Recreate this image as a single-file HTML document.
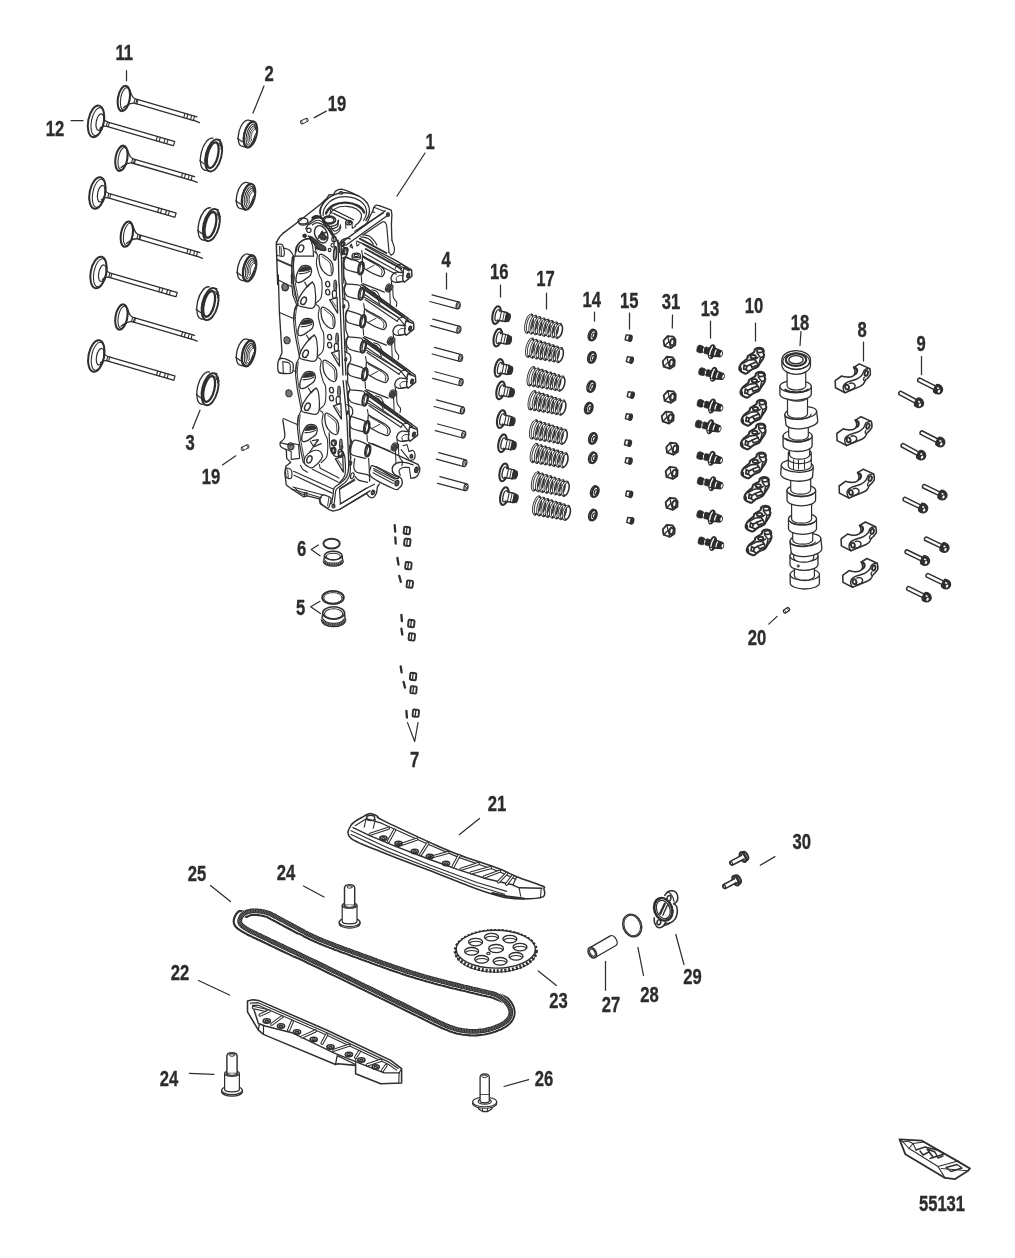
<!DOCTYPE html>
<html><head><meta charset="utf-8"><title>Cylinder Head and Camshaft</title>
<style>
html,body{margin:0;padding:0;background:#fff;}
svg{display:block;}
text{font-family:"Liberation Sans",sans-serif;font-weight:bold;fill:#2b2b2b;stroke:#2b2b2b;stroke-width:0.35px;}
</style></head><body>
<svg width="1015" height="1258" viewBox="0 0 1015 1258" stroke-linecap="round" stroke-linejoin="round">
<rect x="0" y="0" width="1015" height="1258" fill="#fff"/>
<g transform="translate(124.4 98.6) rotate(10)" >
<ellipse cx="-0.6" cy="0.0" rx="5.9" ry="12.8" stroke="#2f2f2f" stroke-width="2.04" fill="none"/>
<ellipse cx="0.9" cy="0.0" rx="4.6" ry="11.3" stroke="#2f2f2f" stroke-width="1.08" fill="none"/>
</g>
<g transform="translate(124.4 98.0) rotate(16.3)" >
<path d="M3.2,-9.0 C5.5,-6 6.5,-2.6 11,-2.2 L75,-2.2 M1.8,9.6 C4.5,6.5 6,2.6 11,2.2 L73,2.2" stroke="#2f2f2f" stroke-width="1.32" fill="none" />
<line x1="10.5" y1="-2.2" x2="10.5" y2="2.2" stroke="#2f2f2f" stroke-width="1.08"/>
<line x1="12.5" y1="-2.2" x2="12.5" y2="2.2" stroke="#2f2f2f" stroke-width="1.08"/>
<line x1="13.5" y1="-2.2" x2="13.5" y2="2.2" stroke="#2f2f2f" stroke-width="1.08"/>
<line x1="62.5" y1="-2.2" x2="62.5" y2="2.2" stroke="#2f2f2f" stroke-width="1.08"/>
<line x1="65.5" y1="-2.2" x2="65.5" y2="2.2" stroke="#2f2f2f" stroke-width="1.08"/>
<line x1="69.5" y1="-2.2" x2="69.5" y2="2.2" stroke="#2f2f2f" stroke-width="1.08"/>
<line x1="72.5" y1="-2.2" x2="72.5" y2="2.2" stroke="#2f2f2f" stroke-width="1.08"/>
<line x1="73.0" y1="2.0" x2="79.0" y2="2.6" stroke="#2f2f2f" stroke-width="1.32"/>
</g>
<g transform="translate(122.0 158.4) rotate(10)" >
<ellipse cx="-0.6" cy="0.0" rx="5.9" ry="12.8" stroke="#2f2f2f" stroke-width="2.04" fill="none"/>
<ellipse cx="0.9" cy="0.0" rx="4.6" ry="11.3" stroke="#2f2f2f" stroke-width="1.08" fill="none"/>
</g>
<g transform="translate(122.0 157.8) rotate(16.3)" >
<path d="M3.2,-9.0 C5.5,-6 6.5,-2.6 11,-2.2 L75,-2.2 M1.8,9.6 C4.5,6.5 6,2.6 11,2.2 L73,2.2" stroke="#2f2f2f" stroke-width="1.32" fill="none" />
<line x1="10.5" y1="-2.2" x2="10.5" y2="2.2" stroke="#2f2f2f" stroke-width="1.08"/>
<line x1="12.5" y1="-2.2" x2="12.5" y2="2.2" stroke="#2f2f2f" stroke-width="1.08"/>
<line x1="13.5" y1="-2.2" x2="13.5" y2="2.2" stroke="#2f2f2f" stroke-width="1.08"/>
<line x1="62.5" y1="-2.2" x2="62.5" y2="2.2" stroke="#2f2f2f" stroke-width="1.08"/>
<line x1="65.5" y1="-2.2" x2="65.5" y2="2.2" stroke="#2f2f2f" stroke-width="1.08"/>
<line x1="69.5" y1="-2.2" x2="69.5" y2="2.2" stroke="#2f2f2f" stroke-width="1.08"/>
<line x1="72.5" y1="-2.2" x2="72.5" y2="2.2" stroke="#2f2f2f" stroke-width="1.08"/>
<line x1="73.0" y1="2.0" x2="79.0" y2="2.6" stroke="#2f2f2f" stroke-width="1.32"/>
</g>
<g transform="translate(127.4 234.3) rotate(10)" >
<ellipse cx="-0.6" cy="0.0" rx="5.9" ry="12.8" stroke="#2f2f2f" stroke-width="2.04" fill="none"/>
<ellipse cx="0.9" cy="0.0" rx="4.6" ry="11.3" stroke="#2f2f2f" stroke-width="1.08" fill="none"/>
</g>
<g transform="translate(127.4 233.7) rotate(16.3)" >
<path d="M3.2,-9.0 C5.5,-6 6.5,-2.6 11,-2.2 L75,-2.2 M1.8,9.6 C4.5,6.5 6,2.6 11,2.2 L73,2.2" stroke="#2f2f2f" stroke-width="1.32" fill="none" />
<line x1="10.5" y1="-2.2" x2="10.5" y2="2.2" stroke="#2f2f2f" stroke-width="1.08"/>
<line x1="12.5" y1="-2.2" x2="12.5" y2="2.2" stroke="#2f2f2f" stroke-width="1.08"/>
<line x1="13.5" y1="-2.2" x2="13.5" y2="2.2" stroke="#2f2f2f" stroke-width="1.08"/>
<line x1="62.5" y1="-2.2" x2="62.5" y2="2.2" stroke="#2f2f2f" stroke-width="1.08"/>
<line x1="65.5" y1="-2.2" x2="65.5" y2="2.2" stroke="#2f2f2f" stroke-width="1.08"/>
<line x1="69.5" y1="-2.2" x2="69.5" y2="2.2" stroke="#2f2f2f" stroke-width="1.08"/>
<line x1="72.5" y1="-2.2" x2="72.5" y2="2.2" stroke="#2f2f2f" stroke-width="1.08"/>
<line x1="73.0" y1="2.0" x2="79.0" y2="2.6" stroke="#2f2f2f" stroke-width="1.32"/>
</g>
<g transform="translate(122.0 317.1) rotate(10)" >
<ellipse cx="-0.6" cy="0.0" rx="5.9" ry="12.8" stroke="#2f2f2f" stroke-width="2.04" fill="none"/>
<ellipse cx="0.9" cy="0.0" rx="4.6" ry="11.3" stroke="#2f2f2f" stroke-width="1.08" fill="none"/>
</g>
<g transform="translate(122.0 316.5) rotate(16.3)" >
<path d="M3.2,-9.0 C5.5,-6 6.5,-2.6 11,-2.2 L75,-2.2 M1.8,9.6 C4.5,6.5 6,2.6 11,2.2 L73,2.2" stroke="#2f2f2f" stroke-width="1.32" fill="none" />
<line x1="10.5" y1="-2.2" x2="10.5" y2="2.2" stroke="#2f2f2f" stroke-width="1.08"/>
<line x1="12.5" y1="-2.2" x2="12.5" y2="2.2" stroke="#2f2f2f" stroke-width="1.08"/>
<line x1="13.5" y1="-2.2" x2="13.5" y2="2.2" stroke="#2f2f2f" stroke-width="1.08"/>
<line x1="62.5" y1="-2.2" x2="62.5" y2="2.2" stroke="#2f2f2f" stroke-width="1.08"/>
<line x1="65.5" y1="-2.2" x2="65.5" y2="2.2" stroke="#2f2f2f" stroke-width="1.08"/>
<line x1="69.5" y1="-2.2" x2="69.5" y2="2.2" stroke="#2f2f2f" stroke-width="1.08"/>
<line x1="72.5" y1="-2.2" x2="72.5" y2="2.2" stroke="#2f2f2f" stroke-width="1.08"/>
<line x1="73.0" y1="2.0" x2="79.0" y2="2.6" stroke="#2f2f2f" stroke-width="1.32"/>
</g>
<g transform="translate(96.8 121.5) rotate(11)" >
<ellipse cx="-0.8" cy="0.0" rx="7.8" ry="16.0" stroke="#2f2f2f" stroke-width="2.0" fill="none"/>
<ellipse cx="0.8" cy="0.0" rx="6.2" ry="14.2" stroke="#2f2f2f" stroke-width="1.08" fill="none"/>
<ellipse cx="3.2" cy="0.0" rx="3.7" ry="8.4" stroke="#2f2f2f" stroke-width="1.2" fill="none"/>
</g>
<g transform="translate(96.8 121.1) rotate(16.2)" >
<path d="M5.5,-5.5 C6.5,-3 8,-2.4 11,-2.2 L80,-2.2 M5,6 C6.5,3.2 8,2.4 11,2.2 L80,2.2" stroke="#2f2f2f" stroke-width="1.32" fill="none" />
<line x1="10.5" y1="-2.2" x2="10.5" y2="2.2" stroke="#2f2f2f" stroke-width="1.08"/>
<line x1="12.5" y1="-2.2" x2="12.5" y2="2.2" stroke="#2f2f2f" stroke-width="1.08"/>
<line x1="62.5" y1="-2.2" x2="62.5" y2="2.2" stroke="#2f2f2f" stroke-width="1.08"/>
<line x1="65.5" y1="-2.2" x2="65.5" y2="2.2" stroke="#2f2f2f" stroke-width="1.08"/>
<line x1="70.5" y1="-2.2" x2="70.5" y2="2.2" stroke="#2f2f2f" stroke-width="1.08"/>
<line x1="73.5" y1="-2.2" x2="73.5" y2="2.2" stroke="#2f2f2f" stroke-width="1.08"/>
<line x1="80.5" y1="-2.2" x2="80.5" y2="2.2" stroke="#2f2f2f" stroke-width="1.2"/>
</g>
<g transform="translate(98.2 193.1) rotate(11)" >
<ellipse cx="-0.8" cy="0.0" rx="7.8" ry="16.0" stroke="#2f2f2f" stroke-width="2.0" fill="none"/>
<ellipse cx="0.8" cy="0.0" rx="6.2" ry="14.2" stroke="#2f2f2f" stroke-width="1.08" fill="none"/>
<ellipse cx="3.2" cy="0.0" rx="3.7" ry="8.4" stroke="#2f2f2f" stroke-width="1.2" fill="none"/>
</g>
<g transform="translate(98.2 192.7) rotate(16.2)" >
<path d="M5.5,-5.5 C6.5,-3 8,-2.4 11,-2.2 L80,-2.2 M5,6 C6.5,3.2 8,2.4 11,2.2 L80,2.2" stroke="#2f2f2f" stroke-width="1.32" fill="none" />
<line x1="10.5" y1="-2.2" x2="10.5" y2="2.2" stroke="#2f2f2f" stroke-width="1.08"/>
<line x1="12.5" y1="-2.2" x2="12.5" y2="2.2" stroke="#2f2f2f" stroke-width="1.08"/>
<line x1="62.5" y1="-2.2" x2="62.5" y2="2.2" stroke="#2f2f2f" stroke-width="1.08"/>
<line x1="65.5" y1="-2.2" x2="65.5" y2="2.2" stroke="#2f2f2f" stroke-width="1.08"/>
<line x1="70.5" y1="-2.2" x2="70.5" y2="2.2" stroke="#2f2f2f" stroke-width="1.08"/>
<line x1="73.5" y1="-2.2" x2="73.5" y2="2.2" stroke="#2f2f2f" stroke-width="1.08"/>
<line x1="80.5" y1="-2.2" x2="80.5" y2="2.2" stroke="#2f2f2f" stroke-width="1.2"/>
</g>
<g transform="translate(99.3 272.6) rotate(11)" >
<ellipse cx="-0.8" cy="0.0" rx="7.8" ry="16.0" stroke="#2f2f2f" stroke-width="2.0" fill="none"/>
<ellipse cx="0.8" cy="0.0" rx="6.2" ry="14.2" stroke="#2f2f2f" stroke-width="1.08" fill="none"/>
<ellipse cx="3.2" cy="0.0" rx="3.7" ry="8.4" stroke="#2f2f2f" stroke-width="1.2" fill="none"/>
</g>
<g transform="translate(99.3 272.2) rotate(16.2)" >
<path d="M5.5,-5.5 C6.5,-3 8,-2.4 11,-2.2 L80,-2.2 M5,6 C6.5,3.2 8,2.4 11,2.2 L80,2.2" stroke="#2f2f2f" stroke-width="1.32" fill="none" />
<line x1="10.5" y1="-2.2" x2="10.5" y2="2.2" stroke="#2f2f2f" stroke-width="1.08"/>
<line x1="12.5" y1="-2.2" x2="12.5" y2="2.2" stroke="#2f2f2f" stroke-width="1.08"/>
<line x1="62.5" y1="-2.2" x2="62.5" y2="2.2" stroke="#2f2f2f" stroke-width="1.08"/>
<line x1="65.5" y1="-2.2" x2="65.5" y2="2.2" stroke="#2f2f2f" stroke-width="1.08"/>
<line x1="70.5" y1="-2.2" x2="70.5" y2="2.2" stroke="#2f2f2f" stroke-width="1.08"/>
<line x1="73.5" y1="-2.2" x2="73.5" y2="2.2" stroke="#2f2f2f" stroke-width="1.08"/>
<line x1="80.5" y1="-2.2" x2="80.5" y2="2.2" stroke="#2f2f2f" stroke-width="1.2"/>
</g>
<g transform="translate(97.1 356.1) rotate(11)" >
<ellipse cx="-0.8" cy="0.0" rx="7.8" ry="16.0" stroke="#2f2f2f" stroke-width="2.0" fill="none"/>
<ellipse cx="0.8" cy="0.0" rx="6.2" ry="14.2" stroke="#2f2f2f" stroke-width="1.08" fill="none"/>
<ellipse cx="3.2" cy="0.0" rx="3.7" ry="8.4" stroke="#2f2f2f" stroke-width="1.2" fill="none"/>
</g>
<g transform="translate(97.1 355.7) rotate(16.2)" >
<path d="M5.5,-5.5 C6.5,-3 8,-2.4 11,-2.2 L80,-2.2 M5,6 C6.5,3.2 8,2.4 11,2.2 L80,2.2" stroke="#2f2f2f" stroke-width="1.32" fill="none" />
<line x1="10.5" y1="-2.2" x2="10.5" y2="2.2" stroke="#2f2f2f" stroke-width="1.08"/>
<line x1="12.5" y1="-2.2" x2="12.5" y2="2.2" stroke="#2f2f2f" stroke-width="1.08"/>
<line x1="62.5" y1="-2.2" x2="62.5" y2="2.2" stroke="#2f2f2f" stroke-width="1.08"/>
<line x1="65.5" y1="-2.2" x2="65.5" y2="2.2" stroke="#2f2f2f" stroke-width="1.08"/>
<line x1="70.5" y1="-2.2" x2="70.5" y2="2.2" stroke="#2f2f2f" stroke-width="1.08"/>
<line x1="73.5" y1="-2.2" x2="73.5" y2="2.2" stroke="#2f2f2f" stroke-width="1.08"/>
<line x1="80.5" y1="-2.2" x2="80.5" y2="2.2" stroke="#2f2f2f" stroke-width="1.2"/>
</g>
<g transform="translate(211.2 154.8) rotate(14)" >
<path d="M-2.4,-16.5 A7.8,16.5 0 0 0 -2.4,16.5" stroke="#2f2f2f" stroke-width="1.32" fill="none" />
<path d="M-2.4,16.5 L2.5,16.3 M-9.6,8.5 L-4.6,10.5" stroke="#2f2f2f" stroke-width="1.2" fill="none" />
<ellipse cx="2.5" cy="0.0" rx="7.8" ry="16.4" stroke="#2f2f2f" stroke-width="1.92" fill="none"/>
<ellipse cx="1.6" cy="0.0" rx="5.2" ry="13.2" stroke="#2f2f2f" stroke-width="2.28" fill="none"/>
<path d="M-3.6,-9 A6.2,14.6 0 0 0 -1,13.5" stroke="#2f2f2f" stroke-width="1.2" fill="none" />
<path d="M2.5,-16.4 L5.5,-16.8 M5,-13.5 L9,-8.5 M6.5,-11 L7.5,-13.5 M8,-8 L9.3,-10.5" stroke="#2f2f2f" stroke-width="1.08" fill="none" />
</g>
<g transform="translate(208.9 224.5) rotate(14)" >
<path d="M-2.4,-16.5 A7.8,16.5 0 0 0 -2.4,16.5" stroke="#2f2f2f" stroke-width="1.32" fill="none" />
<path d="M-2.4,16.5 L2.5,16.3 M-9.6,8.5 L-4.6,10.5" stroke="#2f2f2f" stroke-width="1.2" fill="none" />
<ellipse cx="2.5" cy="0.0" rx="7.8" ry="16.4" stroke="#2f2f2f" stroke-width="1.92" fill="none"/>
<ellipse cx="1.6" cy="0.0" rx="5.2" ry="13.2" stroke="#2f2f2f" stroke-width="2.28" fill="none"/>
<path d="M-3.6,-9 A6.2,14.6 0 0 0 -1,13.5" stroke="#2f2f2f" stroke-width="1.2" fill="none" />
<path d="M2.5,-16.4 L5.5,-16.8 M5,-13.5 L9,-8.5 M6.5,-11 L7.5,-13.5 M8,-8 L9.3,-10.5" stroke="#2f2f2f" stroke-width="1.08" fill="none" />
</g>
<g transform="translate(207.6 303.5) rotate(14)" >
<path d="M-2.4,-16.5 A7.8,16.5 0 0 0 -2.4,16.5" stroke="#2f2f2f" stroke-width="1.32" fill="none" />
<path d="M-2.4,16.5 L2.5,16.3 M-9.6,8.5 L-4.6,10.5" stroke="#2f2f2f" stroke-width="1.2" fill="none" />
<ellipse cx="2.5" cy="0.0" rx="7.8" ry="16.4" stroke="#2f2f2f" stroke-width="1.92" fill="none"/>
<ellipse cx="1.6" cy="0.0" rx="5.2" ry="13.2" stroke="#2f2f2f" stroke-width="2.28" fill="none"/>
<path d="M-3.6,-9 A6.2,14.6 0 0 0 -1,13.5" stroke="#2f2f2f" stroke-width="1.2" fill="none" />
<path d="M2.5,-16.4 L5.5,-16.8 M5,-13.5 L9,-8.5 M6.5,-11 L7.5,-13.5 M8,-8 L9.3,-10.5" stroke="#2f2f2f" stroke-width="1.08" fill="none" />
</g>
<g transform="translate(207.6 388.6) rotate(14)" >
<path d="M-2.4,-16.5 A7.8,16.5 0 0 0 -2.4,16.5" stroke="#2f2f2f" stroke-width="1.32" fill="none" />
<path d="M-2.4,16.5 L2.5,16.3 M-9.6,8.5 L-4.6,10.5" stroke="#2f2f2f" stroke-width="1.2" fill="none" />
<ellipse cx="2.5" cy="0.0" rx="7.8" ry="16.4" stroke="#2f2f2f" stroke-width="1.92" fill="none"/>
<ellipse cx="1.6" cy="0.0" rx="5.2" ry="13.2" stroke="#2f2f2f" stroke-width="2.28" fill="none"/>
<path d="M-3.6,-9 A6.2,14.6 0 0 0 -1,13.5" stroke="#2f2f2f" stroke-width="1.2" fill="none" />
<path d="M2.5,-16.4 L5.5,-16.8 M5,-13.5 L9,-8.5 M6.5,-11 L7.5,-13.5 M8,-8 L9.3,-10.5" stroke="#2f2f2f" stroke-width="1.08" fill="none" />
</g>
<g transform="translate(248.5 134.0) rotate(14)" >
<path d="M-3.5,-13.4 A6.3,13.4 0 0 0 -3.5,13.4 L2,13.4 M-3.5,-13.4 L2,-13.4" stroke="#2f2f2f" stroke-width="1.32" fill="none" />
<path d="M-9.6,7 L-4,9" stroke="#2f2f2f" stroke-width="1.2" fill="none" />
<ellipse cx="2.0" cy="0.0" rx="6.1" ry="13.3" stroke="#2f2f2f" stroke-width="2.04" fill="#fff"/>
<path d="M1.2,-12.4 A5.3,12.4 0 0 0 1.2,12.4" stroke="#2f2f2f" stroke-width="2.0" fill="none" />
<path d="M2.8,-10.7 A4.6,10.7 0 0 0 2.8,10.7" stroke="#2f2f2f" stroke-width="1.08" fill="none" />
<path d="M3.8,-9.2 A3.9,9.2 0 0 0 3.8,9.2" stroke="#2f2f2f" stroke-width="0.96" fill="none" />
<path d="M4.7,-7.7 A3.3,7.7 0 0 0 4.7,7.7" stroke="#2f2f2f" stroke-width="0.84" fill="none" />
<path d="M5.5,-6.2 A2.6,6.2 0 0 0 5.5,6.2" stroke="#2f2f2f" stroke-width="0.84" fill="none" />
<path d="M3,-11 L6,-6 M4.5,-11.5 L7.2,-4 M6.8,-2 L6,5 M7.4,2 L5,9 M4,10.8 L6.6,6.5" stroke="#2f2f2f" stroke-width="0.96" fill="none" />
</g>
<g transform="translate(246.6 196.3) rotate(14)" >
<path d="M-3.5,-13.4 A6.3,13.4 0 0 0 -3.5,13.4 L2,13.4 M-3.5,-13.4 L2,-13.4" stroke="#2f2f2f" stroke-width="1.32" fill="none" />
<path d="M-9.6,7 L-4,9" stroke="#2f2f2f" stroke-width="1.2" fill="none" />
<ellipse cx="2.0" cy="0.0" rx="6.1" ry="13.3" stroke="#2f2f2f" stroke-width="2.04" fill="#fff"/>
<path d="M1.2,-12.4 A5.3,12.4 0 0 0 1.2,12.4" stroke="#2f2f2f" stroke-width="2.0" fill="none" />
<path d="M2.8,-10.7 A4.6,10.7 0 0 0 2.8,10.7" stroke="#2f2f2f" stroke-width="1.08" fill="none" />
<path d="M3.8,-9.2 A3.9,9.2 0 0 0 3.8,9.2" stroke="#2f2f2f" stroke-width="0.96" fill="none" />
<path d="M4.7,-7.7 A3.3,7.7 0 0 0 4.7,7.7" stroke="#2f2f2f" stroke-width="0.84" fill="none" />
<path d="M5.5,-6.2 A2.6,6.2 0 0 0 5.5,6.2" stroke="#2f2f2f" stroke-width="0.84" fill="none" />
<path d="M3,-11 L6,-6 M4.5,-11.5 L7.2,-4 M6.8,-2 L6,5 M7.4,2 L5,9 M4,10.8 L6.6,6.5" stroke="#2f2f2f" stroke-width="0.96" fill="none" />
</g>
<g transform="translate(247.7 267.9) rotate(14)" >
<path d="M-3.5,-13.4 A6.3,13.4 0 0 0 -3.5,13.4 L2,13.4 M-3.5,-13.4 L2,-13.4" stroke="#2f2f2f" stroke-width="1.32" fill="none" />
<path d="M-9.6,7 L-4,9" stroke="#2f2f2f" stroke-width="1.2" fill="none" />
<ellipse cx="2.0" cy="0.0" rx="6.1" ry="13.3" stroke="#2f2f2f" stroke-width="2.04" fill="#fff"/>
<path d="M1.2,-12.4 A5.3,12.4 0 0 0 1.2,12.4" stroke="#2f2f2f" stroke-width="2.0" fill="none" />
<path d="M2.8,-10.7 A4.6,10.7 0 0 0 2.8,10.7" stroke="#2f2f2f" stroke-width="1.08" fill="none" />
<path d="M3.8,-9.2 A3.9,9.2 0 0 0 3.8,9.2" stroke="#2f2f2f" stroke-width="0.96" fill="none" />
<path d="M4.7,-7.7 A3.3,7.7 0 0 0 4.7,7.7" stroke="#2f2f2f" stroke-width="0.84" fill="none" />
<path d="M5.5,-6.2 A2.6,6.2 0 0 0 5.5,6.2" stroke="#2f2f2f" stroke-width="0.84" fill="none" />
<path d="M3,-11 L6,-6 M4.5,-11.5 L7.2,-4 M6.8,-2 L6,5 M7.4,2 L5,9 M4,10.8 L6.6,6.5" stroke="#2f2f2f" stroke-width="0.96" fill="none" />
</g>
<g transform="translate(246.6 352.9) rotate(14)" >
<path d="M-3.5,-13.4 A6.3,13.4 0 0 0 -3.5,13.4 L2,13.4 M-3.5,-13.4 L2,-13.4" stroke="#2f2f2f" stroke-width="1.32" fill="none" />
<path d="M-9.6,7 L-4,9" stroke="#2f2f2f" stroke-width="1.2" fill="none" />
<ellipse cx="2.0" cy="0.0" rx="6.1" ry="13.3" stroke="#2f2f2f" stroke-width="2.04" fill="#fff"/>
<path d="M1.2,-12.4 A5.3,12.4 0 0 0 1.2,12.4" stroke="#2f2f2f" stroke-width="2.0" fill="none" />
<path d="M2.8,-10.7 A4.6,10.7 0 0 0 2.8,10.7" stroke="#2f2f2f" stroke-width="1.08" fill="none" />
<path d="M3.8,-9.2 A3.9,9.2 0 0 0 3.8,9.2" stroke="#2f2f2f" stroke-width="0.96" fill="none" />
<path d="M4.7,-7.7 A3.3,7.7 0 0 0 4.7,7.7" stroke="#2f2f2f" stroke-width="0.84" fill="none" />
<path d="M5.5,-6.2 A2.6,6.2 0 0 0 5.5,6.2" stroke="#2f2f2f" stroke-width="0.84" fill="none" />
<path d="M3,-11 L6,-6 M4.5,-11.5 L7.2,-4 M6.8,-2 L6,5 M7.4,2 L5,9 M4,10.8 L6.6,6.5" stroke="#2f2f2f" stroke-width="0.96" fill="none" />
</g>
<g transform="translate(304.3 121.1) rotate(-25)" >
<rect x="-4.0" y="-1.7" width="8" height="3.4" rx="1.2" fill="none" stroke="#2f2f2f" stroke-width="0.9"/>
<line x1="-2.5" y1="-1.7" x2="-2.5" y2="1.7" stroke="#2f2f2f" stroke-width="0.72"/>
<line x1="2.5" y1="-1.7" x2="2.5" y2="1.7" stroke="#2f2f2f" stroke-width="0.72"/>
</g>
<g transform="translate(245.1 447.6) rotate(-25)" >
<rect x="-4.0" y="-1.7" width="8" height="3.4" rx="1.2" fill="none" stroke="#2f2f2f" stroke-width="0.9"/>
<line x1="-2.5" y1="-1.7" x2="-2.5" y2="1.7" stroke="#2f2f2f" stroke-width="0.72"/>
<line x1="2.5" y1="-1.7" x2="2.5" y2="1.7" stroke="#2f2f2f" stroke-width="0.72"/>
</g>
<line x1="126.5" y1="70.7" x2="126.5" y2="80.7" stroke="#2f2f2f" stroke-width="1.25"/>
<line x1="71.0" y1="120.5" x2="83.0" y2="120.5" stroke="#2f2f2f" stroke-width="1.25"/>
<line x1="264.0" y1="86.0" x2="253.0" y2="113.0" stroke="#2f2f2f" stroke-width="1.25"/>
<line x1="314.3" y1="117.6" x2="326.3" y2="111.1" stroke="#2f2f2f" stroke-width="1.25"/>
<line x1="425.0" y1="153.0" x2="397.0" y2="196.0" stroke="#2f2f2f" stroke-width="1.25"/>
<line x1="200.0" y1="410.3" x2="192.5" y2="428.7" stroke="#2f2f2f" stroke-width="1.25"/>
<line x1="235.8" y1="455.8" x2="222.4" y2="464.9" stroke="#2f2f2f" stroke-width="1.25"/>
<g transform="translate(458.2 305.5) rotate(15)" >
<line x1="-28.0" y1="-3.5" x2="0.0" y2="-3.5" stroke="#2f2f2f" stroke-width="1.2"/>
<line x1="-28.5" y1="3.5" x2="0.0" y2="3.5" stroke="#2f2f2f" stroke-width="1.2"/>
<ellipse cx="0.0" cy="0.0" rx="2.0" ry="3.4" stroke="#2f2f2f" stroke-width="1.2" fill="none"/>
<ellipse cx="0.2" cy="0.0" rx="1.0" ry="2.0" stroke="#2f2f2f" stroke-width="0.84" fill="none"/>
</g>
<g transform="translate(458.9 329.7) rotate(15)" >
<line x1="-28.0" y1="-3.5" x2="0.0" y2="-3.5" stroke="#2f2f2f" stroke-width="1.2"/>
<line x1="-28.5" y1="3.5" x2="0.0" y2="3.5" stroke="#2f2f2f" stroke-width="1.2"/>
<ellipse cx="0.0" cy="0.0" rx="2.0" ry="3.4" stroke="#2f2f2f" stroke-width="1.2" fill="none"/>
<ellipse cx="0.2" cy="0.0" rx="1.0" ry="2.0" stroke="#2f2f2f" stroke-width="0.84" fill="none"/>
</g>
<g transform="translate(460.6 358.0) rotate(15)" >
<line x1="-28.0" y1="-3.5" x2="0.0" y2="-3.5" stroke="#2f2f2f" stroke-width="1.2"/>
<line x1="-28.5" y1="3.5" x2="0.0" y2="3.5" stroke="#2f2f2f" stroke-width="1.2"/>
<ellipse cx="0.0" cy="0.0" rx="2.0" ry="3.4" stroke="#2f2f2f" stroke-width="1.2" fill="none"/>
<ellipse cx="0.2" cy="0.0" rx="1.0" ry="2.0" stroke="#2f2f2f" stroke-width="0.84" fill="none"/>
</g>
<g transform="translate(461.1 382.4) rotate(15)" >
<line x1="-28.0" y1="-3.5" x2="0.0" y2="-3.5" stroke="#2f2f2f" stroke-width="1.2"/>
<line x1="-28.5" y1="3.5" x2="0.0" y2="3.5" stroke="#2f2f2f" stroke-width="1.2"/>
<ellipse cx="0.0" cy="0.0" rx="2.0" ry="3.4" stroke="#2f2f2f" stroke-width="1.2" fill="none"/>
<ellipse cx="0.2" cy="0.0" rx="1.0" ry="2.0" stroke="#2f2f2f" stroke-width="0.84" fill="none"/>
</g>
<g transform="translate(462.5 410.5) rotate(15)" >
<line x1="-28.0" y1="-3.5" x2="0.0" y2="-3.5" stroke="#2f2f2f" stroke-width="1.2"/>
<line x1="-28.5" y1="3.5" x2="0.0" y2="3.5" stroke="#2f2f2f" stroke-width="1.2"/>
<ellipse cx="0.0" cy="0.0" rx="2.0" ry="3.4" stroke="#2f2f2f" stroke-width="1.2" fill="none"/>
<ellipse cx="0.2" cy="0.0" rx="1.0" ry="2.0" stroke="#2f2f2f" stroke-width="0.84" fill="none"/>
</g>
<g transform="translate(463.7 434.6) rotate(15)" >
<line x1="-28.0" y1="-3.5" x2="0.0" y2="-3.5" stroke="#2f2f2f" stroke-width="1.2"/>
<line x1="-28.5" y1="3.5" x2="0.0" y2="3.5" stroke="#2f2f2f" stroke-width="1.2"/>
<ellipse cx="0.0" cy="0.0" rx="2.0" ry="3.4" stroke="#2f2f2f" stroke-width="1.2" fill="none"/>
<ellipse cx="0.2" cy="0.0" rx="1.0" ry="2.0" stroke="#2f2f2f" stroke-width="0.84" fill="none"/>
</g>
<g transform="translate(464.8 463.2) rotate(15)" >
<line x1="-28.0" y1="-3.5" x2="0.0" y2="-3.5" stroke="#2f2f2f" stroke-width="1.2"/>
<line x1="-28.5" y1="3.5" x2="0.0" y2="3.5" stroke="#2f2f2f" stroke-width="1.2"/>
<ellipse cx="0.0" cy="0.0" rx="2.0" ry="3.4" stroke="#2f2f2f" stroke-width="1.2" fill="none"/>
<ellipse cx="0.2" cy="0.0" rx="1.0" ry="2.0" stroke="#2f2f2f" stroke-width="0.84" fill="none"/>
</g>
<g transform="translate(466.0 487.3) rotate(15)" >
<line x1="-28.0" y1="-3.5" x2="0.0" y2="-3.5" stroke="#2f2f2f" stroke-width="1.2"/>
<line x1="-28.5" y1="3.5" x2="0.0" y2="3.5" stroke="#2f2f2f" stroke-width="1.2"/>
<ellipse cx="0.0" cy="0.0" rx="2.0" ry="3.4" stroke="#2f2f2f" stroke-width="1.2" fill="none"/>
<ellipse cx="0.2" cy="0.0" rx="1.0" ry="2.0" stroke="#2f2f2f" stroke-width="0.84" fill="none"/>
</g>
<line x1="446.5" y1="273.0" x2="446.5" y2="289.0" stroke="#2f2f2f" stroke-width="1.25"/>
<g transform="translate(501.0 316.0) rotate(12)" >
<ellipse cx="-4.5" cy="0.0" rx="4.0" ry="9.0" stroke="#2f2f2f" stroke-width="2.1" fill="none"/>
<ellipse cx="-3.6" cy="0.0" rx="2.2" ry="5.8" stroke="#2f2f2f" stroke-width="1.32" fill="none"/>
<path d="M-2.5,-4.8 L5,-4.6 L5,4.6 L-2.5,4.8" stroke="#2f2f2f" stroke-width="1.44" fill="#fff" />
<path d="M5,-4.6 L8.5,-3.6 Q10.3,0 8.5,3.6 L5,4.6 Z" stroke="#2f2f2f" stroke-width="1.2" fill="#2f2f2f" />
<line x1="-0.5" y1="-4.7" x2="-0.5" y2="4.7" stroke="#2f2f2f" stroke-width="1.08"/>
<line x1="2.5" y1="-4.6" x2="2.5" y2="4.6" stroke="#2f2f2f" stroke-width="0.96"/>
</g>
<g transform="translate(502.2 338.6) rotate(12)" >
<ellipse cx="-4.5" cy="0.0" rx="4.0" ry="9.0" stroke="#2f2f2f" stroke-width="2.1" fill="none"/>
<ellipse cx="-3.6" cy="0.0" rx="2.2" ry="5.8" stroke="#2f2f2f" stroke-width="1.32" fill="none"/>
<path d="M-2.5,-4.8 L5,-4.6 L5,4.6 L-2.5,4.8" stroke="#2f2f2f" stroke-width="1.44" fill="#fff" />
<path d="M5,-4.6 L8.5,-3.6 Q10.3,0 8.5,3.6 L5,4.6 Z" stroke="#2f2f2f" stroke-width="1.2" fill="#2f2f2f" />
<line x1="-0.5" y1="-4.7" x2="-0.5" y2="4.7" stroke="#2f2f2f" stroke-width="1.08"/>
<line x1="2.5" y1="-4.6" x2="2.5" y2="4.6" stroke="#2f2f2f" stroke-width="0.96"/>
</g>
<g transform="translate(503.4 368.9) rotate(12)" >
<ellipse cx="-4.5" cy="0.0" rx="4.0" ry="9.0" stroke="#2f2f2f" stroke-width="2.1" fill="none"/>
<ellipse cx="-3.6" cy="0.0" rx="2.2" ry="5.8" stroke="#2f2f2f" stroke-width="1.32" fill="none"/>
<path d="M-2.5,-4.8 L5,-4.6 L5,4.6 L-2.5,4.8" stroke="#2f2f2f" stroke-width="1.44" fill="#fff" />
<path d="M5,-4.6 L8.5,-3.6 Q10.3,0 8.5,3.6 L5,4.6 Z" stroke="#2f2f2f" stroke-width="1.2" fill="#2f2f2f" />
<line x1="-0.5" y1="-4.7" x2="-0.5" y2="4.7" stroke="#2f2f2f" stroke-width="1.08"/>
<line x1="2.5" y1="-4.6" x2="2.5" y2="4.6" stroke="#2f2f2f" stroke-width="0.96"/>
</g>
<g transform="translate(505.0 391.3) rotate(12)" >
<ellipse cx="-4.5" cy="0.0" rx="4.0" ry="9.0" stroke="#2f2f2f" stroke-width="2.1" fill="none"/>
<ellipse cx="-3.6" cy="0.0" rx="2.2" ry="5.8" stroke="#2f2f2f" stroke-width="1.32" fill="none"/>
<path d="M-2.5,-4.8 L5,-4.6 L5,4.6 L-2.5,4.8" stroke="#2f2f2f" stroke-width="1.44" fill="#fff" />
<path d="M5,-4.6 L8.5,-3.6 Q10.3,0 8.5,3.6 L5,4.6 Z" stroke="#2f2f2f" stroke-width="1.2" fill="#2f2f2f" />
<line x1="-0.5" y1="-4.7" x2="-0.5" y2="4.7" stroke="#2f2f2f" stroke-width="1.08"/>
<line x1="2.5" y1="-4.6" x2="2.5" y2="4.6" stroke="#2f2f2f" stroke-width="0.96"/>
</g>
<g transform="translate(505.7 420.1) rotate(12)" >
<ellipse cx="-4.5" cy="0.0" rx="4.0" ry="9.0" stroke="#2f2f2f" stroke-width="2.1" fill="none"/>
<ellipse cx="-3.6" cy="0.0" rx="2.2" ry="5.8" stroke="#2f2f2f" stroke-width="1.32" fill="none"/>
<path d="M-2.5,-4.8 L5,-4.6 L5,4.6 L-2.5,4.8" stroke="#2f2f2f" stroke-width="1.44" fill="#fff" />
<path d="M5,-4.6 L8.5,-3.6 Q10.3,0 8.5,3.6 L5,4.6 Z" stroke="#2f2f2f" stroke-width="1.2" fill="#2f2f2f" />
<line x1="-0.5" y1="-4.7" x2="-0.5" y2="4.7" stroke="#2f2f2f" stroke-width="1.08"/>
<line x1="2.5" y1="-4.6" x2="2.5" y2="4.6" stroke="#2f2f2f" stroke-width="0.96"/>
</g>
<g transform="translate(506.9 444.2) rotate(12)" >
<ellipse cx="-4.5" cy="0.0" rx="4.0" ry="9.0" stroke="#2f2f2f" stroke-width="2.1" fill="none"/>
<ellipse cx="-3.6" cy="0.0" rx="2.2" ry="5.8" stroke="#2f2f2f" stroke-width="1.32" fill="none"/>
<path d="M-2.5,-4.8 L5,-4.6 L5,4.6 L-2.5,4.8" stroke="#2f2f2f" stroke-width="1.44" fill="#fff" />
<path d="M5,-4.6 L8.5,-3.6 Q10.3,0 8.5,3.6 L5,4.6 Z" stroke="#2f2f2f" stroke-width="1.2" fill="#2f2f2f" />
<line x1="-0.5" y1="-4.7" x2="-0.5" y2="4.7" stroke="#2f2f2f" stroke-width="1.08"/>
<line x1="2.5" y1="-4.6" x2="2.5" y2="4.6" stroke="#2f2f2f" stroke-width="0.96"/>
</g>
<g transform="translate(508.1 473.3) rotate(12)" >
<ellipse cx="-4.5" cy="0.0" rx="4.0" ry="9.0" stroke="#2f2f2f" stroke-width="2.1" fill="none"/>
<ellipse cx="-3.6" cy="0.0" rx="2.2" ry="5.8" stroke="#2f2f2f" stroke-width="1.32" fill="none"/>
<path d="M-2.5,-4.8 L5,-4.6 L5,4.6 L-2.5,4.8" stroke="#2f2f2f" stroke-width="1.44" fill="#fff" />
<path d="M5,-4.6 L8.5,-3.6 Q10.3,0 8.5,3.6 L5,4.6 Z" stroke="#2f2f2f" stroke-width="1.2" fill="#2f2f2f" />
<line x1="-0.5" y1="-4.7" x2="-0.5" y2="4.7" stroke="#2f2f2f" stroke-width="1.08"/>
<line x1="2.5" y1="-4.6" x2="2.5" y2="4.6" stroke="#2f2f2f" stroke-width="0.96"/>
</g>
<g transform="translate(508.8 497.0) rotate(12)" >
<ellipse cx="-4.5" cy="0.0" rx="4.0" ry="9.0" stroke="#2f2f2f" stroke-width="2.1" fill="none"/>
<ellipse cx="-3.6" cy="0.0" rx="2.2" ry="5.8" stroke="#2f2f2f" stroke-width="1.32" fill="none"/>
<path d="M-2.5,-4.8 L5,-4.6 L5,4.6 L-2.5,4.8" stroke="#2f2f2f" stroke-width="1.44" fill="#fff" />
<path d="M5,-4.6 L8.5,-3.6 Q10.3,0 8.5,3.6 L5,4.6 Z" stroke="#2f2f2f" stroke-width="1.2" fill="#2f2f2f" />
<line x1="-0.5" y1="-4.7" x2="-0.5" y2="4.7" stroke="#2f2f2f" stroke-width="1.08"/>
<line x1="2.5" y1="-4.6" x2="2.5" y2="4.6" stroke="#2f2f2f" stroke-width="0.96"/>
</g>
<line x1="500.5" y1="285.0" x2="500.5" y2="297.0" stroke="#2f2f2f" stroke-width="1.25"/>
<g transform="translate(544.1 327.3) rotate(14)" >
<path d="M-15.20,-9.10 A3.3,9.10 0 0 0 -15.20,9.10" stroke="#2f2f2f" stroke-width="2.7" fill="none" />
<path d="M-15.20,-9.10 A3.3,9.10 0 0 0 -15.20,9.10" stroke="#f2f2f2" stroke-width="0.96" fill="none" />
<path d="M-15.20,-9.10 A3.3,9.10 0 0 1 -15.20,9.10" stroke="#2f2f2f" stroke-width="1.56" fill="none" />
<path d="M-10.85,-8.80 A3.3,8.80 0 0 0 -10.85,8.80" stroke="#2f2f2f" stroke-width="2.7" fill="none" />
<path d="M-10.85,-8.80 A3.3,8.80 0 0 0 -10.85,8.80" stroke="#f2f2f2" stroke-width="0.96" fill="none" />
<path d="M-10.85,-8.80 A3.3,8.80 0 0 1 -10.85,8.80" stroke="#2f2f2f" stroke-width="1.56" fill="none" />
<path d="M-6.50,-8.50 A3.3,8.50 0 0 0 -6.50,8.50" stroke="#2f2f2f" stroke-width="2.7" fill="none" />
<path d="M-6.50,-8.50 A3.3,8.50 0 0 0 -6.50,8.50" stroke="#f2f2f2" stroke-width="0.96" fill="none" />
<path d="M-6.50,-8.50 A3.3,8.50 0 0 1 -6.50,8.50" stroke="#2f2f2f" stroke-width="1.56" fill="none" />
<path d="M-2.15,-8.20 A3.3,8.20 0 0 0 -2.15,8.20" stroke="#2f2f2f" stroke-width="2.7" fill="none" />
<path d="M-2.15,-8.20 A3.3,8.20 0 0 0 -2.15,8.20" stroke="#f2f2f2" stroke-width="0.96" fill="none" />
<path d="M-2.15,-8.20 A3.3,8.20 0 0 1 -2.15,8.20" stroke="#2f2f2f" stroke-width="1.56" fill="none" />
<path d="M2.20,-7.90 A3.3,7.90 0 0 0 2.20,7.90" stroke="#2f2f2f" stroke-width="2.7" fill="none" />
<path d="M2.20,-7.90 A3.3,7.90 0 0 0 2.20,7.90" stroke="#f2f2f2" stroke-width="0.96" fill="none" />
<path d="M2.20,-7.90 A3.3,7.90 0 0 1 2.20,7.90" stroke="#2f2f2f" stroke-width="1.56" fill="none" />
<path d="M6.55,-7.60 A3.3,7.60 0 0 0 6.55,7.60" stroke="#2f2f2f" stroke-width="2.7" fill="none" />
<path d="M6.55,-7.60 A3.3,7.60 0 0 0 6.55,7.60" stroke="#f2f2f2" stroke-width="0.96" fill="none" />
<path d="M6.55,-7.60 A3.3,7.60 0 0 1 6.55,7.60" stroke="#2f2f2f" stroke-width="1.56" fill="none" />
<path d="M10.90,-7.30 A3.3,7.30 0 0 0 10.90,7.30" stroke="#2f2f2f" stroke-width="2.7" fill="none" />
<path d="M10.90,-7.30 A3.3,7.30 0 0 0 10.90,7.30" stroke="#f2f2f2" stroke-width="0.96" fill="none" />
<path d="M10.90,-7.30 A3.3,7.30 0 0 1 10.90,7.30" stroke="#2f2f2f" stroke-width="1.56" fill="none" />
<path d="M15.25,-7.00 A3.3,7.00 0 0 0 15.25,7.00" stroke="#2f2f2f" stroke-width="2.7" fill="none" />
<path d="M15.25,-7.00 A3.3,7.00 0 0 0 15.25,7.00" stroke="#f2f2f2" stroke-width="0.96" fill="none" />
<path d="M15.25,-7.00 A3.3,7.00 0 0 1 15.25,7.00" stroke="#2f2f2f" stroke-width="1.56" fill="none" />
</g>
<g transform="translate(545.0 351.4) rotate(14)" >
<path d="M-15.20,-9.10 A3.3,9.10 0 0 0 -15.20,9.10" stroke="#2f2f2f" stroke-width="2.7" fill="none" />
<path d="M-15.20,-9.10 A3.3,9.10 0 0 0 -15.20,9.10" stroke="#f2f2f2" stroke-width="0.96" fill="none" />
<path d="M-15.20,-9.10 A3.3,9.10 0 0 1 -15.20,9.10" stroke="#2f2f2f" stroke-width="1.56" fill="none" />
<path d="M-10.85,-8.80 A3.3,8.80 0 0 0 -10.85,8.80" stroke="#2f2f2f" stroke-width="2.7" fill="none" />
<path d="M-10.85,-8.80 A3.3,8.80 0 0 0 -10.85,8.80" stroke="#f2f2f2" stroke-width="0.96" fill="none" />
<path d="M-10.85,-8.80 A3.3,8.80 0 0 1 -10.85,8.80" stroke="#2f2f2f" stroke-width="1.56" fill="none" />
<path d="M-6.50,-8.50 A3.3,8.50 0 0 0 -6.50,8.50" stroke="#2f2f2f" stroke-width="2.7" fill="none" />
<path d="M-6.50,-8.50 A3.3,8.50 0 0 0 -6.50,8.50" stroke="#f2f2f2" stroke-width="0.96" fill="none" />
<path d="M-6.50,-8.50 A3.3,8.50 0 0 1 -6.50,8.50" stroke="#2f2f2f" stroke-width="1.56" fill="none" />
<path d="M-2.15,-8.20 A3.3,8.20 0 0 0 -2.15,8.20" stroke="#2f2f2f" stroke-width="2.7" fill="none" />
<path d="M-2.15,-8.20 A3.3,8.20 0 0 0 -2.15,8.20" stroke="#f2f2f2" stroke-width="0.96" fill="none" />
<path d="M-2.15,-8.20 A3.3,8.20 0 0 1 -2.15,8.20" stroke="#2f2f2f" stroke-width="1.56" fill="none" />
<path d="M2.20,-7.90 A3.3,7.90 0 0 0 2.20,7.90" stroke="#2f2f2f" stroke-width="2.7" fill="none" />
<path d="M2.20,-7.90 A3.3,7.90 0 0 0 2.20,7.90" stroke="#f2f2f2" stroke-width="0.96" fill="none" />
<path d="M2.20,-7.90 A3.3,7.90 0 0 1 2.20,7.90" stroke="#2f2f2f" stroke-width="1.56" fill="none" />
<path d="M6.55,-7.60 A3.3,7.60 0 0 0 6.55,7.60" stroke="#2f2f2f" stroke-width="2.7" fill="none" />
<path d="M6.55,-7.60 A3.3,7.60 0 0 0 6.55,7.60" stroke="#f2f2f2" stroke-width="0.96" fill="none" />
<path d="M6.55,-7.60 A3.3,7.60 0 0 1 6.55,7.60" stroke="#2f2f2f" stroke-width="1.56" fill="none" />
<path d="M10.90,-7.30 A3.3,7.30 0 0 0 10.90,7.30" stroke="#2f2f2f" stroke-width="2.7" fill="none" />
<path d="M10.90,-7.30 A3.3,7.30 0 0 0 10.90,7.30" stroke="#f2f2f2" stroke-width="0.96" fill="none" />
<path d="M10.90,-7.30 A3.3,7.30 0 0 1 10.90,7.30" stroke="#2f2f2f" stroke-width="1.56" fill="none" />
<path d="M15.25,-7.00 A3.3,7.00 0 0 0 15.25,7.00" stroke="#2f2f2f" stroke-width="2.7" fill="none" />
<path d="M15.25,-7.00 A3.3,7.00 0 0 0 15.25,7.00" stroke="#f2f2f2" stroke-width="0.96" fill="none" />
<path d="M15.25,-7.00 A3.3,7.00 0 0 1 15.25,7.00" stroke="#2f2f2f" stroke-width="1.56" fill="none" />
</g>
<g transform="translate(546.5 380.0) rotate(14)" >
<path d="M-15.20,-9.10 A3.3,9.10 0 0 0 -15.20,9.10" stroke="#2f2f2f" stroke-width="2.7" fill="none" />
<path d="M-15.20,-9.10 A3.3,9.10 0 0 0 -15.20,9.10" stroke="#f2f2f2" stroke-width="0.96" fill="none" />
<path d="M-15.20,-9.10 A3.3,9.10 0 0 1 -15.20,9.10" stroke="#2f2f2f" stroke-width="1.56" fill="none" />
<path d="M-10.85,-8.80 A3.3,8.80 0 0 0 -10.85,8.80" stroke="#2f2f2f" stroke-width="2.7" fill="none" />
<path d="M-10.85,-8.80 A3.3,8.80 0 0 0 -10.85,8.80" stroke="#f2f2f2" stroke-width="0.96" fill="none" />
<path d="M-10.85,-8.80 A3.3,8.80 0 0 1 -10.85,8.80" stroke="#2f2f2f" stroke-width="1.56" fill="none" />
<path d="M-6.50,-8.50 A3.3,8.50 0 0 0 -6.50,8.50" stroke="#2f2f2f" stroke-width="2.7" fill="none" />
<path d="M-6.50,-8.50 A3.3,8.50 0 0 0 -6.50,8.50" stroke="#f2f2f2" stroke-width="0.96" fill="none" />
<path d="M-6.50,-8.50 A3.3,8.50 0 0 1 -6.50,8.50" stroke="#2f2f2f" stroke-width="1.56" fill="none" />
<path d="M-2.15,-8.20 A3.3,8.20 0 0 0 -2.15,8.20" stroke="#2f2f2f" stroke-width="2.7" fill="none" />
<path d="M-2.15,-8.20 A3.3,8.20 0 0 0 -2.15,8.20" stroke="#f2f2f2" stroke-width="0.96" fill="none" />
<path d="M-2.15,-8.20 A3.3,8.20 0 0 1 -2.15,8.20" stroke="#2f2f2f" stroke-width="1.56" fill="none" />
<path d="M2.20,-7.90 A3.3,7.90 0 0 0 2.20,7.90" stroke="#2f2f2f" stroke-width="2.7" fill="none" />
<path d="M2.20,-7.90 A3.3,7.90 0 0 0 2.20,7.90" stroke="#f2f2f2" stroke-width="0.96" fill="none" />
<path d="M2.20,-7.90 A3.3,7.90 0 0 1 2.20,7.90" stroke="#2f2f2f" stroke-width="1.56" fill="none" />
<path d="M6.55,-7.60 A3.3,7.60 0 0 0 6.55,7.60" stroke="#2f2f2f" stroke-width="2.7" fill="none" />
<path d="M6.55,-7.60 A3.3,7.60 0 0 0 6.55,7.60" stroke="#f2f2f2" stroke-width="0.96" fill="none" />
<path d="M6.55,-7.60 A3.3,7.60 0 0 1 6.55,7.60" stroke="#2f2f2f" stroke-width="1.56" fill="none" />
<path d="M10.90,-7.30 A3.3,7.30 0 0 0 10.90,7.30" stroke="#2f2f2f" stroke-width="2.7" fill="none" />
<path d="M10.90,-7.30 A3.3,7.30 0 0 0 10.90,7.30" stroke="#f2f2f2" stroke-width="0.96" fill="none" />
<path d="M10.90,-7.30 A3.3,7.30 0 0 1 10.90,7.30" stroke="#2f2f2f" stroke-width="1.56" fill="none" />
<path d="M15.25,-7.00 A3.3,7.00 0 0 0 15.25,7.00" stroke="#2f2f2f" stroke-width="2.7" fill="none" />
<path d="M15.25,-7.00 A3.3,7.00 0 0 0 15.25,7.00" stroke="#f2f2f2" stroke-width="0.96" fill="none" />
<path d="M15.25,-7.00 A3.3,7.00 0 0 1 15.25,7.00" stroke="#2f2f2f" stroke-width="1.56" fill="none" />
</g>
<g transform="translate(547.5 404.0) rotate(14)" >
<path d="M-15.20,-9.10 A3.3,9.10 0 0 0 -15.20,9.10" stroke="#2f2f2f" stroke-width="2.7" fill="none" />
<path d="M-15.20,-9.10 A3.3,9.10 0 0 0 -15.20,9.10" stroke="#f2f2f2" stroke-width="0.96" fill="none" />
<path d="M-15.20,-9.10 A3.3,9.10 0 0 1 -15.20,9.10" stroke="#2f2f2f" stroke-width="1.56" fill="none" />
<path d="M-10.85,-8.80 A3.3,8.80 0 0 0 -10.85,8.80" stroke="#2f2f2f" stroke-width="2.7" fill="none" />
<path d="M-10.85,-8.80 A3.3,8.80 0 0 0 -10.85,8.80" stroke="#f2f2f2" stroke-width="0.96" fill="none" />
<path d="M-10.85,-8.80 A3.3,8.80 0 0 1 -10.85,8.80" stroke="#2f2f2f" stroke-width="1.56" fill="none" />
<path d="M-6.50,-8.50 A3.3,8.50 0 0 0 -6.50,8.50" stroke="#2f2f2f" stroke-width="2.7" fill="none" />
<path d="M-6.50,-8.50 A3.3,8.50 0 0 0 -6.50,8.50" stroke="#f2f2f2" stroke-width="0.96" fill="none" />
<path d="M-6.50,-8.50 A3.3,8.50 0 0 1 -6.50,8.50" stroke="#2f2f2f" stroke-width="1.56" fill="none" />
<path d="M-2.15,-8.20 A3.3,8.20 0 0 0 -2.15,8.20" stroke="#2f2f2f" stroke-width="2.7" fill="none" />
<path d="M-2.15,-8.20 A3.3,8.20 0 0 0 -2.15,8.20" stroke="#f2f2f2" stroke-width="0.96" fill="none" />
<path d="M-2.15,-8.20 A3.3,8.20 0 0 1 -2.15,8.20" stroke="#2f2f2f" stroke-width="1.56" fill="none" />
<path d="M2.20,-7.90 A3.3,7.90 0 0 0 2.20,7.90" stroke="#2f2f2f" stroke-width="2.7" fill="none" />
<path d="M2.20,-7.90 A3.3,7.90 0 0 0 2.20,7.90" stroke="#f2f2f2" stroke-width="0.96" fill="none" />
<path d="M2.20,-7.90 A3.3,7.90 0 0 1 2.20,7.90" stroke="#2f2f2f" stroke-width="1.56" fill="none" />
<path d="M6.55,-7.60 A3.3,7.60 0 0 0 6.55,7.60" stroke="#2f2f2f" stroke-width="2.7" fill="none" />
<path d="M6.55,-7.60 A3.3,7.60 0 0 0 6.55,7.60" stroke="#f2f2f2" stroke-width="0.96" fill="none" />
<path d="M6.55,-7.60 A3.3,7.60 0 0 1 6.55,7.60" stroke="#2f2f2f" stroke-width="1.56" fill="none" />
<path d="M10.90,-7.30 A3.3,7.30 0 0 0 10.90,7.30" stroke="#2f2f2f" stroke-width="2.7" fill="none" />
<path d="M10.90,-7.30 A3.3,7.30 0 0 0 10.90,7.30" stroke="#f2f2f2" stroke-width="0.96" fill="none" />
<path d="M10.90,-7.30 A3.3,7.30 0 0 1 10.90,7.30" stroke="#2f2f2f" stroke-width="1.56" fill="none" />
<path d="M15.25,-7.00 A3.3,7.00 0 0 0 15.25,7.00" stroke="#2f2f2f" stroke-width="2.7" fill="none" />
<path d="M15.25,-7.00 A3.3,7.00 0 0 0 15.25,7.00" stroke="#f2f2f2" stroke-width="0.96" fill="none" />
<path d="M15.25,-7.00 A3.3,7.00 0 0 1 15.25,7.00" stroke="#2f2f2f" stroke-width="1.56" fill="none" />
</g>
<g transform="translate(548.9 433.1) rotate(14)" >
<path d="M-15.20,-9.10 A3.3,9.10 0 0 0 -15.20,9.10" stroke="#2f2f2f" stroke-width="2.7" fill="none" />
<path d="M-15.20,-9.10 A3.3,9.10 0 0 0 -15.20,9.10" stroke="#f2f2f2" stroke-width="0.96" fill="none" />
<path d="M-15.20,-9.10 A3.3,9.10 0 0 1 -15.20,9.10" stroke="#2f2f2f" stroke-width="1.56" fill="none" />
<path d="M-10.85,-8.80 A3.3,8.80 0 0 0 -10.85,8.80" stroke="#2f2f2f" stroke-width="2.7" fill="none" />
<path d="M-10.85,-8.80 A3.3,8.80 0 0 0 -10.85,8.80" stroke="#f2f2f2" stroke-width="0.96" fill="none" />
<path d="M-10.85,-8.80 A3.3,8.80 0 0 1 -10.85,8.80" stroke="#2f2f2f" stroke-width="1.56" fill="none" />
<path d="M-6.50,-8.50 A3.3,8.50 0 0 0 -6.50,8.50" stroke="#2f2f2f" stroke-width="2.7" fill="none" />
<path d="M-6.50,-8.50 A3.3,8.50 0 0 0 -6.50,8.50" stroke="#f2f2f2" stroke-width="0.96" fill="none" />
<path d="M-6.50,-8.50 A3.3,8.50 0 0 1 -6.50,8.50" stroke="#2f2f2f" stroke-width="1.56" fill="none" />
<path d="M-2.15,-8.20 A3.3,8.20 0 0 0 -2.15,8.20" stroke="#2f2f2f" stroke-width="2.7" fill="none" />
<path d="M-2.15,-8.20 A3.3,8.20 0 0 0 -2.15,8.20" stroke="#f2f2f2" stroke-width="0.96" fill="none" />
<path d="M-2.15,-8.20 A3.3,8.20 0 0 1 -2.15,8.20" stroke="#2f2f2f" stroke-width="1.56" fill="none" />
<path d="M2.20,-7.90 A3.3,7.90 0 0 0 2.20,7.90" stroke="#2f2f2f" stroke-width="2.7" fill="none" />
<path d="M2.20,-7.90 A3.3,7.90 0 0 0 2.20,7.90" stroke="#f2f2f2" stroke-width="0.96" fill="none" />
<path d="M2.20,-7.90 A3.3,7.90 0 0 1 2.20,7.90" stroke="#2f2f2f" stroke-width="1.56" fill="none" />
<path d="M6.55,-7.60 A3.3,7.60 0 0 0 6.55,7.60" stroke="#2f2f2f" stroke-width="2.7" fill="none" />
<path d="M6.55,-7.60 A3.3,7.60 0 0 0 6.55,7.60" stroke="#f2f2f2" stroke-width="0.96" fill="none" />
<path d="M6.55,-7.60 A3.3,7.60 0 0 1 6.55,7.60" stroke="#2f2f2f" stroke-width="1.56" fill="none" />
<path d="M10.90,-7.30 A3.3,7.30 0 0 0 10.90,7.30" stroke="#2f2f2f" stroke-width="2.7" fill="none" />
<path d="M10.90,-7.30 A3.3,7.30 0 0 0 10.90,7.30" stroke="#f2f2f2" stroke-width="0.96" fill="none" />
<path d="M10.90,-7.30 A3.3,7.30 0 0 1 10.90,7.30" stroke="#2f2f2f" stroke-width="1.56" fill="none" />
<path d="M15.25,-7.00 A3.3,7.00 0 0 0 15.25,7.00" stroke="#2f2f2f" stroke-width="2.7" fill="none" />
<path d="M15.25,-7.00 A3.3,7.00 0 0 0 15.25,7.00" stroke="#f2f2f2" stroke-width="0.96" fill="none" />
<path d="M15.25,-7.00 A3.3,7.00 0 0 1 15.25,7.00" stroke="#2f2f2f" stroke-width="1.56" fill="none" />
</g>
<g transform="translate(549.6 456.7) rotate(14)" >
<path d="M-15.20,-9.10 A3.3,9.10 0 0 0 -15.20,9.10" stroke="#2f2f2f" stroke-width="2.7" fill="none" />
<path d="M-15.20,-9.10 A3.3,9.10 0 0 0 -15.20,9.10" stroke="#f2f2f2" stroke-width="0.96" fill="none" />
<path d="M-15.20,-9.10 A3.3,9.10 0 0 1 -15.20,9.10" stroke="#2f2f2f" stroke-width="1.56" fill="none" />
<path d="M-10.85,-8.80 A3.3,8.80 0 0 0 -10.85,8.80" stroke="#2f2f2f" stroke-width="2.7" fill="none" />
<path d="M-10.85,-8.80 A3.3,8.80 0 0 0 -10.85,8.80" stroke="#f2f2f2" stroke-width="0.96" fill="none" />
<path d="M-10.85,-8.80 A3.3,8.80 0 0 1 -10.85,8.80" stroke="#2f2f2f" stroke-width="1.56" fill="none" />
<path d="M-6.50,-8.50 A3.3,8.50 0 0 0 -6.50,8.50" stroke="#2f2f2f" stroke-width="2.7" fill="none" />
<path d="M-6.50,-8.50 A3.3,8.50 0 0 0 -6.50,8.50" stroke="#f2f2f2" stroke-width="0.96" fill="none" />
<path d="M-6.50,-8.50 A3.3,8.50 0 0 1 -6.50,8.50" stroke="#2f2f2f" stroke-width="1.56" fill="none" />
<path d="M-2.15,-8.20 A3.3,8.20 0 0 0 -2.15,8.20" stroke="#2f2f2f" stroke-width="2.7" fill="none" />
<path d="M-2.15,-8.20 A3.3,8.20 0 0 0 -2.15,8.20" stroke="#f2f2f2" stroke-width="0.96" fill="none" />
<path d="M-2.15,-8.20 A3.3,8.20 0 0 1 -2.15,8.20" stroke="#2f2f2f" stroke-width="1.56" fill="none" />
<path d="M2.20,-7.90 A3.3,7.90 0 0 0 2.20,7.90" stroke="#2f2f2f" stroke-width="2.7" fill="none" />
<path d="M2.20,-7.90 A3.3,7.90 0 0 0 2.20,7.90" stroke="#f2f2f2" stroke-width="0.96" fill="none" />
<path d="M2.20,-7.90 A3.3,7.90 0 0 1 2.20,7.90" stroke="#2f2f2f" stroke-width="1.56" fill="none" />
<path d="M6.55,-7.60 A3.3,7.60 0 0 0 6.55,7.60" stroke="#2f2f2f" stroke-width="2.7" fill="none" />
<path d="M6.55,-7.60 A3.3,7.60 0 0 0 6.55,7.60" stroke="#f2f2f2" stroke-width="0.96" fill="none" />
<path d="M6.55,-7.60 A3.3,7.60 0 0 1 6.55,7.60" stroke="#2f2f2f" stroke-width="1.56" fill="none" />
<path d="M10.90,-7.30 A3.3,7.30 0 0 0 10.90,7.30" stroke="#2f2f2f" stroke-width="2.7" fill="none" />
<path d="M10.90,-7.30 A3.3,7.30 0 0 0 10.90,7.30" stroke="#f2f2f2" stroke-width="0.96" fill="none" />
<path d="M10.90,-7.30 A3.3,7.30 0 0 1 10.90,7.30" stroke="#2f2f2f" stroke-width="1.56" fill="none" />
<path d="M15.25,-7.00 A3.3,7.00 0 0 0 15.25,7.00" stroke="#2f2f2f" stroke-width="2.7" fill="none" />
<path d="M15.25,-7.00 A3.3,7.00 0 0 0 15.25,7.00" stroke="#f2f2f2" stroke-width="0.96" fill="none" />
<path d="M15.25,-7.00 A3.3,7.00 0 0 1 15.25,7.00" stroke="#2f2f2f" stroke-width="1.56" fill="none" />
</g>
<g transform="translate(550.8 485.1) rotate(14)" >
<path d="M-15.20,-9.10 A3.3,9.10 0 0 0 -15.20,9.10" stroke="#2f2f2f" stroke-width="2.7" fill="none" />
<path d="M-15.20,-9.10 A3.3,9.10 0 0 0 -15.20,9.10" stroke="#f2f2f2" stroke-width="0.96" fill="none" />
<path d="M-15.20,-9.10 A3.3,9.10 0 0 1 -15.20,9.10" stroke="#2f2f2f" stroke-width="1.56" fill="none" />
<path d="M-10.85,-8.80 A3.3,8.80 0 0 0 -10.85,8.80" stroke="#2f2f2f" stroke-width="2.7" fill="none" />
<path d="M-10.85,-8.80 A3.3,8.80 0 0 0 -10.85,8.80" stroke="#f2f2f2" stroke-width="0.96" fill="none" />
<path d="M-10.85,-8.80 A3.3,8.80 0 0 1 -10.85,8.80" stroke="#2f2f2f" stroke-width="1.56" fill="none" />
<path d="M-6.50,-8.50 A3.3,8.50 0 0 0 -6.50,8.50" stroke="#2f2f2f" stroke-width="2.7" fill="none" />
<path d="M-6.50,-8.50 A3.3,8.50 0 0 0 -6.50,8.50" stroke="#f2f2f2" stroke-width="0.96" fill="none" />
<path d="M-6.50,-8.50 A3.3,8.50 0 0 1 -6.50,8.50" stroke="#2f2f2f" stroke-width="1.56" fill="none" />
<path d="M-2.15,-8.20 A3.3,8.20 0 0 0 -2.15,8.20" stroke="#2f2f2f" stroke-width="2.7" fill="none" />
<path d="M-2.15,-8.20 A3.3,8.20 0 0 0 -2.15,8.20" stroke="#f2f2f2" stroke-width="0.96" fill="none" />
<path d="M-2.15,-8.20 A3.3,8.20 0 0 1 -2.15,8.20" stroke="#2f2f2f" stroke-width="1.56" fill="none" />
<path d="M2.20,-7.90 A3.3,7.90 0 0 0 2.20,7.90" stroke="#2f2f2f" stroke-width="2.7" fill="none" />
<path d="M2.20,-7.90 A3.3,7.90 0 0 0 2.20,7.90" stroke="#f2f2f2" stroke-width="0.96" fill="none" />
<path d="M2.20,-7.90 A3.3,7.90 0 0 1 2.20,7.90" stroke="#2f2f2f" stroke-width="1.56" fill="none" />
<path d="M6.55,-7.60 A3.3,7.60 0 0 0 6.55,7.60" stroke="#2f2f2f" stroke-width="2.7" fill="none" />
<path d="M6.55,-7.60 A3.3,7.60 0 0 0 6.55,7.60" stroke="#f2f2f2" stroke-width="0.96" fill="none" />
<path d="M6.55,-7.60 A3.3,7.60 0 0 1 6.55,7.60" stroke="#2f2f2f" stroke-width="1.56" fill="none" />
<path d="M10.90,-7.30 A3.3,7.30 0 0 0 10.90,7.30" stroke="#2f2f2f" stroke-width="2.7" fill="none" />
<path d="M10.90,-7.30 A3.3,7.30 0 0 0 10.90,7.30" stroke="#f2f2f2" stroke-width="0.96" fill="none" />
<path d="M10.90,-7.30 A3.3,7.30 0 0 1 10.90,7.30" stroke="#2f2f2f" stroke-width="1.56" fill="none" />
<path d="M15.25,-7.00 A3.3,7.00 0 0 0 15.25,7.00" stroke="#2f2f2f" stroke-width="2.7" fill="none" />
<path d="M15.25,-7.00 A3.3,7.00 0 0 0 15.25,7.00" stroke="#f2f2f2" stroke-width="0.96" fill="none" />
<path d="M15.25,-7.00 A3.3,7.00 0 0 1 15.25,7.00" stroke="#2f2f2f" stroke-width="1.56" fill="none" />
</g>
<g transform="translate(552.0 509.2) rotate(14)" >
<path d="M-15.20,-9.10 A3.3,9.10 0 0 0 -15.20,9.10" stroke="#2f2f2f" stroke-width="2.7" fill="none" />
<path d="M-15.20,-9.10 A3.3,9.10 0 0 0 -15.20,9.10" stroke="#f2f2f2" stroke-width="0.96" fill="none" />
<path d="M-15.20,-9.10 A3.3,9.10 0 0 1 -15.20,9.10" stroke="#2f2f2f" stroke-width="1.56" fill="none" />
<path d="M-10.85,-8.80 A3.3,8.80 0 0 0 -10.85,8.80" stroke="#2f2f2f" stroke-width="2.7" fill="none" />
<path d="M-10.85,-8.80 A3.3,8.80 0 0 0 -10.85,8.80" stroke="#f2f2f2" stroke-width="0.96" fill="none" />
<path d="M-10.85,-8.80 A3.3,8.80 0 0 1 -10.85,8.80" stroke="#2f2f2f" stroke-width="1.56" fill="none" />
<path d="M-6.50,-8.50 A3.3,8.50 0 0 0 -6.50,8.50" stroke="#2f2f2f" stroke-width="2.7" fill="none" />
<path d="M-6.50,-8.50 A3.3,8.50 0 0 0 -6.50,8.50" stroke="#f2f2f2" stroke-width="0.96" fill="none" />
<path d="M-6.50,-8.50 A3.3,8.50 0 0 1 -6.50,8.50" stroke="#2f2f2f" stroke-width="1.56" fill="none" />
<path d="M-2.15,-8.20 A3.3,8.20 0 0 0 -2.15,8.20" stroke="#2f2f2f" stroke-width="2.7" fill="none" />
<path d="M-2.15,-8.20 A3.3,8.20 0 0 0 -2.15,8.20" stroke="#f2f2f2" stroke-width="0.96" fill="none" />
<path d="M-2.15,-8.20 A3.3,8.20 0 0 1 -2.15,8.20" stroke="#2f2f2f" stroke-width="1.56" fill="none" />
<path d="M2.20,-7.90 A3.3,7.90 0 0 0 2.20,7.90" stroke="#2f2f2f" stroke-width="2.7" fill="none" />
<path d="M2.20,-7.90 A3.3,7.90 0 0 0 2.20,7.90" stroke="#f2f2f2" stroke-width="0.96" fill="none" />
<path d="M2.20,-7.90 A3.3,7.90 0 0 1 2.20,7.90" stroke="#2f2f2f" stroke-width="1.56" fill="none" />
<path d="M6.55,-7.60 A3.3,7.60 0 0 0 6.55,7.60" stroke="#2f2f2f" stroke-width="2.7" fill="none" />
<path d="M6.55,-7.60 A3.3,7.60 0 0 0 6.55,7.60" stroke="#f2f2f2" stroke-width="0.96" fill="none" />
<path d="M6.55,-7.60 A3.3,7.60 0 0 1 6.55,7.60" stroke="#2f2f2f" stroke-width="1.56" fill="none" />
<path d="M10.90,-7.30 A3.3,7.30 0 0 0 10.90,7.30" stroke="#2f2f2f" stroke-width="2.7" fill="none" />
<path d="M10.90,-7.30 A3.3,7.30 0 0 0 10.90,7.30" stroke="#f2f2f2" stroke-width="0.96" fill="none" />
<path d="M10.90,-7.30 A3.3,7.30 0 0 1 10.90,7.30" stroke="#2f2f2f" stroke-width="1.56" fill="none" />
<path d="M15.25,-7.00 A3.3,7.00 0 0 0 15.25,7.00" stroke="#2f2f2f" stroke-width="2.7" fill="none" />
<path d="M15.25,-7.00 A3.3,7.00 0 0 0 15.25,7.00" stroke="#f2f2f2" stroke-width="0.96" fill="none" />
<path d="M15.25,-7.00 A3.3,7.00 0 0 1 15.25,7.00" stroke="#2f2f2f" stroke-width="1.56" fill="none" />
</g>
<line x1="546.5" y1="293.0" x2="546.5" y2="309.0" stroke="#2f2f2f" stroke-width="1.25"/>
<g transform="translate(592.7 335.2) rotate(18)" >
<ellipse cx="-0.8" cy="0.0" rx="3.5" ry="5.8" stroke="#2f2f2f" stroke-width="1.44" fill="none"/>
<ellipse cx="0.4" cy="0.0" rx="3.1" ry="5.3" stroke="#2f2f2f" stroke-width="2.04" fill="none"/>
<ellipse cx="0.7" cy="0.0" rx="1.2" ry="2.5" stroke="#2f2f2f" stroke-width="1.2" fill="none"/>
</g>
<g transform="translate(592.1 357.5) rotate(18)" >
<ellipse cx="-0.8" cy="0.0" rx="3.5" ry="5.8" stroke="#2f2f2f" stroke-width="1.44" fill="none"/>
<ellipse cx="0.4" cy="0.0" rx="3.1" ry="5.3" stroke="#2f2f2f" stroke-width="2.04" fill="none"/>
<ellipse cx="0.7" cy="0.0" rx="1.2" ry="2.5" stroke="#2f2f2f" stroke-width="1.2" fill="none"/>
</g>
<g transform="translate(591.4 386.6) rotate(18)" >
<ellipse cx="-0.8" cy="0.0" rx="3.5" ry="5.8" stroke="#2f2f2f" stroke-width="1.44" fill="none"/>
<ellipse cx="0.4" cy="0.0" rx="3.1" ry="5.3" stroke="#2f2f2f" stroke-width="2.04" fill="none"/>
<ellipse cx="0.7" cy="0.0" rx="1.2" ry="2.5" stroke="#2f2f2f" stroke-width="1.2" fill="none"/>
</g>
<g transform="translate(589.0 408.3) rotate(18)" >
<ellipse cx="-0.8" cy="0.0" rx="3.5" ry="5.8" stroke="#2f2f2f" stroke-width="1.44" fill="none"/>
<ellipse cx="0.4" cy="0.0" rx="3.1" ry="5.3" stroke="#2f2f2f" stroke-width="2.04" fill="none"/>
<ellipse cx="0.7" cy="0.0" rx="1.2" ry="2.5" stroke="#2f2f2f" stroke-width="1.2" fill="none"/>
</g>
<g transform="translate(593.1 438.5) rotate(18)" >
<ellipse cx="-0.8" cy="0.0" rx="3.5" ry="5.8" stroke="#2f2f2f" stroke-width="1.44" fill="none"/>
<ellipse cx="0.4" cy="0.0" rx="3.1" ry="5.3" stroke="#2f2f2f" stroke-width="2.04" fill="none"/>
<ellipse cx="0.7" cy="0.0" rx="1.2" ry="2.5" stroke="#2f2f2f" stroke-width="1.2" fill="none"/>
</g>
<g transform="translate(593.1 457.9) rotate(18)" >
<ellipse cx="-0.8" cy="0.0" rx="3.5" ry="5.8" stroke="#2f2f2f" stroke-width="1.44" fill="none"/>
<ellipse cx="0.4" cy="0.0" rx="3.1" ry="5.3" stroke="#2f2f2f" stroke-width="2.04" fill="none"/>
<ellipse cx="0.7" cy="0.0" rx="1.2" ry="2.5" stroke="#2f2f2f" stroke-width="1.2" fill="none"/>
</g>
<g transform="translate(595.0 491.7) rotate(18)" >
<ellipse cx="-0.8" cy="0.0" rx="3.5" ry="5.8" stroke="#2f2f2f" stroke-width="1.44" fill="none"/>
<ellipse cx="0.4" cy="0.0" rx="3.1" ry="5.3" stroke="#2f2f2f" stroke-width="2.04" fill="none"/>
<ellipse cx="0.7" cy="0.0" rx="1.2" ry="2.5" stroke="#2f2f2f" stroke-width="1.2" fill="none"/>
</g>
<g transform="translate(593.1 515.2) rotate(18)" >
<ellipse cx="-0.8" cy="0.0" rx="3.5" ry="5.8" stroke="#2f2f2f" stroke-width="1.44" fill="none"/>
<ellipse cx="0.4" cy="0.0" rx="3.1" ry="5.3" stroke="#2f2f2f" stroke-width="2.04" fill="none"/>
<ellipse cx="0.7" cy="0.0" rx="1.2" ry="2.5" stroke="#2f2f2f" stroke-width="1.2" fill="none"/>
</g>
<line x1="594.5" y1="312.0" x2="594.5" y2="321.0" stroke="#2f2f2f" stroke-width="1.25"/>
<g transform="translate(628.8 338.0) rotate(12)" >
<path d="M-3.2,-2.5 L1.5,-2.9 L1.5,2.9 L-3.2,2.5 Z" stroke="#2f2f2f" stroke-width="1.44" fill="#fff" />
<ellipse cx="1.7" cy="0.0" rx="1.5" ry="3.0" stroke="#2f2f2f" stroke-width="1.56" fill="#333"/>
</g>
<g transform="translate(630.0 359.9) rotate(12)" >
<path d="M-3.2,-2.5 L1.5,-2.9 L1.5,2.9 L-3.2,2.5 Z" stroke="#2f2f2f" stroke-width="1.44" fill="#fff" />
<ellipse cx="1.7" cy="0.0" rx="1.5" ry="3.0" stroke="#2f2f2f" stroke-width="1.56" fill="#333"/>
</g>
<g transform="translate(630.9 394.9) rotate(12)" >
<path d="M-3.2,-2.5 L1.5,-2.9 L1.5,2.9 L-3.2,2.5 Z" stroke="#2f2f2f" stroke-width="1.44" fill="#fff" />
<ellipse cx="1.7" cy="0.0" rx="1.5" ry="3.0" stroke="#2f2f2f" stroke-width="1.56" fill="#333"/>
</g>
<g transform="translate(629.0 416.9) rotate(12)" >
<path d="M-3.2,-2.5 L1.5,-2.9 L1.5,2.9 L-3.2,2.5 Z" stroke="#2f2f2f" stroke-width="1.44" fill="#fff" />
<ellipse cx="1.7" cy="0.0" rx="1.5" ry="3.0" stroke="#2f2f2f" stroke-width="1.56" fill="#333"/>
</g>
<g transform="translate(628.1 443.0) rotate(12)" >
<path d="M-3.2,-2.5 L1.5,-2.9 L1.5,2.9 L-3.2,2.5 Z" stroke="#2f2f2f" stroke-width="1.44" fill="#fff" />
<ellipse cx="1.7" cy="0.0" rx="1.5" ry="3.0" stroke="#2f2f2f" stroke-width="1.56" fill="#333"/>
</g>
<g transform="translate(628.8 460.8) rotate(12)" >
<path d="M-3.2,-2.5 L1.5,-2.9 L1.5,2.9 L-3.2,2.5 Z" stroke="#2f2f2f" stroke-width="1.44" fill="#fff" />
<ellipse cx="1.7" cy="0.0" rx="1.5" ry="3.0" stroke="#2f2f2f" stroke-width="1.56" fill="#333"/>
</g>
<g transform="translate(629.3 494.1) rotate(12)" >
<path d="M-3.2,-2.5 L1.5,-2.9 L1.5,2.9 L-3.2,2.5 Z" stroke="#2f2f2f" stroke-width="1.44" fill="#fff" />
<ellipse cx="1.7" cy="0.0" rx="1.5" ry="3.0" stroke="#2f2f2f" stroke-width="1.56" fill="#333"/>
</g>
<g transform="translate(630.4 520.6) rotate(12)" >
<path d="M-3.2,-2.5 L1.5,-2.9 L1.5,2.9 L-3.2,2.5 Z" stroke="#2f2f2f" stroke-width="1.44" fill="#fff" />
<ellipse cx="1.7" cy="0.0" rx="1.5" ry="3.0" stroke="#2f2f2f" stroke-width="1.56" fill="#333"/>
</g>
<line x1="629.5" y1="313.0" x2="629.5" y2="329.0" stroke="#2f2f2f" stroke-width="1.25"/>
<g transform="translate(669.4 341.9) scale(0.9)" >
<path d="M-6.5,-1.5 L-2.0,-6.5 L4.5,-5.8 L6.8,-2.5 L6.5,3.5 L1.5,6.8 L-5.5,4.5 Z" stroke="#2f2f2f" stroke-width="2.04" fill="none" />
<path d="M-2.0,-6.5 L-0.5,-0.5 L-5.5,4.5" stroke="#2f2f2f" stroke-width="1.44" fill="none" />
<path d="M-0.5,-0.5 L1.5,6.8" stroke="#2f2f2f" stroke-width="1.44" fill="none" />
<ellipse cx="3.2" cy="0.3" rx="2.2" ry="3.6" stroke="#2f2f2f" stroke-width="2.0" fill="none" transform="rotate(12 3.2 0.3)"/>
</g>
<g transform="translate(668.6 362.6) scale(0.9)" >
<path d="M-6.5,-1.5 L-2.0,-6.5 L4.5,-5.8 L6.8,-2.5 L6.5,3.5 L1.5,6.8 L-5.5,4.5 Z" stroke="#2f2f2f" stroke-width="2.04" fill="none" />
<path d="M-2.0,-6.5 L-0.5,-0.5 L-5.5,4.5" stroke="#2f2f2f" stroke-width="1.44" fill="none" />
<path d="M-0.5,-0.5 L1.5,6.8" stroke="#2f2f2f" stroke-width="1.44" fill="none" />
<ellipse cx="3.2" cy="0.3" rx="2.2" ry="3.6" stroke="#2f2f2f" stroke-width="2.0" fill="none" transform="rotate(12 3.2 0.3)"/>
</g>
<g transform="translate(669.6 396.7) scale(0.9)" >
<path d="M-6.5,-1.5 L-2.0,-6.5 L4.5,-5.8 L6.8,-2.5 L6.5,3.5 L1.5,6.8 L-5.5,4.5 Z" stroke="#2f2f2f" stroke-width="2.04" fill="none" />
<path d="M-2.0,-6.5 L-0.5,-0.5 L-5.5,4.5" stroke="#2f2f2f" stroke-width="1.44" fill="none" />
<path d="M-0.5,-0.5 L1.5,6.8" stroke="#2f2f2f" stroke-width="1.44" fill="none" />
<ellipse cx="3.2" cy="0.3" rx="2.2" ry="3.6" stroke="#2f2f2f" stroke-width="2.0" fill="none" transform="rotate(12 3.2 0.3)"/>
</g>
<g transform="translate(667.6 417.4) scale(0.9)" >
<path d="M-6.5,-1.5 L-2.0,-6.5 L4.5,-5.8 L6.8,-2.5 L6.5,3.5 L1.5,6.8 L-5.5,4.5 Z" stroke="#2f2f2f" stroke-width="2.04" fill="none" />
<path d="M-2.0,-6.5 L-0.5,-0.5 L-5.5,4.5" stroke="#2f2f2f" stroke-width="1.44" fill="none" />
<path d="M-0.5,-0.5 L1.5,6.8" stroke="#2f2f2f" stroke-width="1.44" fill="none" />
<ellipse cx="3.2" cy="0.3" rx="2.2" ry="3.6" stroke="#2f2f2f" stroke-width="2.0" fill="none" transform="rotate(12 3.2 0.3)"/>
</g>
<g transform="translate(672.1 448.6) scale(0.9)" >
<path d="M-6.5,-1.5 L-2.0,-6.5 L4.5,-5.8 L6.8,-2.5 L6.5,3.5 L1.5,6.8 L-5.5,4.5 Z" stroke="#2f2f2f" stroke-width="2.04" fill="none" />
<path d="M-2.0,-6.5 L-0.5,-0.5 L-5.5,4.5" stroke="#2f2f2f" stroke-width="1.44" fill="none" />
<path d="M-0.5,-0.5 L1.5,6.8" stroke="#2f2f2f" stroke-width="1.44" fill="none" />
<ellipse cx="3.2" cy="0.3" rx="2.2" ry="3.6" stroke="#2f2f2f" stroke-width="2.0" fill="none" transform="rotate(12 3.2 0.3)"/>
</g>
<g transform="translate(671.5 472.8) scale(0.9)" >
<path d="M-6.5,-1.5 L-2.0,-6.5 L4.5,-5.8 L6.8,-2.5 L6.5,3.5 L1.5,6.8 L-5.5,4.5 Z" stroke="#2f2f2f" stroke-width="2.04" fill="none" />
<path d="M-2.0,-6.5 L-0.5,-0.5 L-5.5,4.5" stroke="#2f2f2f" stroke-width="1.44" fill="none" />
<path d="M-0.5,-0.5 L1.5,6.8" stroke="#2f2f2f" stroke-width="1.44" fill="none" />
<ellipse cx="3.2" cy="0.3" rx="2.2" ry="3.6" stroke="#2f2f2f" stroke-width="2.0" fill="none" transform="rotate(12 3.2 0.3)"/>
</g>
<g transform="translate(671.5 503.7) scale(0.9)" >
<path d="M-6.5,-1.5 L-2.0,-6.5 L4.5,-5.8 L6.8,-2.5 L6.5,3.5 L1.5,6.8 L-5.5,4.5 Z" stroke="#2f2f2f" stroke-width="2.04" fill="none" />
<path d="M-2.0,-6.5 L-0.5,-0.5 L-5.5,4.5" stroke="#2f2f2f" stroke-width="1.44" fill="none" />
<path d="M-0.5,-0.5 L1.5,6.8" stroke="#2f2f2f" stroke-width="1.44" fill="none" />
<ellipse cx="3.2" cy="0.3" rx="2.2" ry="3.6" stroke="#2f2f2f" stroke-width="2.0" fill="none" transform="rotate(12 3.2 0.3)"/>
</g>
<g transform="translate(668.6 530.7) scale(0.9)" >
<path d="M-6.5,-1.5 L-2.0,-6.5 L4.5,-5.8 L6.8,-2.5 L6.5,3.5 L1.5,6.8 L-5.5,4.5 Z" stroke="#2f2f2f" stroke-width="2.04" fill="none" />
<path d="M-2.0,-6.5 L-0.5,-0.5 L-5.5,4.5" stroke="#2f2f2f" stroke-width="1.44" fill="none" />
<path d="M-0.5,-0.5 L1.5,6.8" stroke="#2f2f2f" stroke-width="1.44" fill="none" />
<ellipse cx="3.2" cy="0.3" rx="2.2" ry="3.6" stroke="#2f2f2f" stroke-width="2.0" fill="none" transform="rotate(12 3.2 0.3)"/>
</g>
<line x1="672.5" y1="315.0" x2="672.3" y2="328.0" stroke="#2f2f2f" stroke-width="1.25"/>
<g transform="translate(710.1 351.4) rotate(13)" >
<rect x="-13.4" y="-3.7" width="6.6" height="7.4" rx="2.2" fill="#2c2c2c" stroke="#2c2c2c" stroke-width="0.6"/>
<rect x="-6.3" y="-3.3" width="6.3" height="6.6" rx="1.6" fill="#2c2c2c" stroke="#2c2c2c" stroke-width="0.6"/>
<path d="M3,-4.3 L11,-3.1 Q14.2,0 11,3.1 L3,4.3 Z" stroke="#2c2c2c" stroke-width="1.2" fill="#2c2c2c" />
<ellipse cx="1.6" cy="0.0" rx="2.9" ry="6.9" stroke="#2c2c2c" stroke-width="1.44" fill="#2c2c2c"/>
<path d="M1.2,-5 Q-0.2,-1 0.2,3.2" stroke="#fff" stroke-width="1.32" fill="none" />
<path d="M0.6,5.2 L1.4,5.6" stroke="#fff" stroke-width="1.08" fill="none" />
<path d="M5.6,-2.6 Q4.8,0 5.2,2.4" stroke="#fff" stroke-width="1.2" fill="none" />
<ellipse cx="11.4" cy="0.0" rx="0.8" ry="1.9" stroke="#fff" stroke-width="0.12" fill="#fff"/>
<path d="M-7,-1.2 L-6.6,1.4" stroke="#fff" stroke-width="0.96" fill="none" />
</g>
<g transform="translate(712.0 374.0) rotate(13)" >
<rect x="-13.4" y="-3.7" width="6.6" height="7.4" rx="2.2" fill="#2c2c2c" stroke="#2c2c2c" stroke-width="0.6"/>
<rect x="-6.3" y="-3.3" width="6.3" height="6.6" rx="1.6" fill="#2c2c2c" stroke="#2c2c2c" stroke-width="0.6"/>
<path d="M3,-4.3 L11,-3.1 Q14.2,0 11,3.1 L3,4.3 Z" stroke="#2c2c2c" stroke-width="1.2" fill="#2c2c2c" />
<ellipse cx="1.6" cy="0.0" rx="2.9" ry="6.9" stroke="#2c2c2c" stroke-width="1.44" fill="#2c2c2c"/>
<path d="M1.2,-5 Q-0.2,-1 0.2,3.2" stroke="#fff" stroke-width="1.32" fill="none" />
<path d="M0.6,5.2 L1.4,5.6" stroke="#fff" stroke-width="1.08" fill="none" />
<path d="M5.6,-2.6 Q4.8,0 5.2,2.4" stroke="#fff" stroke-width="1.2" fill="none" />
<ellipse cx="11.4" cy="0.0" rx="0.8" ry="1.9" stroke="#fff" stroke-width="0.12" fill="#fff"/>
<path d="M-7,-1.2 L-6.6,1.4" stroke="#fff" stroke-width="0.96" fill="none" />
</g>
<g transform="translate(710.4 405.6) rotate(13)" >
<rect x="-13.4" y="-3.7" width="6.6" height="7.4" rx="2.2" fill="#2c2c2c" stroke="#2c2c2c" stroke-width="0.6"/>
<rect x="-6.3" y="-3.3" width="6.3" height="6.6" rx="1.6" fill="#2c2c2c" stroke="#2c2c2c" stroke-width="0.6"/>
<path d="M3,-4.3 L11,-3.1 Q14.2,0 11,3.1 L3,4.3 Z" stroke="#2c2c2c" stroke-width="1.2" fill="#2c2c2c" />
<ellipse cx="1.6" cy="0.0" rx="2.9" ry="6.9" stroke="#2c2c2c" stroke-width="1.44" fill="#2c2c2c"/>
<path d="M1.2,-5 Q-0.2,-1 0.2,3.2" stroke="#fff" stroke-width="1.32" fill="none" />
<path d="M0.6,5.2 L1.4,5.6" stroke="#fff" stroke-width="1.08" fill="none" />
<path d="M5.6,-2.6 Q4.8,0 5.2,2.4" stroke="#fff" stroke-width="1.2" fill="none" />
<ellipse cx="11.4" cy="0.0" rx="0.8" ry="1.9" stroke="#fff" stroke-width="0.12" fill="#fff"/>
<path d="M-7,-1.2 L-6.6,1.4" stroke="#fff" stroke-width="0.96" fill="none" />
</g>
<g transform="translate(708.6 426.4) rotate(13)" >
<rect x="-13.4" y="-3.7" width="6.6" height="7.4" rx="2.2" fill="#2c2c2c" stroke="#2c2c2c" stroke-width="0.6"/>
<rect x="-6.3" y="-3.3" width="6.3" height="6.6" rx="1.6" fill="#2c2c2c" stroke="#2c2c2c" stroke-width="0.6"/>
<path d="M3,-4.3 L11,-3.1 Q14.2,0 11,3.1 L3,4.3 Z" stroke="#2c2c2c" stroke-width="1.2" fill="#2c2c2c" />
<ellipse cx="1.6" cy="0.0" rx="2.9" ry="6.9" stroke="#2c2c2c" stroke-width="1.44" fill="#2c2c2c"/>
<path d="M1.2,-5 Q-0.2,-1 0.2,3.2" stroke="#fff" stroke-width="1.32" fill="none" />
<path d="M0.6,5.2 L1.4,5.6" stroke="#fff" stroke-width="1.08" fill="none" />
<path d="M5.6,-2.6 Q4.8,0 5.2,2.4" stroke="#fff" stroke-width="1.2" fill="none" />
<ellipse cx="11.4" cy="0.0" rx="0.8" ry="1.9" stroke="#fff" stroke-width="0.12" fill="#fff"/>
<path d="M-7,-1.2 L-6.6,1.4" stroke="#fff" stroke-width="0.96" fill="none" />
</g>
<g transform="translate(710.1 458.0) rotate(13)" >
<rect x="-13.4" y="-3.7" width="6.6" height="7.4" rx="2.2" fill="#2c2c2c" stroke="#2c2c2c" stroke-width="0.6"/>
<rect x="-6.3" y="-3.3" width="6.3" height="6.6" rx="1.6" fill="#2c2c2c" stroke="#2c2c2c" stroke-width="0.6"/>
<path d="M3,-4.3 L11,-3.1 Q14.2,0 11,3.1 L3,4.3 Z" stroke="#2c2c2c" stroke-width="1.2" fill="#2c2c2c" />
<ellipse cx="1.6" cy="0.0" rx="2.9" ry="6.9" stroke="#2c2c2c" stroke-width="1.44" fill="#2c2c2c"/>
<path d="M1.2,-5 Q-0.2,-1 0.2,3.2" stroke="#fff" stroke-width="1.32" fill="none" />
<path d="M0.6,5.2 L1.4,5.6" stroke="#fff" stroke-width="1.08" fill="none" />
<path d="M5.6,-2.6 Q4.8,0 5.2,2.4" stroke="#fff" stroke-width="1.2" fill="none" />
<ellipse cx="11.4" cy="0.0" rx="0.8" ry="1.9" stroke="#fff" stroke-width="0.12" fill="#fff"/>
<path d="M-7,-1.2 L-6.6,1.4" stroke="#fff" stroke-width="0.96" fill="none" />
</g>
<g transform="translate(710.6 483.3) rotate(13)" >
<rect x="-13.4" y="-3.7" width="6.6" height="7.4" rx="2.2" fill="#2c2c2c" stroke="#2c2c2c" stroke-width="0.6"/>
<rect x="-6.3" y="-3.3" width="6.3" height="6.6" rx="1.6" fill="#2c2c2c" stroke="#2c2c2c" stroke-width="0.6"/>
<path d="M3,-4.3 L11,-3.1 Q14.2,0 11,3.1 L3,4.3 Z" stroke="#2c2c2c" stroke-width="1.2" fill="#2c2c2c" />
<ellipse cx="1.6" cy="0.0" rx="2.9" ry="6.9" stroke="#2c2c2c" stroke-width="1.44" fill="#2c2c2c"/>
<path d="M1.2,-5 Q-0.2,-1 0.2,3.2" stroke="#fff" stroke-width="1.32" fill="none" />
<path d="M0.6,5.2 L1.4,5.6" stroke="#fff" stroke-width="1.08" fill="none" />
<path d="M5.6,-2.6 Q4.8,0 5.2,2.4" stroke="#fff" stroke-width="1.2" fill="none" />
<ellipse cx="11.4" cy="0.0" rx="0.8" ry="1.9" stroke="#fff" stroke-width="0.12" fill="#fff"/>
<path d="M-7,-1.2 L-6.6,1.4" stroke="#fff" stroke-width="0.96" fill="none" />
</g>
<g transform="translate(710.1 516.6) rotate(13)" >
<rect x="-13.4" y="-3.7" width="6.6" height="7.4" rx="2.2" fill="#2c2c2c" stroke="#2c2c2c" stroke-width="0.6"/>
<rect x="-6.3" y="-3.3" width="6.3" height="6.6" rx="1.6" fill="#2c2c2c" stroke="#2c2c2c" stroke-width="0.6"/>
<path d="M3,-4.3 L11,-3.1 Q14.2,0 11,3.1 L3,4.3 Z" stroke="#2c2c2c" stroke-width="1.2" fill="#2c2c2c" />
<ellipse cx="1.6" cy="0.0" rx="2.9" ry="6.9" stroke="#2c2c2c" stroke-width="1.44" fill="#2c2c2c"/>
<path d="M1.2,-5 Q-0.2,-1 0.2,3.2" stroke="#fff" stroke-width="1.32" fill="none" />
<path d="M0.6,5.2 L1.4,5.6" stroke="#fff" stroke-width="1.08" fill="none" />
<path d="M5.6,-2.6 Q4.8,0 5.2,2.4" stroke="#fff" stroke-width="1.2" fill="none" />
<ellipse cx="11.4" cy="0.0" rx="0.8" ry="1.9" stroke="#fff" stroke-width="0.12" fill="#fff"/>
<path d="M-7,-1.2 L-6.6,1.4" stroke="#fff" stroke-width="0.96" fill="none" />
</g>
<g transform="translate(711.4 543.2) rotate(13)" >
<rect x="-13.4" y="-3.7" width="6.6" height="7.4" rx="2.2" fill="#2c2c2c" stroke="#2c2c2c" stroke-width="0.6"/>
<rect x="-6.3" y="-3.3" width="6.3" height="6.6" rx="1.6" fill="#2c2c2c" stroke="#2c2c2c" stroke-width="0.6"/>
<path d="M3,-4.3 L11,-3.1 Q14.2,0 11,3.1 L3,4.3 Z" stroke="#2c2c2c" stroke-width="1.2" fill="#2c2c2c" />
<ellipse cx="1.6" cy="0.0" rx="2.9" ry="6.9" stroke="#2c2c2c" stroke-width="1.44" fill="#2c2c2c"/>
<path d="M1.2,-5 Q-0.2,-1 0.2,3.2" stroke="#fff" stroke-width="1.32" fill="none" />
<path d="M0.6,5.2 L1.4,5.6" stroke="#fff" stroke-width="1.08" fill="none" />
<path d="M5.6,-2.6 Q4.8,0 5.2,2.4" stroke="#fff" stroke-width="1.2" fill="none" />
<ellipse cx="11.4" cy="0.0" rx="0.8" ry="1.9" stroke="#fff" stroke-width="0.12" fill="#fff"/>
<path d="M-7,-1.2 L-6.6,1.4" stroke="#fff" stroke-width="0.96" fill="none" />
</g>
<line x1="710.5" y1="321.0" x2="710.5" y2="338.0" stroke="#2f2f2f" stroke-width="1.25"/>
<g transform="translate(751.7 360.6) scale(0.92)" >
<path d="M-13.2,6.8 C-12.8,5.4 -11.8,3.9 -10.4,2.4 C-9.0,0.9 -6.1,-0.9 -5.0,-2.1 C-3.9,-3.3 -5.2,-3.8 -4.0,-5.0 C-2.8,-6.2 1.2,-7.8 2.4,-9.0 C3.6,-10.2 2.6,-11.1 3.3,-11.9 C3.9,-12.7 5.1,-13.3 6.3,-13.6 C7.5,-13.8 9.6,-13.8 10.7,-13.4 C11.8,-13.0 12.7,-11.8 13.0,-10.9 C13.3,-10.0 12.6,-8.8 12.7,-8.0 C12.8,-7.2 13.5,-7.0 13.4,-6.0 C13.3,-5.0 13.0,-3.7 12.2,-2.1 C11.3,-0.5 9.3,2.3 8.3,3.8 C7.3,5.3 7.7,5.8 6.3,6.8 C4.9,7.8 1.8,8.7 -0.1,9.8 C-2.0,11.0 -3.8,13.0 -5.0,13.7 C-6.2,14.4 -6.2,14.4 -7.5,13.9 C-8.8,13.4 -12.0,11.9 -12.9,10.7 C-13.8,9.5 -13.6,8.2 -13.2,6.8 Z" stroke="#2f2f2f" stroke-width="2.3" fill="#fff" />
<ellipse cx="1.6" cy="-4.3" rx="2.9" ry="1.8" stroke="#2f2f2f" stroke-width="2.04" fill="none"/>
<ellipse cx="8.8" cy="-10.6" rx="3.2" ry="2.0" stroke="#2f2f2f" stroke-width="1.8" fill="none"/>
<path d="M-9.5,3 L-3,-0.5 L3.2,-1.2 L6.8,-3.5 M-1.5,4.2 L5.3,1.4 L6.8,4.8 L0.2,7.2 Z M3.2,-1.2 L5.3,1.4" stroke="#2f2f2f" stroke-width="1.8" fill="none" />
<path d="M-8.2,4.8 L-5.2,6.2 L-6.2,9.8 L-8.8,9.2 Z M-5.2,6.2 L-1.5,4.2 M-6.2,9.8 L-3.5,11.5" stroke="#2f2f2f" stroke-width="1.92" fill="none" />
<path d="M5.8,-8.2 L9.6,-3.2 L8.2,2.8 M9.6,-3.2 L12.4,-4.5 M-11.8,8 L-11.5,11" stroke="#2f2f2f" stroke-width="1.68" fill="none" />
<path d="M-12.6,7.5 L-12.2,10.5" stroke="#2f2f2f" stroke-width="2.6" fill="none" />
</g>
<g transform="translate(752.9 384.6) scale(0.92)" >
<path d="M-13.2,6.8 C-12.8,5.4 -11.8,3.9 -10.4,2.4 C-9.0,0.9 -6.1,-0.9 -5.0,-2.1 C-3.9,-3.3 -5.2,-3.8 -4.0,-5.0 C-2.8,-6.2 1.2,-7.8 2.4,-9.0 C3.6,-10.2 2.6,-11.1 3.3,-11.9 C3.9,-12.7 5.1,-13.3 6.3,-13.6 C7.5,-13.8 9.6,-13.8 10.7,-13.4 C11.8,-13.0 12.7,-11.8 13.0,-10.9 C13.3,-10.0 12.6,-8.8 12.7,-8.0 C12.8,-7.2 13.5,-7.0 13.4,-6.0 C13.3,-5.0 13.0,-3.7 12.2,-2.1 C11.3,-0.5 9.3,2.3 8.3,3.8 C7.3,5.3 7.7,5.8 6.3,6.8 C4.9,7.8 1.8,8.7 -0.1,9.8 C-2.0,11.0 -3.8,13.0 -5.0,13.7 C-6.2,14.4 -6.2,14.4 -7.5,13.9 C-8.8,13.4 -12.0,11.9 -12.9,10.7 C-13.8,9.5 -13.6,8.2 -13.2,6.8 Z" stroke="#2f2f2f" stroke-width="2.3" fill="#fff" />
<ellipse cx="1.6" cy="-4.3" rx="2.9" ry="1.8" stroke="#2f2f2f" stroke-width="2.04" fill="none"/>
<ellipse cx="8.8" cy="-10.6" rx="3.2" ry="2.0" stroke="#2f2f2f" stroke-width="1.8" fill="none"/>
<path d="M-9.5,3 L-3,-0.5 L3.2,-1.2 L6.8,-3.5 M-1.5,4.2 L5.3,1.4 L6.8,4.8 L0.2,7.2 Z M3.2,-1.2 L5.3,1.4" stroke="#2f2f2f" stroke-width="1.8" fill="none" />
<path d="M-8.2,4.8 L-5.2,6.2 L-6.2,9.8 L-8.8,9.2 Z M-5.2,6.2 L-1.5,4.2 M-6.2,9.8 L-3.5,11.5" stroke="#2f2f2f" stroke-width="1.92" fill="none" />
<path d="M5.8,-8.2 L9.6,-3.2 L8.2,2.8 M9.6,-3.2 L12.4,-4.5 M-11.8,8 L-11.5,11" stroke="#2f2f2f" stroke-width="1.68" fill="none" />
<path d="M-12.6,7.5 L-12.2,10.5" stroke="#2f2f2f" stroke-width="2.6" fill="none" />
</g>
<g transform="translate(754.0 412.6) scale(0.92)" >
<path d="M-13.2,6.8 C-12.8,5.4 -11.8,3.9 -10.4,2.4 C-9.0,0.9 -6.1,-0.9 -5.0,-2.1 C-3.9,-3.3 -5.2,-3.8 -4.0,-5.0 C-2.8,-6.2 1.2,-7.8 2.4,-9.0 C3.6,-10.2 2.6,-11.1 3.3,-11.9 C3.9,-12.7 5.1,-13.3 6.3,-13.6 C7.5,-13.8 9.6,-13.8 10.7,-13.4 C11.8,-13.0 12.7,-11.8 13.0,-10.9 C13.3,-10.0 12.6,-8.8 12.7,-8.0 C12.8,-7.2 13.5,-7.0 13.4,-6.0 C13.3,-5.0 13.0,-3.7 12.2,-2.1 C11.3,-0.5 9.3,2.3 8.3,3.8 C7.3,5.3 7.7,5.8 6.3,6.8 C4.9,7.8 1.8,8.7 -0.1,9.8 C-2.0,11.0 -3.8,13.0 -5.0,13.7 C-6.2,14.4 -6.2,14.4 -7.5,13.9 C-8.8,13.4 -12.0,11.9 -12.9,10.7 C-13.8,9.5 -13.6,8.2 -13.2,6.8 Z" stroke="#2f2f2f" stroke-width="2.3" fill="#fff" />
<ellipse cx="1.6" cy="-4.3" rx="2.9" ry="1.8" stroke="#2f2f2f" stroke-width="2.04" fill="none"/>
<ellipse cx="8.8" cy="-10.6" rx="3.2" ry="2.0" stroke="#2f2f2f" stroke-width="1.8" fill="none"/>
<path d="M-9.5,3 L-3,-0.5 L3.2,-1.2 L6.8,-3.5 M-1.5,4.2 L5.3,1.4 L6.8,4.8 L0.2,7.2 Z M3.2,-1.2 L5.3,1.4" stroke="#2f2f2f" stroke-width="1.8" fill="none" />
<path d="M-8.2,4.8 L-5.2,6.2 L-6.2,9.8 L-8.8,9.2 Z M-5.2,6.2 L-1.5,4.2 M-6.2,9.8 L-3.5,11.5" stroke="#2f2f2f" stroke-width="1.92" fill="none" />
<path d="M5.8,-8.2 L9.6,-3.2 L8.2,2.8 M9.6,-3.2 L12.4,-4.5 M-11.8,8 L-11.5,11" stroke="#2f2f2f" stroke-width="1.68" fill="none" />
<path d="M-12.6,7.5 L-12.2,10.5" stroke="#2f2f2f" stroke-width="2.6" fill="none" />
</g>
<g transform="translate(753.3 436.3) scale(0.92)" >
<path d="M-13.2,6.8 C-12.8,5.4 -11.8,3.9 -10.4,2.4 C-9.0,0.9 -6.1,-0.9 -5.0,-2.1 C-3.9,-3.3 -5.2,-3.8 -4.0,-5.0 C-2.8,-6.2 1.2,-7.8 2.4,-9.0 C3.6,-10.2 2.6,-11.1 3.3,-11.9 C3.9,-12.7 5.1,-13.3 6.3,-13.6 C7.5,-13.8 9.6,-13.8 10.7,-13.4 C11.8,-13.0 12.7,-11.8 13.0,-10.9 C13.3,-10.0 12.6,-8.8 12.7,-8.0 C12.8,-7.2 13.5,-7.0 13.4,-6.0 C13.3,-5.0 13.0,-3.7 12.2,-2.1 C11.3,-0.5 9.3,2.3 8.3,3.8 C7.3,5.3 7.7,5.8 6.3,6.8 C4.9,7.8 1.8,8.7 -0.1,9.8 C-2.0,11.0 -3.8,13.0 -5.0,13.7 C-6.2,14.4 -6.2,14.4 -7.5,13.9 C-8.8,13.4 -12.0,11.9 -12.9,10.7 C-13.8,9.5 -13.6,8.2 -13.2,6.8 Z" stroke="#2f2f2f" stroke-width="2.3" fill="#fff" />
<ellipse cx="1.6" cy="-4.3" rx="2.9" ry="1.8" stroke="#2f2f2f" stroke-width="2.04" fill="none"/>
<ellipse cx="8.8" cy="-10.6" rx="3.2" ry="2.0" stroke="#2f2f2f" stroke-width="1.8" fill="none"/>
<path d="M-9.5,3 L-3,-0.5 L3.2,-1.2 L6.8,-3.5 M-1.5,4.2 L5.3,1.4 L6.8,4.8 L0.2,7.2 Z M3.2,-1.2 L5.3,1.4" stroke="#2f2f2f" stroke-width="1.8" fill="none" />
<path d="M-8.2,4.8 L-5.2,6.2 L-6.2,9.8 L-8.8,9.2 Z M-5.2,6.2 L-1.5,4.2 M-6.2,9.8 L-3.5,11.5" stroke="#2f2f2f" stroke-width="1.92" fill="none" />
<path d="M5.8,-8.2 L9.6,-3.2 L8.2,2.8 M9.6,-3.2 L12.4,-4.5 M-11.8,8 L-11.5,11" stroke="#2f2f2f" stroke-width="1.68" fill="none" />
<path d="M-12.6,7.5 L-12.2,10.5" stroke="#2f2f2f" stroke-width="2.6" fill="none" />
</g>
<g transform="translate(753.9 465.3) scale(0.92)" >
<path d="M-13.2,6.8 C-12.8,5.4 -11.8,3.9 -10.4,2.4 C-9.0,0.9 -6.1,-0.9 -5.0,-2.1 C-3.9,-3.3 -5.2,-3.8 -4.0,-5.0 C-2.8,-6.2 1.2,-7.8 2.4,-9.0 C3.6,-10.2 2.6,-11.1 3.3,-11.9 C3.9,-12.7 5.1,-13.3 6.3,-13.6 C7.5,-13.8 9.6,-13.8 10.7,-13.4 C11.8,-13.0 12.7,-11.8 13.0,-10.9 C13.3,-10.0 12.6,-8.8 12.7,-8.0 C12.8,-7.2 13.5,-7.0 13.4,-6.0 C13.3,-5.0 13.0,-3.7 12.2,-2.1 C11.3,-0.5 9.3,2.3 8.3,3.8 C7.3,5.3 7.7,5.8 6.3,6.8 C4.9,7.8 1.8,8.7 -0.1,9.8 C-2.0,11.0 -3.8,13.0 -5.0,13.7 C-6.2,14.4 -6.2,14.4 -7.5,13.9 C-8.8,13.4 -12.0,11.9 -12.9,10.7 C-13.8,9.5 -13.6,8.2 -13.2,6.8 Z" stroke="#2f2f2f" stroke-width="2.3" fill="#fff" />
<ellipse cx="1.6" cy="-4.3" rx="2.9" ry="1.8" stroke="#2f2f2f" stroke-width="2.04" fill="none"/>
<ellipse cx="8.8" cy="-10.6" rx="3.2" ry="2.0" stroke="#2f2f2f" stroke-width="1.8" fill="none"/>
<path d="M-9.5,3 L-3,-0.5 L3.2,-1.2 L6.8,-3.5 M-1.5,4.2 L5.3,1.4 L6.8,4.8 L0.2,7.2 Z M3.2,-1.2 L5.3,1.4" stroke="#2f2f2f" stroke-width="1.8" fill="none" />
<path d="M-8.2,4.8 L-5.2,6.2 L-6.2,9.8 L-8.8,9.2 Z M-5.2,6.2 L-1.5,4.2 M-6.2,9.8 L-3.5,11.5" stroke="#2f2f2f" stroke-width="1.92" fill="none" />
<path d="M5.8,-8.2 L9.6,-3.2 L8.2,2.8 M9.6,-3.2 L12.4,-4.5 M-11.8,8 L-11.5,11" stroke="#2f2f2f" stroke-width="1.68" fill="none" />
<path d="M-12.6,7.5 L-12.2,10.5" stroke="#2f2f2f" stroke-width="2.6" fill="none" />
</g>
<g transform="translate(756.8 489.7) scale(0.92)" >
<path d="M-13.2,6.8 C-12.8,5.4 -11.8,3.9 -10.4,2.4 C-9.0,0.9 -6.1,-0.9 -5.0,-2.1 C-3.9,-3.3 -5.2,-3.8 -4.0,-5.0 C-2.8,-6.2 1.2,-7.8 2.4,-9.0 C3.6,-10.2 2.6,-11.1 3.3,-11.9 C3.9,-12.7 5.1,-13.3 6.3,-13.6 C7.5,-13.8 9.6,-13.8 10.7,-13.4 C11.8,-13.0 12.7,-11.8 13.0,-10.9 C13.3,-10.0 12.6,-8.8 12.7,-8.0 C12.8,-7.2 13.5,-7.0 13.4,-6.0 C13.3,-5.0 13.0,-3.7 12.2,-2.1 C11.3,-0.5 9.3,2.3 8.3,3.8 C7.3,5.3 7.7,5.8 6.3,6.8 C4.9,7.8 1.8,8.7 -0.1,9.8 C-2.0,11.0 -3.8,13.0 -5.0,13.7 C-6.2,14.4 -6.2,14.4 -7.5,13.9 C-8.8,13.4 -12.0,11.9 -12.9,10.7 C-13.8,9.5 -13.6,8.2 -13.2,6.8 Z" stroke="#2f2f2f" stroke-width="2.3" fill="#fff" />
<ellipse cx="1.6" cy="-4.3" rx="2.9" ry="1.8" stroke="#2f2f2f" stroke-width="2.04" fill="none"/>
<ellipse cx="8.8" cy="-10.6" rx="3.2" ry="2.0" stroke="#2f2f2f" stroke-width="1.8" fill="none"/>
<path d="M-9.5,3 L-3,-0.5 L3.2,-1.2 L6.8,-3.5 M-1.5,4.2 L5.3,1.4 L6.8,4.8 L0.2,7.2 Z M3.2,-1.2 L5.3,1.4" stroke="#2f2f2f" stroke-width="1.8" fill="none" />
<path d="M-8.2,4.8 L-5.2,6.2 L-6.2,9.8 L-8.8,9.2 Z M-5.2,6.2 L-1.5,4.2 M-6.2,9.8 L-3.5,11.5" stroke="#2f2f2f" stroke-width="1.92" fill="none" />
<path d="M5.8,-8.2 L9.6,-3.2 L8.2,2.8 M9.6,-3.2 L12.4,-4.5 M-11.8,8 L-11.5,11" stroke="#2f2f2f" stroke-width="1.68" fill="none" />
<path d="M-12.6,7.5 L-12.2,10.5" stroke="#2f2f2f" stroke-width="2.6" fill="none" />
</g>
<g transform="translate(758.1 518.5) scale(0.92)" >
<path d="M-13.2,6.8 C-12.8,5.4 -11.8,3.9 -10.4,2.4 C-9.0,0.9 -6.1,-0.9 -5.0,-2.1 C-3.9,-3.3 -5.2,-3.8 -4.0,-5.0 C-2.8,-6.2 1.2,-7.8 2.4,-9.0 C3.6,-10.2 2.6,-11.1 3.3,-11.9 C3.9,-12.7 5.1,-13.3 6.3,-13.6 C7.5,-13.8 9.6,-13.8 10.7,-13.4 C11.8,-13.0 12.7,-11.8 13.0,-10.9 C13.3,-10.0 12.6,-8.8 12.7,-8.0 C12.8,-7.2 13.5,-7.0 13.4,-6.0 C13.3,-5.0 13.0,-3.7 12.2,-2.1 C11.3,-0.5 9.3,2.3 8.3,3.8 C7.3,5.3 7.7,5.8 6.3,6.8 C4.9,7.8 1.8,8.7 -0.1,9.8 C-2.0,11.0 -3.8,13.0 -5.0,13.7 C-6.2,14.4 -6.2,14.4 -7.5,13.9 C-8.8,13.4 -12.0,11.9 -12.9,10.7 C-13.8,9.5 -13.6,8.2 -13.2,6.8 Z" stroke="#2f2f2f" stroke-width="2.3" fill="#fff" />
<ellipse cx="1.6" cy="-4.3" rx="2.9" ry="1.8" stroke="#2f2f2f" stroke-width="2.04" fill="none"/>
<ellipse cx="8.8" cy="-10.6" rx="3.2" ry="2.0" stroke="#2f2f2f" stroke-width="1.8" fill="none"/>
<path d="M-9.5,3 L-3,-0.5 L3.2,-1.2 L6.8,-3.5 M-1.5,4.2 L5.3,1.4 L6.8,4.8 L0.2,7.2 Z M3.2,-1.2 L5.3,1.4" stroke="#2f2f2f" stroke-width="1.8" fill="none" />
<path d="M-8.2,4.8 L-5.2,6.2 L-6.2,9.8 L-8.8,9.2 Z M-5.2,6.2 L-1.5,4.2 M-6.2,9.8 L-3.5,11.5" stroke="#2f2f2f" stroke-width="1.92" fill="none" />
<path d="M5.8,-8.2 L9.6,-3.2 L8.2,2.8 M9.6,-3.2 L12.4,-4.5 M-11.8,8 L-11.5,11" stroke="#2f2f2f" stroke-width="1.68" fill="none" />
<path d="M-12.6,7.5 L-12.2,10.5" stroke="#2f2f2f" stroke-width="2.6" fill="none" />
</g>
<g transform="translate(759.2 542.3) scale(0.92)" >
<path d="M-13.2,6.8 C-12.8,5.4 -11.8,3.9 -10.4,2.4 C-9.0,0.9 -6.1,-0.9 -5.0,-2.1 C-3.9,-3.3 -5.2,-3.8 -4.0,-5.0 C-2.8,-6.2 1.2,-7.8 2.4,-9.0 C3.6,-10.2 2.6,-11.1 3.3,-11.9 C3.9,-12.7 5.1,-13.3 6.3,-13.6 C7.5,-13.8 9.6,-13.8 10.7,-13.4 C11.8,-13.0 12.7,-11.8 13.0,-10.9 C13.3,-10.0 12.6,-8.8 12.7,-8.0 C12.8,-7.2 13.5,-7.0 13.4,-6.0 C13.3,-5.0 13.0,-3.7 12.2,-2.1 C11.3,-0.5 9.3,2.3 8.3,3.8 C7.3,5.3 7.7,5.8 6.3,6.8 C4.9,7.8 1.8,8.7 -0.1,9.8 C-2.0,11.0 -3.8,13.0 -5.0,13.7 C-6.2,14.4 -6.2,14.4 -7.5,13.9 C-8.8,13.4 -12.0,11.9 -12.9,10.7 C-13.8,9.5 -13.6,8.2 -13.2,6.8 Z" stroke="#2f2f2f" stroke-width="2.3" fill="#fff" />
<ellipse cx="1.6" cy="-4.3" rx="2.9" ry="1.8" stroke="#2f2f2f" stroke-width="2.04" fill="none"/>
<ellipse cx="8.8" cy="-10.6" rx="3.2" ry="2.0" stroke="#2f2f2f" stroke-width="1.8" fill="none"/>
<path d="M-9.5,3 L-3,-0.5 L3.2,-1.2 L6.8,-3.5 M-1.5,4.2 L5.3,1.4 L6.8,4.8 L0.2,7.2 Z M3.2,-1.2 L5.3,1.4" stroke="#2f2f2f" stroke-width="1.8" fill="none" />
<path d="M-8.2,4.8 L-5.2,6.2 L-6.2,9.8 L-8.8,9.2 Z M-5.2,6.2 L-1.5,4.2 M-6.2,9.8 L-3.5,11.5" stroke="#2f2f2f" stroke-width="1.92" fill="none" />
<path d="M5.8,-8.2 L9.6,-3.2 L8.2,2.8 M9.6,-3.2 L12.4,-4.5 M-11.8,8 L-11.5,11" stroke="#2f2f2f" stroke-width="1.68" fill="none" />
<path d="M-12.6,7.5 L-12.2,10.5" stroke="#2f2f2f" stroke-width="2.6" fill="none" />
</g>
<line x1="755.5" y1="323.0" x2="755.5" y2="341.0" stroke="#2f2f2f" stroke-width="1.25"/>
<path d="M790.2,574.5 L790.2,583.0 A14.6,6.0 0 0 0 819.4,583.0 L819.4,574.5 Z" stroke="#2f2f2f" stroke-width="1.3" fill="#fff" />
<ellipse cx="804.8" cy="574.5" rx="14.6" ry="6.0" stroke="#2f2f2f" stroke-width="1.3" fill="#fff" />
<path d="M794.4,566.0 L794.4,576.0 A10.0,4.2 0 0 0 814.4,576.0 L814.4,566.0 Z" stroke="#2f2f2f" stroke-width="1.2" fill="#fff" />
<ellipse cx="804.4" cy="566.0" rx="10.0" ry="4.2" stroke="#2f2f2f" stroke-width="1.2" fill="#fff" />
<path d="M790.0,556.0 L790.0,564.5 A14.0,5.8 0 0 0 818.0,564.5 L818.0,556.0 Z" stroke="#2f2f2f" stroke-width="1.3" fill="#fff" />
<ellipse cx="804.0" cy="556.0" rx="14.0" ry="5.8" stroke="#2f2f2f" stroke-width="1.3" fill="#fff" />
<ellipse cx="798.2" cy="566.0" rx="1.0" ry="1.3" stroke="#2f2f2f" stroke-width="0.96" fill="none"/>
<path d="M793.7,548.0 L793.7,558.0 A10.0,4.2 0 0 0 813.7,558.0 L813.7,548.0 Z" stroke="#2f2f2f" stroke-width="1.2" fill="#fff" />
<ellipse cx="803.7" cy="548.0" rx="10.0" ry="4.2" stroke="#2f2f2f" stroke-width="1.2" fill="#fff" />
<path d="M789.9,540.0 L789.9,550.0 A15.5,6.5 0 0 0 820.9,550.0 L820.9,540.0 Z" stroke="#2f2f2f" stroke-width="1.3" fill="#fff" transform="rotate(-6 805.4 540.0)"/>
<ellipse cx="805.4" cy="540.0" rx="15.5" ry="6.5" stroke="#2f2f2f" stroke-width="1.3" fill="#fff" transform="rotate(-6 805.4 540.0)"/>
<path d="M791.4,544 A14,5.5 0 0 0 815.4,542" stroke="#2f2f2f" stroke-width="1.08" fill="none" />
<path d="M792.7,524.0 L792.7,540.0 A10.0,4.2 0 0 0 812.7,540.0 L812.7,524.0 Z" stroke="#2f2f2f" stroke-width="1.2" fill="#fff" />
<ellipse cx="802.7" cy="524.0" rx="10.0" ry="4.2" stroke="#2f2f2f" stroke-width="1.2" fill="#fff" />
<path d="M788.5,519.0 L788.5,528.5 A14.0,5.8 0 0 0 816.5,528.5 L816.5,519.0 Z" stroke="#2f2f2f" stroke-width="1.3" fill="#fff" />
<ellipse cx="802.5" cy="519.0" rx="14.0" ry="5.8" stroke="#2f2f2f" stroke-width="1.3" fill="#fff" />
<path d="M790.5,522 A13,5 0 0 0 814.5,522" stroke="#2f2f2f" stroke-width="1.08" fill="none" />
<path d="M791.6,497.0 L791.6,519.0 A10.0,4.2 0 0 0 811.6,519.0 L811.6,497.0 Z" stroke="#2f2f2f" stroke-width="1.2" fill="#fff" />
<ellipse cx="801.6" cy="497.0" rx="10.0" ry="4.2" stroke="#2f2f2f" stroke-width="1.2" fill="#fff" />
<path d="M787.0,490.5 L787.0,500.0 A14.3,5.8 0 0 0 815.6,500.0 L815.6,490.5 Z" stroke="#2f2f2f" stroke-width="1.3" fill="#fff" />
<ellipse cx="801.3" cy="490.5" rx="14.3" ry="5.8" stroke="#2f2f2f" stroke-width="1.3" fill="#fff" />
<path d="M789.3,493.5 A13,5 0 0 0 813.3,493.5" stroke="#2f2f2f" stroke-width="1.68" fill="none" />
<path d="M790.7,476.0 L790.7,490.0 A10.0,4.2 0 0 0 810.7,490.0 L810.7,476.0 Z" stroke="#2f2f2f" stroke-width="1.2" fill="#fff" />
<ellipse cx="800.7" cy="476.0" rx="10.0" ry="4.2" stroke="#2f2f2f" stroke-width="1.2" fill="#fff" />
<path d="M781.3,466.0 L781.3,475.0 A16.0,6.2 0 0 0 813.3,475.0 L813.3,466.0 Z" stroke="#2f2f2f" stroke-width="1.3" fill="#fff" transform="rotate(4 797.3 466.0)"/>
<ellipse cx="797.3" cy="466.0" rx="16.0" ry="6.2" stroke="#2f2f2f" stroke-width="1.3" fill="#fff" transform="rotate(4 797.3 466.0)"/>
<path d="M788.3,453.0 L788.3,466.0 A11.5,4.6 0 0 0 811.3,466.0 L811.3,453.0 Z" stroke="#2f2f2f" stroke-width="1.2" fill="#fff" />
<ellipse cx="799.8" cy="453.0" rx="11.5" ry="4.6" stroke="#2f2f2f" stroke-width="1.2" fill="#fff" />
<line x1="793.5" y1="460.0" x2="793.5" y2="469.0" stroke="#2f2f2f" stroke-width="1.08"/>
<line x1="798.5" y1="460.0" x2="798.5" y2="469.0" stroke="#2f2f2f" stroke-width="1.08"/>
<line x1="804.5" y1="460.0" x2="804.5" y2="469.0" stroke="#2f2f2f" stroke-width="1.08"/>
<path d="M788.3,459 A11.5,4.6 0 0 0 811.3,459" stroke="#2f2f2f" stroke-width="1.08" fill="none" />
<path d="M789.6,447.0 L789.6,455.0 A10.0,4.2 0 0 0 809.6,455.0 L809.6,447.0 Z" stroke="#2f2f2f" stroke-width="1.2" fill="#fff" />
<ellipse cx="799.6" cy="447.0" rx="10.0" ry="4.2" stroke="#2f2f2f" stroke-width="1.2" fill="#fff" />
<path d="M783.1,436.0 L783.1,445.5 A14.5,6.0 0 0 0 812.1,445.5 L812.1,436.0 Z" stroke="#2f2f2f" stroke-width="1.3" fill="#fff" />
<ellipse cx="797.6" cy="436.0" rx="14.5" ry="6.0" stroke="#2f2f2f" stroke-width="1.3" fill="#fff" />
<path d="M786.1,439 A13,5 0 0 0 809.1,439" stroke="#2f2f2f" stroke-width="1.68" fill="none" />
<path d="M788.7,422.0 L788.7,436.0 A9.8,4.2 0 0 0 808.3,436.0 L808.3,422.0 Z" stroke="#2f2f2f" stroke-width="1.2" fill="#fff" />
<ellipse cx="798.5" cy="422.0" rx="9.8" ry="4.2" stroke="#2f2f2f" stroke-width="1.2" fill="#fff" />
<path d="M784.7,413.0 L784.7,422.5 A16.0,6.2 0 0 0 816.7,422.5 L816.7,413.0 Z" stroke="#2f2f2f" stroke-width="1.3" fill="#fff" transform="rotate(-7 800.7 413.0)"/>
<ellipse cx="800.7" cy="413.0" rx="16.0" ry="6.2" stroke="#2f2f2f" stroke-width="1.3" fill="#fff" transform="rotate(-7 800.7 413.0)"/>
<path d="M786.2,417 A14,5.5 0 0 0 811.2,414" stroke="#2f2f2f" stroke-width="1.08" fill="none" />
<path d="M787.5,397.0 L787.5,414.0 A10.0,4.2 0 0 0 807.5,414.0 L807.5,397.0 Z" stroke="#2f2f2f" stroke-width="1.2" fill="#fff" />
<ellipse cx="797.5" cy="397.0" rx="10.0" ry="4.2" stroke="#2f2f2f" stroke-width="1.2" fill="#fff" />
<path d="M779.9,386.5 L779.9,394.0 A15.7,6.3 0 0 0 811.3,394.0 L811.3,386.5 Z" stroke="#2f2f2f" stroke-width="1.3" fill="#fff" />
<ellipse cx="795.6" cy="386.5" rx="15.7" ry="6.3" stroke="#2f2f2f" stroke-width="1.3" fill="#fff" />
<path d="M785.1,389.5 A13,5 0 0 0 808.1,389.5" stroke="#2f2f2f" stroke-width="1.68" fill="none" />
<path d="M787.1,370.0 L787.1,386.0 A9.3,4.0 0 0 0 805.7,386.0 L805.7,370.0 Z" stroke="#2f2f2f" stroke-width="1.2" fill="#fff" />
<ellipse cx="796.4" cy="370.0" rx="9.3" ry="4.0" stroke="#2f2f2f" stroke-width="1.2" fill="#fff" />
<path d="M781.9,360.0 L781.9,365.0 A14.3,9.4 0 0 0 810.5,365.0 L810.5,360.0 Z" stroke="#2f2f2f" stroke-width="1.25" fill="#fff" />
<ellipse cx="796.2" cy="360.0" rx="14.3" ry="9.4" stroke="#2f2f2f" stroke-width="1.25" fill="#fff" />
<ellipse cx="796.2" cy="361.2" rx="13.2" ry="8.4" stroke="#2f2f2f" stroke-width="1.08" fill="none"/>
<ellipse cx="796.0" cy="359.7" rx="10.2" ry="6.2" stroke="#2f2f2f" stroke-width="2.04" fill="none"/>
<ellipse cx="796.0" cy="359.7" rx="7.2" ry="4.1" stroke="#2f2f2f" stroke-width="1.44" fill="none"/>
<line x1="801.0" y1="331.5" x2="800.0" y2="345.5" stroke="#2f2f2f" stroke-width="1.25"/>
<line x1="777.1" y1="616.4" x2="768.8" y2="624.1" stroke="#2f2f2f" stroke-width="1.25"/>
<g transform="translate(786.5 610.3) rotate(-35)" >
<rect x="-3.25" y="-1.7" width="6.5" height="3.4" rx="1.2" fill="none" stroke="#2f2f2f" stroke-width="1.3"/>
<line x1="-1.5" y1="-1.7" x2="-1.5" y2="1.7" stroke="#2f2f2f" stroke-width="0.72"/>
<line x1="1.5" y1="-1.7" x2="1.5" y2="1.7" stroke="#2f2f2f" stroke-width="0.72"/>
</g>
<g transform="translate(852.7 378.2)" >
<path d="M-17.5,2.5 L-11.1,-2.2 C-8,-1 -3,-0.8 -1.2,-1.5 C1.5,-2.5 3,-5 2.2,-8 L1.2,-10.8 L6.7,-14.3 L17,-9.6 C17.8,-7.5 17.8,-5 17.6,-3.4 L15,0 C13,1.2 12,2.5 11.6,4.4 C11,6 9.5,7.2 7.5,8.2 L-7.6,14.5 L-17.2,9.6 Z" stroke="#2f2f2f" stroke-width="1.56" fill="#fff" />
<path d="M-7.6,14.5 C-9.5,12 -10,9.5 -9.1,7.4 C-8,5 -4,3.2 -1.2,2.5 C3,1.5 7,-0.5 9.1,-3 C10.5,-5 11,-7 11.6,-7.9 C12.8,-9.2 14.8,-9.8 17,-9.6" stroke="#2f2f2f" stroke-width="1.44" fill="none" />
<path d="M1.2,-10.8 C3.5,-10.3 4.6,-9 4.4,-7 C4.2,-5.4 3.2,-4.3 2.2,-3.9" stroke="#2f2f2f" stroke-width="2.2" fill="none" />
<ellipse cx="-5.7" cy="8.9" rx="1.9" ry="2.4" stroke="#2f2f2f" stroke-width="1.92" fill="none" transform="rotate(-15 -5.7 8.9)"/>
<path d="M-3.2,5.2 C-0.5,4.2 2,5.2 2.4,7.4 C2.6,9.2 1,10.8 -1.5,11.6" stroke="#2f2f2f" stroke-width="1.44" fill="none" />
<path d="M-4.8,11.6 C-3,12 -2,11.9 -1.5,11.6" stroke="#2f2f2f" stroke-width="1.2" fill="none" />
<ellipse cx="13.6" cy="-4.8" rx="1.6" ry="2.6" stroke="#2f2f2f" stroke-width="1.92" fill="none" transform="rotate(15 13.6 -4.8)"/>
<path d="M11.8,-0.8 C10.6,0 10.6,2 11.6,2.6" stroke="#2f2f2f" stroke-width="1.32" fill="none" />
</g>
<g transform="translate(854.3 431.0)" >
<path d="M-17.5,2.5 L-11.1,-2.2 C-8,-1 -3,-0.8 -1.2,-1.5 C1.5,-2.5 3,-5 2.2,-8 L1.2,-10.8 L6.7,-14.3 L17,-9.6 C17.8,-7.5 17.8,-5 17.6,-3.4 L15,0 C13,1.2 12,2.5 11.6,4.4 C11,6 9.5,7.2 7.5,8.2 L-7.6,14.5 L-17.2,9.6 Z" stroke="#2f2f2f" stroke-width="1.56" fill="#fff" />
<path d="M-7.6,14.5 C-9.5,12 -10,9.5 -9.1,7.4 C-8,5 -4,3.2 -1.2,2.5 C3,1.5 7,-0.5 9.1,-3 C10.5,-5 11,-7 11.6,-7.9 C12.8,-9.2 14.8,-9.8 17,-9.6" stroke="#2f2f2f" stroke-width="1.44" fill="none" />
<path d="M1.2,-10.8 C3.5,-10.3 4.6,-9 4.4,-7 C4.2,-5.4 3.2,-4.3 2.2,-3.9" stroke="#2f2f2f" stroke-width="2.2" fill="none" />
<ellipse cx="-5.7" cy="8.9" rx="1.9" ry="2.4" stroke="#2f2f2f" stroke-width="1.92" fill="none" transform="rotate(-15 -5.7 8.9)"/>
<path d="M-3.2,5.2 C-0.5,4.2 2,5.2 2.4,7.4 C2.6,9.2 1,10.8 -1.5,11.6" stroke="#2f2f2f" stroke-width="1.44" fill="none" />
<path d="M-4.8,11.6 C-3,12 -2,11.9 -1.5,11.6" stroke="#2f2f2f" stroke-width="1.2" fill="none" />
<ellipse cx="13.6" cy="-4.8" rx="1.6" ry="2.6" stroke="#2f2f2f" stroke-width="1.92" fill="none" transform="rotate(15 13.6 -4.8)"/>
<path d="M11.8,-0.8 C10.6,0 10.6,2 11.6,2.6" stroke="#2f2f2f" stroke-width="1.32" fill="none" />
</g>
<g transform="translate(856.6 483.5)" >
<path d="M-17.5,2.5 L-11.1,-2.2 C-8,-1 -3,-0.8 -1.2,-1.5 C1.5,-2.5 3,-5 2.2,-8 L1.2,-10.8 L6.7,-14.3 L17,-9.6 C17.8,-7.5 17.8,-5 17.6,-3.4 L15,0 C13,1.2 12,2.5 11.6,4.4 C11,6 9.5,7.2 7.5,8.2 L-7.6,14.5 L-17.2,9.6 Z" stroke="#2f2f2f" stroke-width="1.56" fill="#fff" />
<path d="M-7.6,14.5 C-9.5,12 -10,9.5 -9.1,7.4 C-8,5 -4,3.2 -1.2,2.5 C3,1.5 7,-0.5 9.1,-3 C10.5,-5 11,-7 11.6,-7.9 C12.8,-9.2 14.8,-9.8 17,-9.6" stroke="#2f2f2f" stroke-width="1.44" fill="none" />
<path d="M1.2,-10.8 C3.5,-10.3 4.6,-9 4.4,-7 C4.2,-5.4 3.2,-4.3 2.2,-3.9" stroke="#2f2f2f" stroke-width="2.2" fill="none" />
<ellipse cx="-5.7" cy="8.9" rx="1.9" ry="2.4" stroke="#2f2f2f" stroke-width="1.92" fill="none" transform="rotate(-15 -5.7 8.9)"/>
<path d="M-3.2,5.2 C-0.5,4.2 2,5.2 2.4,7.4 C2.6,9.2 1,10.8 -1.5,11.6" stroke="#2f2f2f" stroke-width="1.44" fill="none" />
<path d="M-4.8,11.6 C-3,12 -2,11.9 -1.5,11.6" stroke="#2f2f2f" stroke-width="1.2" fill="none" />
<ellipse cx="13.6" cy="-4.8" rx="1.6" ry="2.6" stroke="#2f2f2f" stroke-width="1.92" fill="none" transform="rotate(15 13.6 -4.8)"/>
<path d="M11.8,-0.8 C10.6,0 10.6,2 11.6,2.6" stroke="#2f2f2f" stroke-width="1.32" fill="none" />
</g>
<g transform="translate(858.6 536.3)" >
<path d="M-17.5,2.5 L-11.1,-2.2 C-8,-1 -3,-0.8 -1.2,-1.5 C1.5,-2.5 3,-5 2.2,-8 L1.2,-10.8 L6.7,-14.3 L17,-9.6 C17.8,-7.5 17.8,-5 17.6,-3.4 L15,0 C13,1.2 12,2.5 11.6,4.4 C11,6 9.5,7.2 7.5,8.2 L-7.6,14.5 L-17.2,9.6 Z" stroke="#2f2f2f" stroke-width="1.56" fill="#fff" />
<path d="M-7.6,14.5 C-9.5,12 -10,9.5 -9.1,7.4 C-8,5 -4,3.2 -1.2,2.5 C3,1.5 7,-0.5 9.1,-3 C10.5,-5 11,-7 11.6,-7.9 C12.8,-9.2 14.8,-9.8 17,-9.6" stroke="#2f2f2f" stroke-width="1.44" fill="none" />
<path d="M1.2,-10.8 C3.5,-10.3 4.6,-9 4.4,-7 C4.2,-5.4 3.2,-4.3 2.2,-3.9" stroke="#2f2f2f" stroke-width="2.2" fill="none" />
<ellipse cx="-5.7" cy="8.9" rx="1.9" ry="2.4" stroke="#2f2f2f" stroke-width="1.92" fill="none" transform="rotate(-15 -5.7 8.9)"/>
<path d="M-3.2,5.2 C-0.5,4.2 2,5.2 2.4,7.4 C2.6,9.2 1,10.8 -1.5,11.6" stroke="#2f2f2f" stroke-width="1.44" fill="none" />
<path d="M-4.8,11.6 C-3,12 -2,11.9 -1.5,11.6" stroke="#2f2f2f" stroke-width="1.2" fill="none" />
<ellipse cx="13.6" cy="-4.8" rx="1.6" ry="2.6" stroke="#2f2f2f" stroke-width="1.92" fill="none" transform="rotate(15 13.6 -4.8)"/>
<path d="M11.8,-0.8 C10.6,0 10.6,2 11.6,2.6" stroke="#2f2f2f" stroke-width="1.32" fill="none" />
</g>
<g transform="translate(860.2 572.8)" >
<path d="M-17.5,2.5 L-11.1,-2.2 C-8,-1 -3,-0.8 -1.2,-1.5 C1.5,-2.5 3,-5 2.2,-8 L1.2,-10.8 L6.7,-14.3 L17,-9.6 C17.8,-7.5 17.8,-5 17.6,-3.4 L15,0 C13,1.2 12,2.5 11.6,4.4 C11,6 9.5,7.2 7.5,8.2 L-7.6,14.5 L-17.2,9.6 Z" stroke="#2f2f2f" stroke-width="1.56" fill="#fff" />
<path d="M-7.6,14.5 C-9.5,12 -10,9.5 -9.1,7.4 C-8,5 -4,3.2 -1.2,2.5 C3,1.5 7,-0.5 9.1,-3 C10.5,-5 11,-7 11.6,-7.9 C12.8,-9.2 14.8,-9.8 17,-9.6" stroke="#2f2f2f" stroke-width="1.44" fill="none" />
<path d="M1.2,-10.8 C3.5,-10.3 4.6,-9 4.4,-7 C4.2,-5.4 3.2,-4.3 2.2,-3.9" stroke="#2f2f2f" stroke-width="2.2" fill="none" />
<ellipse cx="-5.7" cy="8.9" rx="1.9" ry="2.4" stroke="#2f2f2f" stroke-width="1.92" fill="none" transform="rotate(-15 -5.7 8.9)"/>
<path d="M-3.2,5.2 C-0.5,4.2 2,5.2 2.4,7.4 C2.6,9.2 1,10.8 -1.5,11.6" stroke="#2f2f2f" stroke-width="1.44" fill="none" />
<path d="M-4.8,11.6 C-3,12 -2,11.9 -1.5,11.6" stroke="#2f2f2f" stroke-width="1.2" fill="none" />
<ellipse cx="13.6" cy="-4.8" rx="1.6" ry="2.6" stroke="#2f2f2f" stroke-width="1.92" fill="none" transform="rotate(15 13.6 -4.8)"/>
<path d="M11.8,-0.8 C10.6,0 10.6,2 11.6,2.6" stroke="#2f2f2f" stroke-width="1.32" fill="none" />
</g>
<line x1="863.5" y1="342.0" x2="863.5" y2="361.0" stroke="#2f2f2f" stroke-width="1.25"/>
<g transform="translate(917.7 379.2) rotate(26.7)" >
<path d="M18.8,-1.9 L1,-1.9 Q-0.8,0 1,1.9 L18.8,1.9" stroke="#2f2f2f" stroke-width="1.44" fill="#fff" />
<path d="M19.0,-2.6 C19.2,-3.8 19.5,-4.2 20.4,-4.5 C21.3,-4.8 23.3,-4.8 24.4,-4.3 C25.5,-3.8 26.6,-2.8 27.0,-1.8 C27.4,-0.8 27.4,0.8 27.0,1.8 C26.6,2.8 25.5,3.8 24.4,4.3 C23.3,4.8 21.3,4.8 20.4,4.5 C19.5,4.2 19.2,3.8 19.0,2.6 C18.8,1.4 18.8,-1.4 19.0,-2.6 Z" stroke="#2f2f2f" stroke-width="1.2" fill="#2f2f2f" />
<ellipse cx="24.4" cy="1.2" rx="1.0" ry="1.6" stroke="#fff" stroke-width="0.12" fill="#fff"/>
<ellipse cx="22.2" cy="-1.2" rx="1.1" ry="0.8" stroke="#fff" stroke-width="0.12" fill="#fff"/>
</g>
<g transform="translate(898.8 392.3) rotate(28.0)" >
<path d="M18.9,-1.9 L1,-1.9 Q-0.8,0 1,1.9 L18.9,1.9" stroke="#2f2f2f" stroke-width="1.44" fill="#fff" />
<path d="M19.1,-2.6 C19.4,-3.8 19.6,-4.2 20.5,-4.5 C21.4,-4.8 23.4,-4.8 24.5,-4.3 C25.6,-3.8 26.7,-2.8 27.1,-1.8 C27.6,-0.8 27.6,0.8 27.1,1.8 C26.7,2.8 25.6,3.8 24.5,4.3 C23.4,4.8 21.4,4.8 20.5,4.5 C19.6,4.2 19.4,3.8 19.1,2.6 C18.9,1.4 18.9,-1.4 19.1,-2.6 Z" stroke="#2f2f2f" stroke-width="1.2" fill="#2f2f2f" />
<ellipse cx="24.5" cy="1.2" rx="1.0" ry="1.6" stroke="#fff" stroke-width="0.12" fill="#fff"/>
<ellipse cx="22.3" cy="-1.2" rx="1.1" ry="0.8" stroke="#fff" stroke-width="0.12" fill="#fff"/>
</g>
<g transform="translate(920.1 432.0) rotate(26.8)" >
<path d="M18.7,-1.9 L1,-1.9 Q-0.8,0 1,1.9 L18.7,1.9" stroke="#2f2f2f" stroke-width="1.44" fill="#fff" />
<path d="M18.9,-2.6 C19.1,-3.8 19.4,-4.2 20.3,-4.5 C21.2,-4.8 23.2,-4.8 24.3,-4.3 C25.4,-3.8 26.5,-2.8 26.9,-1.8 C27.3,-0.8 27.3,0.8 26.9,1.8 C26.5,2.8 25.4,3.8 24.3,4.3 C23.2,4.8 21.2,4.8 20.3,4.5 C19.4,4.2 19.1,3.8 18.9,2.6 C18.7,1.4 18.7,-1.4 18.9,-2.6 Z" stroke="#2f2f2f" stroke-width="1.2" fill="#2f2f2f" />
<ellipse cx="24.3" cy="1.2" rx="1.0" ry="1.6" stroke="#fff" stroke-width="0.12" fill="#fff"/>
<ellipse cx="22.1" cy="-1.2" rx="1.1" ry="0.8" stroke="#fff" stroke-width="0.12" fill="#fff"/>
</g>
<g transform="translate(901.2 444.6) rotate(28.4)" >
<path d="M18.7,-1.9 L1,-1.9 Q-0.8,0 1,1.9 L18.7,1.9" stroke="#2f2f2f" stroke-width="1.44" fill="#fff" />
<path d="M18.9,-2.6 C19.1,-3.8 19.4,-4.2 20.3,-4.5 C21.2,-4.8 23.2,-4.8 24.3,-4.3 C25.4,-3.8 26.4,-2.8 26.9,-1.8 C27.3,-0.8 27.3,0.8 26.9,1.8 C26.4,2.8 25.4,3.8 24.3,4.3 C23.2,4.8 21.2,4.8 20.3,4.5 C19.4,4.2 19.1,3.8 18.9,2.6 C18.6,1.4 18.6,-1.4 18.9,-2.6 Z" stroke="#2f2f2f" stroke-width="1.2" fill="#2f2f2f" />
<ellipse cx="24.3" cy="1.2" rx="1.0" ry="1.6" stroke="#fff" stroke-width="0.12" fill="#fff"/>
<ellipse cx="22.1" cy="-1.2" rx="1.1" ry="0.8" stroke="#fff" stroke-width="0.12" fill="#fff"/>
</g>
<g transform="translate(922.5 485.6) rotate(25.7)" >
<path d="M18.2,-1.9 L1,-1.9 Q-0.8,0 1,1.9 L18.2,1.9" stroke="#2f2f2f" stroke-width="1.44" fill="#fff" />
<path d="M18.4,-2.6 C18.6,-3.8 18.9,-4.2 19.8,-4.5 C20.7,-4.8 22.7,-4.8 23.8,-4.3 C24.9,-3.8 25.9,-2.8 26.4,-1.8 C26.8,-0.8 26.8,0.8 26.4,1.8 C25.9,2.8 24.9,3.8 23.8,4.3 C22.7,4.8 20.7,4.8 19.8,4.5 C18.9,4.2 18.6,3.8 18.4,2.6 C18.1,1.4 18.1,-1.4 18.4,-2.6 Z" stroke="#2f2f2f" stroke-width="1.2" fill="#2f2f2f" />
<ellipse cx="23.8" cy="1.2" rx="1.0" ry="1.6" stroke="#fff" stroke-width="0.12" fill="#fff"/>
<ellipse cx="21.6" cy="-1.2" rx="1.1" ry="0.8" stroke="#fff" stroke-width="0.12" fill="#fff"/>
</g>
<g transform="translate(903.1 498.4) rotate(26.1)" >
<path d="M18.4,-1.9 L1,-1.9 Q-0.8,0 1,1.9 L18.4,1.9" stroke="#2f2f2f" stroke-width="1.44" fill="#fff" />
<path d="M18.6,-2.6 C18.8,-3.8 19.1,-4.2 20.0,-4.5 C20.9,-4.8 22.9,-4.8 24.0,-4.3 C25.1,-3.8 26.1,-2.8 26.6,-1.8 C27.0,-0.8 27.0,0.8 26.6,1.8 C26.1,2.8 25.1,3.8 24.0,4.3 C22.9,4.8 20.9,4.8 20.0,4.5 C19.1,4.2 18.8,3.8 18.6,2.6 C18.3,1.4 18.3,-1.4 18.6,-2.6 Z" stroke="#2f2f2f" stroke-width="1.2" fill="#2f2f2f" />
<ellipse cx="24.0" cy="1.2" rx="1.0" ry="1.6" stroke="#fff" stroke-width="0.12" fill="#fff"/>
<ellipse cx="21.8" cy="-1.2" rx="1.1" ry="0.8" stroke="#fff" stroke-width="0.12" fill="#fff"/>
</g>
<g transform="translate(924.5 538.1) rotate(25.7)" >
<path d="M18.2,-1.9 L1,-1.9 Q-0.8,0 1,1.9 L18.2,1.9" stroke="#2f2f2f" stroke-width="1.44" fill="#fff" />
<path d="M18.4,-2.6 C18.6,-3.8 18.9,-4.2 19.8,-4.5 C20.7,-4.8 22.7,-4.8 23.8,-4.3 C24.9,-3.8 25.9,-2.8 26.4,-1.8 C26.8,-0.8 26.8,0.8 26.4,1.8 C25.9,2.8 24.9,3.8 23.8,4.3 C22.7,4.8 20.7,4.8 19.8,4.5 C18.9,4.2 18.6,3.8 18.4,2.6 C18.1,1.4 18.1,-1.4 18.4,-2.6 Z" stroke="#2f2f2f" stroke-width="1.2" fill="#2f2f2f" />
<ellipse cx="23.8" cy="1.2" rx="1.0" ry="1.6" stroke="#fff" stroke-width="0.12" fill="#fff"/>
<ellipse cx="21.6" cy="-1.2" rx="1.1" ry="0.8" stroke="#fff" stroke-width="0.12" fill="#fff"/>
</g>
<g transform="translate(905.1 551.0) rotate(26.0)" >
<path d="M18.2,-1.9 L1,-1.9 Q-0.8,0 1,1.9 L18.2,1.9" stroke="#2f2f2f" stroke-width="1.44" fill="#fff" />
<path d="M18.4,-2.6 C18.7,-3.8 18.9,-4.2 19.8,-4.5 C20.7,-4.8 22.7,-4.8 23.8,-4.3 C24.9,-3.8 26.0,-2.8 26.4,-1.8 C26.9,-0.8 26.9,0.8 26.4,1.8 C26.0,2.8 24.9,3.8 23.8,4.3 C22.7,4.8 20.7,4.8 19.8,4.5 C18.9,4.2 18.7,3.8 18.4,2.6 C18.2,1.4 18.2,-1.4 18.4,-2.6 Z" stroke="#2f2f2f" stroke-width="1.2" fill="#2f2f2f" />
<ellipse cx="23.8" cy="1.2" rx="1.0" ry="1.6" stroke="#fff" stroke-width="0.12" fill="#fff"/>
<ellipse cx="21.6" cy="-1.2" rx="1.1" ry="0.8" stroke="#fff" stroke-width="0.12" fill="#fff"/>
</g>
<g transform="translate(926.1 574.7) rotate(25.7)" >
<path d="M18.2,-1.9 L1,-1.9 Q-0.8,0 1,1.9 L18.2,1.9" stroke="#2f2f2f" stroke-width="1.44" fill="#fff" />
<path d="M18.4,-2.6 C18.6,-3.8 18.9,-4.2 19.8,-4.5 C20.7,-4.8 22.7,-4.8 23.8,-4.3 C24.9,-3.8 25.9,-2.8 26.4,-1.8 C26.8,-0.8 26.8,0.8 26.4,1.8 C25.9,2.8 24.9,3.8 23.8,4.3 C22.7,4.8 20.7,4.8 19.8,4.5 C18.9,4.2 18.6,3.8 18.4,2.6 C18.1,1.4 18.1,-1.4 18.4,-2.6 Z" stroke="#2f2f2f" stroke-width="1.2" fill="#2f2f2f" />
<ellipse cx="23.8" cy="1.2" rx="1.0" ry="1.6" stroke="#fff" stroke-width="0.12" fill="#fff"/>
<ellipse cx="21.6" cy="-1.2" rx="1.1" ry="0.8" stroke="#fff" stroke-width="0.12" fill="#fff"/>
</g>
<g transform="translate(906.7 587.7) rotate(26.0)" >
<path d="M18.2,-1.9 L1,-1.9 Q-0.8,0 1,1.9 L18.2,1.9" stroke="#2f2f2f" stroke-width="1.44" fill="#fff" />
<path d="M18.4,-2.6 C18.7,-3.8 18.9,-4.2 19.8,-4.5 C20.7,-4.8 22.7,-4.8 23.8,-4.3 C24.9,-3.8 26.0,-2.8 26.4,-1.8 C26.9,-0.8 26.9,0.8 26.4,1.8 C26.0,2.8 24.9,3.8 23.8,4.3 C22.7,4.8 20.7,4.8 19.8,4.5 C18.9,4.2 18.7,3.8 18.4,2.6 C18.2,1.4 18.2,-1.4 18.4,-2.6 Z" stroke="#2f2f2f" stroke-width="1.2" fill="#2f2f2f" />
<ellipse cx="23.8" cy="1.2" rx="1.0" ry="1.6" stroke="#fff" stroke-width="0.12" fill="#fff"/>
<ellipse cx="21.6" cy="-1.2" rx="1.1" ry="0.8" stroke="#fff" stroke-width="0.12" fill="#fff"/>
</g>
<line x1="921.5" y1="356.5" x2="921.5" y2="374.5" stroke="#2f2f2f" stroke-width="1.25"/>
<path d="M324.5,555.6 L323.7,561.8 A9.6,4.3 0 0 0 342.9,561.8 L342.1,555.6 Z" stroke="#2f2f2f" stroke-width="1.44" fill="#fff" />
<path d="M323.9,560.4 A9.5,4.3 0 0 0 342.7,560.4" stroke="#333" stroke-width="3.2" fill="none" stroke-linecap="butt"/>
<path d="M323.9,560.4 A9.5,4.3 0 0 0 342.7,560.4" stroke="#999" stroke-width="2.0" fill="none" stroke-dasharray="0.7 1.1" stroke-linecap="butt"/>
<ellipse cx="333.3" cy="555.6" rx="8.8" ry="4.3" stroke="#2f2f2f" stroke-width="1.56" fill="#fff"/>
<ellipse cx="333.3" cy="556.4" rx="7.0" ry="3.1" stroke="#2f2f2f" stroke-width="1.08" fill="none"/>
<ellipse cx="331.6" cy="543.6" rx="8.2" ry="4.9" stroke="#2f2f2f" stroke-width="1.92" fill="none"/>
<path d="M322.7,613.0 L321.9,620.4 A11.7,6.2 0 0 0 345.3,620.4 L344.5,613.0 Z" stroke="#2f2f2f" stroke-width="1.44" fill="#fff" />
<path d="M322.1,619.0 A11.6,6.2 0 0 0 345.1,619.0" stroke="#333" stroke-width="3.2" fill="none" stroke-linecap="butt"/>
<path d="M322.1,619.0 A11.6,6.2 0 0 0 345.1,619.0" stroke="#999" stroke-width="2.0" fill="none" stroke-dasharray="0.7 1.1" stroke-linecap="butt"/>
<ellipse cx="333.6" cy="613.0" rx="10.9" ry="6.2" stroke="#2f2f2f" stroke-width="1.56" fill="#fff"/>
<ellipse cx="333.6" cy="613.8" rx="9.1" ry="5.0" stroke="#2f2f2f" stroke-width="1.08" fill="none"/>
<ellipse cx="333.0" cy="597.5" rx="10.8" ry="6.6" stroke="#2f2f2f" stroke-width="1.92" fill="none"/>
<ellipse cx="333.0" cy="597.9" rx="9.2" ry="5.3" stroke="#2f2f2f" stroke-width="0.96" fill="none"/>
<path d="M318.3,545.0 L311.2,549.6 L320.0,555.8" stroke="#2f2f2f" stroke-width="1.2" fill="none" />
<path d="M320.0,601.3 L310.7,606.8 L320.5,613.5" stroke="#2f2f2f" stroke-width="1.2" fill="none" />
<line x1="394.7" y1="525.1" x2="395.2" y2="531.7" stroke="#2f2f2f" stroke-width="2.3"/>
<g transform="translate(406.9 530.5) rotate(6)" >
<rect x="-3.0" y="-3.5" width="6.0" height="7.0" rx="1" fill="#fff" stroke="#2f2f2f" stroke-width="1.9"/>
<line x1="-0.2" y1="-3.4" x2="-0.4" y2="3.4" stroke="#2f2f2f" stroke-width="1.32"/>
</g>
<line x1="395.3" y1="537.3" x2="395.7" y2="543.5" stroke="#2f2f2f" stroke-width="2.3"/>
<g transform="translate(407.3 542.3) rotate(6)" >
<rect x="-3.0" y="-3.5" width="6.0" height="7.0" rx="1" fill="#fff" stroke="#2f2f2f" stroke-width="1.9"/>
<line x1="-0.2" y1="-3.4" x2="-0.4" y2="3.4" stroke="#2f2f2f" stroke-width="1.32"/>
</g>
<line x1="397.4" y1="558.0" x2="398.5" y2="564.6" stroke="#2f2f2f" stroke-width="2.3"/>
<g transform="translate(408.4 565.7) rotate(6)" >
<rect x="-3.0" y="-3.5" width="6.0" height="7.0" rx="1" fill="#fff" stroke="#2f2f2f" stroke-width="1.9"/>
<line x1="-0.2" y1="-3.4" x2="-0.4" y2="3.4" stroke="#2f2f2f" stroke-width="1.32"/>
</g>
<line x1="399.2" y1="575.8" x2="400.8" y2="581.8" stroke="#2f2f2f" stroke-width="2.3"/>
<g transform="translate(409.8 584.1) rotate(6)" >
<rect x="-3.0" y="-3.5" width="6.0" height="7.0" rx="1" fill="#fff" stroke="#2f2f2f" stroke-width="1.9"/>
<line x1="-0.2" y1="-3.4" x2="-0.4" y2="3.4" stroke="#2f2f2f" stroke-width="1.32"/>
</g>
<line x1="401.4" y1="614.8" x2="401.9" y2="621.1" stroke="#2f2f2f" stroke-width="2.3"/>
<g transform="translate(411.3 623.5) rotate(6)" >
<rect x="-3.0" y="-3.5" width="6.0" height="7.0" rx="1" fill="#fff" stroke="#2f2f2f" stroke-width="1.9"/>
<line x1="-0.2" y1="-3.4" x2="-0.4" y2="3.4" stroke="#2f2f2f" stroke-width="1.32"/>
</g>
<line x1="401.4" y1="628.6" x2="402.3" y2="634.5" stroke="#2f2f2f" stroke-width="2.3"/>
<g transform="translate(411.8 636.9) rotate(6)" >
<rect x="-3.0" y="-3.5" width="6.0" height="7.0" rx="1" fill="#fff" stroke="#2f2f2f" stroke-width="1.9"/>
<line x1="-0.2" y1="-3.4" x2="-0.4" y2="3.4" stroke="#2f2f2f" stroke-width="1.32"/>
</g>
<line x1="400.7" y1="666.4" x2="401.6" y2="672.3" stroke="#2f2f2f" stroke-width="2.3"/>
<g transform="translate(413.1 676.5) rotate(6)" >
<rect x="-3.0" y="-3.5" width="6.0" height="7.0" rx="1" fill="#fff" stroke="#2f2f2f" stroke-width="1.9"/>
<line x1="-0.2" y1="-3.4" x2="-0.4" y2="3.4" stroke="#2f2f2f" stroke-width="1.32"/>
</g>
<line x1="403.6" y1="681.9" x2="405.0" y2="687.6" stroke="#2f2f2f" stroke-width="2.3"/>
<g transform="translate(413.5 689.9) rotate(6)" >
<rect x="-3.0" y="-3.5" width="6.0" height="7.0" rx="1" fill="#fff" stroke="#2f2f2f" stroke-width="1.9"/>
<line x1="-0.2" y1="-3.4" x2="-0.4" y2="3.4" stroke="#2f2f2f" stroke-width="1.32"/>
</g>
<line x1="406.4" y1="710.9" x2="406.9" y2="717.5" stroke="#2f2f2f" stroke-width="2.3"/>
<g transform="translate(415.8 713.2) rotate(6)" >
<rect x="-3.0" y="-3.5" width="6.0" height="7.0" rx="1" fill="#fff" stroke="#2f2f2f" stroke-width="1.9"/>
<line x1="-0.2" y1="-3.4" x2="-0.4" y2="3.4" stroke="#2f2f2f" stroke-width="1.32"/>
</g>
<path d="M407.5,722.6 L414.7,741.5 L418.0,722.6" stroke="#2f2f2f" stroke-width="1.2" fill="none" />
<path d="M351.1,825.2 C353.2,821.5 361.0,818.1 364.2,816.1 C367.4,814.2 368.1,813.5 370.2,813.5 C372.4,813.5 375.3,815.0 377.3,816.1 C379.3,817.2 373.6,815.8 382.4,820.1 C391.1,824.5 417.2,836.6 429.8,842.4 C442.5,848.1 446.7,850.1 458.1,854.5 C469.6,858.9 488.7,864.9 498.5,868.6 C508.3,872.3 509.4,873.8 516.7,876.7 C523.9,879.6 537.4,883.8 541.9,885.8 C546.5,887.8 543.8,887.0 543.9,888.8 C544.1,890.7 546.5,895.2 542.9,896.9 C539.4,898.6 529.5,898.9 522.7,898.9 C516.0,898.9 510.3,898.6 502.5,896.9 C494.8,895.2 488.4,893.2 476.3,888.8 C464.2,884.4 445.0,876.5 429.8,870.6 C414.7,864.8 398.5,858.9 385.4,853.5 C372.3,848.1 356.8,843.0 351.1,838.3 C345.3,833.6 348.9,828.9 351.1,825.2 Z" stroke="#2f2f2f" stroke-width="1.56" fill="#fff" />
<path d="M355.5,825.6 L366.2,818.7 L381.4,823.2 L429.8,845.0 L458.1,857.1 L498.5,871.2 L515.7,879.3" stroke="#2f2f2f" stroke-width="1.2" fill="none" />
<path d="M353.1,827.6 L369.2,835.3 L395.5,846.4 L429.8,859.5 L458.1,869.6 L486.4,878.7 L512.6,884.8 L519.1,887.8 L541.9,888.2" stroke="#2f2f2f" stroke-width="1.44" fill="none" />
<path d="M351.1,830.7 L385.4,846.8 L429.8,865.0 L476.3,882.2 L506.6,891.4" stroke="#2f2f2f" stroke-width="1.2" fill="none" />
<path d="M351.1,834.5 L385.4,850.6 L429.8,868.0 L476.3,885.8 L504.6,894.3" stroke="#2f2f2f" stroke-width="1.2" fill="none" />
<path d="M516.7,876.7 L513.0,884.8" stroke="#2f2f2f" stroke-width="1.2" fill="none" />
<path d="M519.1,887.8 L520.7,896.3" stroke="#2f2f2f" stroke-width="1.08" fill="none" />
<path d="M541.3,888.2 L540.5,897.1" stroke="#2f2f2f" stroke-width="1.08" fill="none" />
<path d="M492.4,893.1 L506.6,896.3 L523.8,898.5" stroke="#2f2f2f" stroke-width="2.16" fill="none" />
<line x1="370.2" y1="834.3" x2="388.4" y2="828.2" stroke="#2f2f2f" stroke-width="3.3"/>
<line x1="370.2" y1="834.3" x2="388.4" y2="828.2" stroke="#fff" stroke-width="1.2"/>
<line x1="388.4" y1="841.4" x2="394.5" y2="830.2" stroke="#2f2f2f" stroke-width="3.3"/>
<line x1="388.4" y1="841.4" x2="394.5" y2="830.2" stroke="#fff" stroke-width="1.2"/>
<line x1="398.5" y1="845.4" x2="416.7" y2="839.3" stroke="#2f2f2f" stroke-width="3.3"/>
<line x1="398.5" y1="845.4" x2="416.7" y2="839.3" stroke="#fff" stroke-width="1.2"/>
<line x1="420.7" y1="854.5" x2="427.8" y2="843.4" stroke="#2f2f2f" stroke-width="3.3"/>
<line x1="420.7" y1="854.5" x2="427.8" y2="843.4" stroke="#fff" stroke-width="1.2"/>
<line x1="429.8" y1="857.5" x2="448.0" y2="852.5" stroke="#2f2f2f" stroke-width="3.3"/>
<line x1="429.8" y1="857.5" x2="448.0" y2="852.5" stroke="#fff" stroke-width="1.2"/>
<line x1="453.1" y1="866.6" x2="459.1" y2="855.5" stroke="#2f2f2f" stroke-width="3.3"/>
<line x1="453.1" y1="866.6" x2="459.1" y2="855.5" stroke="#fff" stroke-width="1.2"/>
<line x1="461.1" y1="869.2" x2="478.3" y2="863.6" stroke="#2f2f2f" stroke-width="3.3"/>
<line x1="461.1" y1="869.2" x2="478.3" y2="863.6" stroke="#fff" stroke-width="1.2"/>
<line x1="471.2" y1="872.9" x2="490.4" y2="867.6" stroke="#2f2f2f" stroke-width="3.3"/>
<line x1="471.2" y1="872.9" x2="490.4" y2="867.6" stroke="#fff" stroke-width="1.2"/>
<line x1="484.4" y1="876.9" x2="499.5" y2="871.2" stroke="#2f2f2f" stroke-width="3.3"/>
<line x1="484.4" y1="876.9" x2="499.5" y2="871.2" stroke="#fff" stroke-width="1.2"/>
<line x1="498.5" y1="881.8" x2="506.6" y2="873.3" stroke="#2f2f2f" stroke-width="3.3"/>
<line x1="498.5" y1="881.8" x2="506.6" y2="873.3" stroke="#fff" stroke-width="1.2"/>
<line x1="506.6" y1="884.2" x2="512.6" y2="876.1" stroke="#2f2f2f" stroke-width="3.3"/>
<line x1="506.6" y1="884.2" x2="512.6" y2="876.1" stroke="#fff" stroke-width="1.2"/>
<ellipse cx="383.4" cy="838.3" rx="3.6" ry="2.2" stroke="#2f2f2f" stroke-width="1.56" fill="none"/>
<ellipse cx="383.4" cy="838.6" rx="1.7" ry="1.0" stroke="#2f2f2f" stroke-width="1.44" fill="none"/>
<ellipse cx="398.5" cy="843.4" rx="3.6" ry="2.2" stroke="#2f2f2f" stroke-width="1.56" fill="none"/>
<ellipse cx="398.5" cy="843.7" rx="1.7" ry="1.0" stroke="#2f2f2f" stroke-width="1.44" fill="none"/>
<ellipse cx="414.7" cy="851.5" rx="3.6" ry="2.2" stroke="#2f2f2f" stroke-width="1.56" fill="none"/>
<ellipse cx="414.7" cy="851.8" rx="1.7" ry="1.0" stroke="#2f2f2f" stroke-width="1.44" fill="none"/>
<ellipse cx="429.8" cy="856.5" rx="3.6" ry="2.2" stroke="#2f2f2f" stroke-width="1.56" fill="none"/>
<ellipse cx="429.8" cy="856.8" rx="1.7" ry="1.0" stroke="#2f2f2f" stroke-width="1.44" fill="none"/>
<ellipse cx="446.0" cy="863.6" rx="3.6" ry="2.2" stroke="#2f2f2f" stroke-width="1.56" fill="none"/>
<ellipse cx="446.0" cy="863.9" rx="1.7" ry="1.0" stroke="#2f2f2f" stroke-width="1.44" fill="none"/>
<ellipse cx="370.7" cy="817.9" rx="4.0" ry="2.6" stroke="#2f2f2f" stroke-width="1.44" fill="none"/>
<path d="M366.2,818.7 L364.2,827.2" stroke="#2f2f2f" stroke-width="1.08" fill="none" />
<path d="M375.3,819.5 L373.3,828.2" stroke="#2f2f2f" stroke-width="1.08" fill="none" />
<line x1="479.5" y1="818.5" x2="459.5" y2="834.5" stroke="#2f2f2f" stroke-width="1.25"/>
<path d="M240.2,923.5 L239.9,922.8 L239.7,922.1 L239.7,921.4 L239.7,920.6 L239.8,919.9 L240.0,919.1 L240.3,918.4 L240.6,917.7 L240.9,917.1 L241.2,916.5 L241.5,915.9 L241.9,915.4 L242.4,914.9 L242.9,914.4 L243.4,914.0 L243.9,913.6 L244.5,913.2 L245.2,912.8 L245.8,912.5 L246.5,912.2 L247.2,911.9 L247.9,911.7 L248.7,911.5 L249.5,911.3 L250.3,911.1 L251.2,911.0 L252.1,910.9 L253.0,910.8 L254.0,910.8 L255.0,910.8 L256.1,910.9 L257.3,910.9 L258.5,911.1 L259.8,911.2 L261.1,911.4 L262.4,911.6 L263.7,911.9 L265.0,912.2 L266.2,912.5 L267.4,912.8 L268.5,913.1 L269.4,913.5 L270.3,913.9 L271.2,914.3 L272.0,914.7 L272.9,915.1 L273.8,915.7 L274.9,916.2 L276.0,916.8 L277.3,917.5 L278.8,918.3 L280.4,919.1 L282.1,920.0 L283.9,921.0 L285.8,922.0 L287.7,923.1 L289.6,924.1 L291.5,925.1 L293.3,926.1 L295.0,927.0 L296.6,927.9 L298.2,928.7 L299.7,929.6 L301.2,930.4 L302.7,931.2 L304.1,932.0 L305.6,932.8 L307.0,933.5 L308.5,934.3 L310.0,935.0 L311.5,935.7 L312.9,936.4 L314.3,937.1 L315.8,937.7 L317.2,938.3 L318.6,939.0 L320.1,939.6 L321.7,940.2 L323.3,940.9 L325.0,941.6 L326.8,942.3 L328.7,943.1 L330.7,943.8 L332.7,944.6 L334.7,945.4 L336.8,946.2 L338.9,946.9 L341.0,947.7 L343.0,948.5 L345.0,949.2 L346.9,949.9 L348.8,950.6 L350.7,951.3 L352.6,952.0 L354.4,952.7 L356.3,953.3 L358.2,954.0 L360.1,954.7 L362.1,955.5 L364.2,956.2 L366.3,957.0 L368.5,957.8 L370.8,958.6 L373.1,959.5 L375.4,960.3 L377.7,961.2 L380.0,962.0 L382.4,962.9 L384.7,963.7 L387.0,964.5 L389.3,965.3 L391.6,966.1 L393.9,966.9 L396.3,967.7 L398.6,968.5 L400.9,969.3 L403.2,970.1 L405.5,970.9 L407.8,971.6 L410.0,972.3 L412.2,973.0 L414.3,973.6 L416.4,974.3 L418.5,974.9 L420.5,975.5 L422.6,976.1 L424.7,976.7 L426.7,977.3 L428.9,977.9 L431.0,978.5 L433.2,979.1 L435.3,979.7 L437.5,980.2 L439.6,980.8 L441.8,981.4 L444.0,981.9 L446.3,982.5 L448.6,983.1 L451.0,983.7 L453.4,984.3 L456.0,984.9 L458.7,985.6 L461.5,986.3 L464.4,987.0 L467.3,987.6 L470.1,988.3 L472.9,989.0 L475.6,989.6 L478.1,990.2 L480.4,990.8 L482.5,991.3 L484.4,991.7 L486.2,992.1 L488.0,992.5 L489.6,992.8 L491.1,993.2 L492.6,993.6 L494.0,994.0 L495.3,994.5 L496.7,995.1 L498.0,995.8 L499.3,996.5 L500.6,997.4 L501.8,998.2 L502.9,999.1 L504.0,1000.0 L505.0,1001.0 L505.9,1001.9 L506.7,1002.9 L507.5,1003.8 L508.2,1004.7 L508.8,1005.7 L509.3,1006.7 L509.8,1007.7 L510.2,1008.6 L510.5,1009.6 L510.7,1010.6 L510.8,1011.6 L510.9,1012.6 L510.8,1013.5 L510.7,1014.4 L510.4,1015.3 L510.1,1016.3 L509.7,1017.2 L509.2,1018.0 L508.6,1018.9 L507.9,1019.8 L507.2,1020.6 L506.3,1021.4 L505.4,1022.2 L504.4,1023.0 L503.2,1023.7 L501.9,1024.4 L500.5,1025.1 L499.0,1025.8 L497.5,1026.5 L496.0,1027.1 L494.4,1027.7 L492.8,1028.2 L491.3,1028.7 L489.8,1029.1 L488.2,1029.6 L486.6,1029.9 L484.9,1030.3 L483.3,1030.6 L481.6,1030.8 L480.0,1031.0 L478.3,1031.2 L476.6,1031.3 L475.0,1031.4 L473.4,1031.4 L471.7,1031.4 L470.0,1031.3 L468.4,1031.2 L466.7,1031.0 L465.0,1030.8 L463.4,1030.6 L461.8,1030.4 L460.3,1030.1 L458.8,1029.8 L457.4,1029.5 L456.0,1029.1 L454.7,1028.8 L453.4,1028.3 L452.2,1027.9 L450.9,1027.4 L449.7,1027.0 L448.4,1026.5 L447.1,1025.9 L445.8,1025.4 L444.5,1024.9 L443.2,1024.3 L441.9,1023.7 L440.6,1023.2 L439.3,1022.5 L437.9,1021.9 L436.5,1021.2 L435.0,1020.5 L433.4,1019.7 L431.7,1018.9 L429.9,1018.1 L428.2,1017.2 L426.5,1016.4 L424.7,1015.5 L422.8,1014.5 L420.8,1013.5 L418.5,1012.4 L416.0,1011.2 L413.2,1009.8 L410.0,1008.2 L406.4,1006.5 L402.5,1004.5 L398.3,1002.5 L393.8,1000.3 L389.1,998.0 L384.3,995.6 L379.3,993.2 L374.3,990.7 L369.2,988.2 L364.2,985.8 L359.1,983.3 L353.7,980.7 L348.2,978.0 L342.6,975.3 L336.9,972.6 L331.2,969.8 L325.7,967.2 L320.2,964.5 L315.0,962.0 L310.0,959.6 L305.2,957.3 L300.4,955.0 L295.6,952.7 L291.0,950.5 L286.5,948.3 L282.2,946.3 L278.1,944.3 L274.2,942.5 L270.6,940.8 L267.4,939.2 L264.5,937.8 L261.9,936.6 L259.7,935.5 L257.6,934.6 L255.8,933.7 L254.2,932.9 L252.6,932.2 L251.2,931.5 L249.9,930.8 L248.5,930.0 L247.2,929.2 L246.0,928.5 L244.9,927.9 L244.0,927.2 L243.1,926.6 L242.3,926.0 L241.7,925.4 L241.1,924.8 L240.6,924.2 Z" stroke="#fff" stroke-width="6.4" fill="none" />
<path d="M244.5,916.2 L245.4,916.5 L246.2,916.7 L246.8,916.9 L247.3,916.7 L247.7,916.4 L248.1,916.2 L248.6,915.9 L249.2,915.7 L249.8,915.5 L250.4,915.3 L251.0,915.1 L251.7,915.0 L252.4,914.9 L253.2,914.8 L254.0,914.8 L254.9,914.8 L255.8,914.9 L256.9,914.9 L258.1,915.1 L259.3,915.2 L260.5,915.4 L261.7,915.6 L262.9,915.9 L264.1,916.2 L265.2,916.5 L266.2,916.8 L267.1,917.1 L267.9,917.5 L268.6,917.8 L269.3,918.2 L270.0,918.6 L270.8,919.1 L271.7,919.6 L272.7,920.1 L273.9,920.7 L275.3,921.4 L276.7,922.2 L278.3,923.0 L280.0,924.0 L281.8,924.9 L283.7,926.0 L285.6,927.0 L287.5,928.0 L289.4,929.0 L291.2,930.0 L292.9,930.9 L294.5,931.8 L296.0,932.6 L297.6,933.5 L299.3,933.8 L300.8,934.6 L302.3,935.4 L303.7,936.2 L305.2,937.0 L306.7,937.8 L308.3,938.5 L309.8,939.3 L311.2,940.0 L312.7,940.6 L314.1,941.3 L315.6,941.9 L317.1,942.6 L318.6,943.2 L320.2,943.9 L321.8,944.6 L323.5,945.3 L325.3,946.0 L327.3,946.8 L329.2,947.5 L331.3,948.3 L333.3,949.1 L335.4,949.9 L337.5,950.6 L339.6,951.4 L341.6,952.2 L343.6,952.9 L345.6,953.6 L347.5,954.3 L349.3,955.0 L351.2,955.7 L353.1,956.4 L354.9,957.1 L356.9,957.8 L358.8,958.5 L360.8,959.2 L362.8,959.9 L365.0,960.7 L367.2,961.5 L369.4,962.3 L371.7,963.2 L374.0,964.0 L376.3,964.9 L378.7,965.7 L381.0,966.6 L383.4,967.4 L385.7,968.2 L388.0,969.1 L390.3,969.9 L392.6,970.7 L395.0,971.5 L397.3,972.3 L399.7,973.1 L402.0,973.9 L404.3,974.6 L406.6,975.4 L408.8,976.1 L411.0,976.8 L413.1,977.4 L415.2,978.1 L417.3,978.7 L419.4,979.3 L421.5,979.9 L423.6,980.5 L425.7,981.1 L427.8,981.7 L429.9,982.3 L432.1,982.9 L434.3,983.5 L436.5,984.1 L438.6,984.7 L440.8,985.2 L443.1,985.8 L445.3,986.4 L447.6,987.0 L450.0,987.6 L452.4,988.2 L455.0,988.8 L457.7,989.5 L460.6,990.1 L463.5,990.8 L466.4,991.5 L469.2,992.2 L472.0,992.9 L474.7,993.5 L477.2,994.1 L479.5,994.7 L481.6,995.2 L483.6,995.6 L485.4,996.0 L487.1,996.4 L488.7,996.7 L490.1,997.0 L491.5,997.4 L492.7,997.8 L493.9,998.2 L495.0,998.7 L496.1,999.2 L497.4,999.7 L498.7,1000.2 L499.9,1000.6 L501.2,1001.2 L502.4,1001.7" stroke="#2f2f2f" stroke-width="2.16" fill="none" />
<path d="M500.5,994.7 L502.0,995.3 L503.5,995.9 L505.0,996.6 L506.4,997.4 L507.7,998.2 L508.7,999.3 L509.7,1000.4 L510.5,1001.5 L511.3,1002.6 L512.0,1003.8 L512.7,1005.0 L513.2,1006.2 L513.7,1007.4 L514.1,1008.7 L514.3,1010.0 L514.5,1011.3 L514.6,1012.6 L514.5,1013.9 L514.3,1015.2 L514.0,1016.4 L513.6,1017.7 L513.0,1018.9 L512.4,1020.0 L511.7,1021.2 L510.9,1022.3 L509.9,1023.3 L508.9,1024.3 L507.8,1025.3 L506.5,1026.2 L505.2,1027.1 L503.7,1027.9 L502.2,1028.7 L500.7,1029.4 L499.0,1030.1 L497.4,1030.8 L495.7,1031.4 L494.1,1032.0 L492.4,1032.5 L490.8,1033.0 L489.1,1033.4 L487.4,1033.8 L485.7,1034.2 L483.9,1034.5 L482.2,1034.8 L480.4,1035.0 L478.6,1035.2 L476.9,1035.3 L475.1,1035.4 L473.4,1035.4 L471.6,1035.4 L469.8,1035.3 L468.0,1035.2 L466.3,1035.0 L464.5,1034.8 L462.8,1034.6 L461.2,1034.3 L459.6,1034.0 L458.0,1033.7 L456.4,1033.4 L455.0,1033.0 L453.5,1032.6 L452.2,1032.1 L450.8,1031.6 L449.5,1031.2 L448.2,1030.6 L446.9,1030.1 L445.6,1029.6 L444.3,1029.1 L442.9,1028.5 L441.6,1027.9 L440.3,1027.3 L439.0,1026.7 L437.6,1026.1 L436.2,1025.5 L434.8,1024.8 L433.3,1024.1 L431.7,1023.3 L430.0,1022.5 L428.2,1021.6 L426.5,1020.8 L424.8,1019.9 L423.0,1019.0 L421.1,1018.1 L419.0,1017.1 L416.8,1015.9 L414.3,1014.7 L411.4,1013.3 L408.3,1011.7 L404.7,1010.0 L400.8,1008.1 L396.6,1006.0 L392.1,1003.8 L387.4,1001.5 L382.5,999.1 L377.6,996.7 L372.6,994.3 L367.5,991.8 L362.5,989.3 L357.3,986.9 L352.0,984.3 L346.5,981.6 L340.9,978.9 L335.2,976.1 L329.5,973.4 L324.0,970.7 L318.5,968.1 L313.3,965.6 L308.3,963.2 L303.5,960.8 L298.7,958.5 L293.7,956.6 L289.1,954.4 L284.6,952.3 L280.3,950.2 L276.2,948.3 L272.3,946.4 L268.8,944.7 L265.5,943.1 L262.6,941.8 L260.1,940.5 L257.8,939.5 L255.8,938.5 L253.9,937.7 L252.3,936.9 L250.7,936.1 L249.2,935.4 L247.7,934.7 L246.3,933.9 L244.9,933.1 L243.7,932.4 L242.5,931.7 L241.3,931.1 L240.3,930.4 L239.2,929.7 L238.2,929.0 L237.2,928.1 L236.2,927.2 L235.3,926.1 L234.4,924.6 L233.9,923.0 L233.7,921.4 L233.8,919.9 L234.1,918.6 L234.5,917.4 L234.9,916.4 L235.4,915.4 L235.9,914.6 L236.4,913.8 L237.1,912.9 L237.9,912.1 L238.7,911.4 L239.8,911.1 L241.2,911.2 L242.3,911.3 L243.4,911.3" stroke="#2f2f2f" stroke-width="2.16" fill="none" />
<path d="M240.2,923.5 L239.9,922.8 L239.7,922.1 L239.7,921.4 L239.7,920.6 L239.8,919.9 L240.0,919.1 L240.3,918.4 L240.6,917.7 L240.9,917.1 L241.2,916.5 L241.5,915.9 L241.9,915.4 L242.4,914.9 L242.9,914.4 L243.4,914.0 L243.9,913.6 L244.5,913.2 L245.2,912.8 L245.8,912.5 L246.5,912.2 L247.2,911.9 L247.9,911.7 L248.7,911.5 L249.5,911.3 L250.3,911.1 L251.2,911.0 L252.1,910.9 L253.0,910.8 L254.0,910.8 L255.0,910.8 L256.1,910.9 L257.3,910.9 L258.5,911.1 L259.8,911.2 L261.1,911.4 L262.4,911.6 L263.7,911.9 L265.0,912.2 L266.2,912.5 L267.4,912.8 L268.5,913.1 L269.4,913.5 L270.3,913.9 L271.2,914.3 L272.0,914.7 L272.9,915.1 L273.8,915.7 L274.9,916.2 L276.0,916.8 L277.3,917.5 L278.8,918.3 L280.4,919.1 L282.1,920.0 L283.9,921.0 L285.8,922.0 L287.7,923.1 L289.6,924.1 L291.5,925.1 L293.3,926.1 L295.0,927.0 L296.6,927.9 L298.2,928.7 L299.7,929.6 L301.2,930.4 L302.7,931.2 L304.1,932.0 L305.6,932.8 L307.0,933.5 L308.5,934.3 L310.0,935.0 L311.5,935.7 L312.9,936.4 L314.3,937.1 L315.8,937.7 L317.2,938.3 L318.6,939.0 L320.1,939.6 L321.7,940.2 L323.3,940.9 L325.0,941.6 L326.8,942.3 L328.7,943.1 L330.7,943.8 L332.7,944.6 L334.7,945.4 L336.8,946.2 L338.9,946.9 L341.0,947.7 L343.0,948.5 L345.0,949.2 L346.9,949.9 L348.8,950.6 L350.7,951.3 L352.6,952.0 L354.4,952.7 L356.3,953.3 L358.2,954.0 L360.1,954.7 L362.1,955.5 L364.2,956.2 L366.3,957.0 L368.5,957.8 L370.8,958.6 L373.1,959.5 L375.4,960.3 L377.7,961.2 L380.0,962.0 L382.4,962.9 L384.7,963.7 L387.0,964.5 L389.3,965.3 L391.6,966.1 L393.9,966.9 L396.3,967.7 L398.6,968.5 L400.9,969.3 L403.2,970.1 L405.5,970.9 L407.8,971.6 L410.0,972.3 L412.2,973.0 L414.3,973.6 L416.4,974.3 L418.5,974.9 L420.5,975.5 L422.6,976.1 L424.7,976.7 L426.7,977.3 L428.9,977.9 L431.0,978.5 L433.2,979.1 L435.3,979.7 L437.5,980.2 L439.6,980.8 L441.8,981.4 L444.0,981.9 L446.3,982.5 L448.6,983.1 L451.0,983.7 L453.4,984.3 L456.0,984.9 L458.7,985.6 L461.5,986.3 L464.4,987.0 L467.3,987.6 L470.1,988.3 L472.9,989.0 L475.6,989.6 L478.1,990.2 L480.4,990.8 L482.5,991.3 L484.4,991.7 L486.2,992.1 L488.0,992.5 L489.6,992.8 L491.1,993.2 L492.6,993.6 L494.0,994.0 L495.3,994.5 L496.7,995.1 L498.0,995.8 L499.3,996.5 L500.6,997.4 L501.8,998.2 L502.9,999.1 L504.0,1000.0 L505.0,1001.0 L505.9,1001.9 L506.7,1002.9 L507.5,1003.8 L508.2,1004.7 L508.8,1005.7 L509.3,1006.7 L509.8,1007.7 L510.2,1008.6 L510.5,1009.6 L510.7,1010.6 L510.8,1011.6 L510.9,1012.6 L510.8,1013.5 L510.7,1014.4 L510.4,1015.3 L510.1,1016.3 L509.7,1017.2 L509.2,1018.0 L508.6,1018.9 L507.9,1019.8 L507.2,1020.6 L506.3,1021.4 L505.4,1022.2 L504.4,1023.0 L503.2,1023.7 L501.9,1024.4 L500.5,1025.1 L499.0,1025.8 L497.5,1026.5 L496.0,1027.1 L494.4,1027.7 L492.8,1028.2 L491.3,1028.7 L489.8,1029.1 L488.2,1029.6 L486.6,1029.9 L484.9,1030.3 L483.3,1030.6 L481.6,1030.8 L480.0,1031.0 L478.3,1031.2 L476.6,1031.3 L475.0,1031.4 L473.4,1031.4 L471.7,1031.4 L470.0,1031.3 L468.4,1031.2 L466.7,1031.0 L465.0,1030.8 L463.4,1030.6 L461.8,1030.4 L460.3,1030.1 L458.8,1029.8 L457.4,1029.5 L456.0,1029.1 L454.7,1028.8 L453.4,1028.3 L452.2,1027.9 L450.9,1027.4 L449.7,1027.0 L448.4,1026.5 L447.1,1025.9 L445.8,1025.4 L444.5,1024.9 L443.2,1024.3 L441.9,1023.7 L440.6,1023.2 L439.3,1022.5 L437.9,1021.9 L436.5,1021.2 L435.0,1020.5 L433.4,1019.7 L431.7,1018.9 L429.9,1018.1 L428.2,1017.2 L426.5,1016.4 L424.7,1015.5 L422.8,1014.5 L420.8,1013.5 L418.5,1012.4 L416.0,1011.2 L413.2,1009.8 L410.0,1008.2 L406.4,1006.5 L402.5,1004.5 L398.3,1002.5 L393.8,1000.3 L389.1,998.0 L384.3,995.6 L379.3,993.2 L374.3,990.7 L369.2,988.2 L364.2,985.8 L359.1,983.3 L353.7,980.7 L348.2,978.0 L342.6,975.3 L336.9,972.6 L331.2,969.8 L325.7,967.2 L320.2,964.5 L315.0,962.0 L310.0,959.6 L305.2,957.3 L300.4,955.0 L295.6,952.7 L291.0,950.5 L286.5,948.3 L282.2,946.3 L278.1,944.3 L274.2,942.5 L270.6,940.8 L267.4,939.2 L264.5,937.8 L261.9,936.6 L259.7,935.5 L257.6,934.6 L255.8,933.7 L254.2,932.9 L252.6,932.2 L251.2,931.5 L249.9,930.8 L248.5,930.0 L247.2,929.2 L246.0,928.5 L244.9,927.9 L244.0,927.2 L243.1,926.6 L242.3,926.0 L241.7,925.4 L241.1,924.8 L240.6,924.2 Z" stroke="#fff" stroke-width="5.6" fill="none" />
<path d="M240.2,923.5 L239.9,922.8 L239.7,922.1 L239.7,921.4 L239.7,920.6 L239.8,919.9 L240.0,919.1 L240.3,918.4 L240.6,917.7 L240.9,917.1 L241.2,916.5 L241.5,915.9 L241.9,915.4 L242.4,914.9 L242.9,914.4 L243.4,914.0 L243.9,913.6 L244.5,913.2 L245.2,912.8 L245.8,912.5 L246.5,912.2 L247.2,911.9 L247.9,911.7 L248.7,911.5 L249.5,911.3 L250.3,911.1 L251.2,911.0 L252.1,910.9 L253.0,910.8 L254.0,910.8 L255.0,910.8 L256.1,910.9 L257.3,910.9 L258.5,911.1 L259.8,911.2 L261.1,911.4 L262.4,911.6 L263.7,911.9 L265.0,912.2 L266.2,912.5 L267.4,912.8 L268.5,913.1 L269.4,913.5 L270.3,913.9 L271.2,914.3 L272.0,914.7 L272.9,915.1 L273.8,915.7 L274.9,916.2 L276.0,916.8 L277.3,917.5 L278.8,918.3 L280.4,919.1 L282.1,920.0 L283.9,921.0 L285.8,922.0 L287.7,923.1 L289.6,924.1 L291.5,925.1 L293.3,926.1 L295.0,927.0 L296.6,927.9 L298.2,928.7 L299.7,929.6 L301.2,930.4 L302.7,931.2 L304.1,932.0 L305.6,932.8 L307.0,933.5 L308.5,934.3 L310.0,935.0 L311.5,935.7 L312.9,936.4 L314.3,937.1 L315.8,937.7 L317.2,938.3 L318.6,939.0 L320.1,939.6 L321.7,940.2 L323.3,940.9 L325.0,941.6 L326.8,942.3 L328.7,943.1 L330.7,943.8 L332.7,944.6 L334.7,945.4 L336.8,946.2 L338.9,946.9 L341.0,947.7 L343.0,948.5 L345.0,949.2 L346.9,949.9 L348.8,950.6 L350.7,951.3 L352.6,952.0 L354.4,952.7 L356.3,953.3 L358.2,954.0 L360.1,954.7 L362.1,955.5 L364.2,956.2 L366.3,957.0 L368.5,957.8 L370.8,958.6 L373.1,959.5 L375.4,960.3 L377.7,961.2 L380.0,962.0 L382.4,962.9 L384.7,963.7 L387.0,964.5 L389.3,965.3 L391.6,966.1 L393.9,966.9 L396.3,967.7 L398.6,968.5 L400.9,969.3 L403.2,970.1 L405.5,970.9 L407.8,971.6 L410.0,972.3 L412.2,973.0 L414.3,973.6 L416.4,974.3 L418.5,974.9 L420.5,975.5 L422.6,976.1 L424.7,976.7 L426.7,977.3 L428.9,977.9 L431.0,978.5 L433.2,979.1 L435.3,979.7 L437.5,980.2 L439.6,980.8 L441.8,981.4 L444.0,981.9 L446.3,982.5 L448.6,983.1 L451.0,983.7 L453.4,984.3 L456.0,984.9 L458.7,985.6 L461.5,986.3 L464.4,987.0 L467.3,987.6 L470.1,988.3 L472.9,989.0 L475.6,989.6 L478.1,990.2 L480.4,990.8 L482.5,991.3 L484.4,991.7 L486.2,992.1 L488.0,992.5 L489.6,992.8 L491.1,993.2 L492.6,993.6 L494.0,994.0 L495.3,994.5 L496.7,995.1 L498.0,995.8 L499.3,996.5 L500.6,997.4 L501.8,998.2 L502.9,999.1 L504.0,1000.0 L505.0,1001.0 L505.9,1001.9 L506.7,1002.9 L507.5,1003.8 L508.2,1004.7 L508.8,1005.7 L509.3,1006.7 L509.8,1007.7 L510.2,1008.6 L510.5,1009.6 L510.7,1010.6 L510.8,1011.6 L510.9,1012.6 L510.8,1013.5 L510.7,1014.4 L510.4,1015.3 L510.1,1016.3 L509.7,1017.2 L509.2,1018.0 L508.6,1018.9 L507.9,1019.8 L507.2,1020.6 L506.3,1021.4 L505.4,1022.2 L504.4,1023.0 L503.2,1023.7 L501.9,1024.4 L500.5,1025.1 L499.0,1025.8 L497.5,1026.5 L496.0,1027.1 L494.4,1027.7 L492.8,1028.2 L491.3,1028.7 L489.8,1029.1 L488.2,1029.6 L486.6,1029.9 L484.9,1030.3 L483.3,1030.6 L481.6,1030.8 L480.0,1031.0 L478.3,1031.2 L476.6,1031.3 L475.0,1031.4 L473.4,1031.4 L471.7,1031.4 L470.0,1031.3 L468.4,1031.2 L466.7,1031.0 L465.0,1030.8 L463.4,1030.6 L461.8,1030.4 L460.3,1030.1 L458.8,1029.8 L457.4,1029.5 L456.0,1029.1 L454.7,1028.8 L453.4,1028.3 L452.2,1027.9 L450.9,1027.4 L449.7,1027.0 L448.4,1026.5 L447.1,1025.9 L445.8,1025.4 L444.5,1024.9 L443.2,1024.3 L441.9,1023.7 L440.6,1023.2 L439.3,1022.5 L437.9,1021.9 L436.5,1021.2 L435.0,1020.5 L433.4,1019.7 L431.7,1018.9 L429.9,1018.1 L428.2,1017.2 L426.5,1016.4 L424.7,1015.5 L422.8,1014.5 L420.8,1013.5 L418.5,1012.4 L416.0,1011.2 L413.2,1009.8 L410.0,1008.2 L406.4,1006.5 L402.5,1004.5 L398.3,1002.5 L393.8,1000.3 L389.1,998.0 L384.3,995.6 L379.3,993.2 L374.3,990.7 L369.2,988.2 L364.2,985.8 L359.1,983.3 L353.7,980.7 L348.2,978.0 L342.6,975.3 L336.9,972.6 L331.2,969.8 L325.7,967.2 L320.2,964.5 L315.0,962.0 L310.0,959.6 L305.2,957.3 L300.4,955.0 L295.6,952.7 L291.0,950.5 L286.5,948.3 L282.2,946.3 L278.1,944.3 L274.2,942.5 L270.6,940.8 L267.4,939.2 L264.5,937.8 L261.9,936.6 L259.7,935.5 L257.6,934.6 L255.8,933.7 L254.2,932.9 L252.6,932.2 L251.2,931.5 L249.9,930.8 L248.5,930.0 L247.2,929.2 L246.0,928.5 L244.9,927.9 L244.0,927.2 L243.1,926.6 L242.3,926.0 L241.7,925.4 L241.1,924.8 L240.6,924.2 Z" stroke="#2e2e2e" stroke-width="4.8" fill="none" />
<path d="M240.2,923.5 L239.9,922.8 L239.7,922.1 L239.7,921.4 L239.7,920.6 L239.8,919.9 L240.0,919.1 L240.3,918.4 L240.6,917.7 L240.9,917.1 L241.2,916.5 L241.5,915.9 L241.9,915.4 L242.4,914.9 L242.9,914.4 L243.4,914.0 L243.9,913.6 L244.5,913.2 L245.2,912.8 L245.8,912.5 L246.5,912.2 L247.2,911.9 L247.9,911.7 L248.7,911.5 L249.5,911.3 L250.3,911.1 L251.2,911.0 L252.1,910.9 L253.0,910.8 L254.0,910.8 L255.0,910.8 L256.1,910.9 L257.3,910.9 L258.5,911.1 L259.8,911.2 L261.1,911.4 L262.4,911.6 L263.7,911.9 L265.0,912.2 L266.2,912.5 L267.4,912.8 L268.5,913.1 L269.4,913.5 L270.3,913.9 L271.2,914.3 L272.0,914.7 L272.9,915.1 L273.8,915.7 L274.9,916.2 L276.0,916.8 L277.3,917.5 L278.8,918.3 L280.4,919.1 L282.1,920.0 L283.9,921.0 L285.8,922.0 L287.7,923.1 L289.6,924.1 L291.5,925.1 L293.3,926.1 L295.0,927.0 L296.6,927.9 L298.2,928.7 L299.7,929.6 L301.2,930.4 L302.7,931.2 L304.1,932.0 L305.6,932.8 L307.0,933.5 L308.5,934.3 L310.0,935.0 L311.5,935.7 L312.9,936.4 L314.3,937.1 L315.8,937.7 L317.2,938.3 L318.6,939.0 L320.1,939.6 L321.7,940.2 L323.3,940.9 L325.0,941.6 L326.8,942.3 L328.7,943.1 L330.7,943.8 L332.7,944.6 L334.7,945.4 L336.8,946.2 L338.9,946.9 L341.0,947.7 L343.0,948.5 L345.0,949.2 L346.9,949.9 L348.8,950.6 L350.7,951.3 L352.6,952.0 L354.4,952.7 L356.3,953.3 L358.2,954.0 L360.1,954.7 L362.1,955.5 L364.2,956.2 L366.3,957.0 L368.5,957.8 L370.8,958.6 L373.1,959.5 L375.4,960.3 L377.7,961.2 L380.0,962.0 L382.4,962.9 L384.7,963.7 L387.0,964.5 L389.3,965.3 L391.6,966.1 L393.9,966.9 L396.3,967.7 L398.6,968.5 L400.9,969.3 L403.2,970.1 L405.5,970.9 L407.8,971.6 L410.0,972.3 L412.2,973.0 L414.3,973.6 L416.4,974.3 L418.5,974.9 L420.5,975.5 L422.6,976.1 L424.7,976.7 L426.7,977.3 L428.9,977.9 L431.0,978.5 L433.2,979.1 L435.3,979.7 L437.5,980.2 L439.6,980.8 L441.8,981.4 L444.0,981.9 L446.3,982.5 L448.6,983.1 L451.0,983.7 L453.4,984.3 L456.0,984.9 L458.7,985.6 L461.5,986.3 L464.4,987.0 L467.3,987.6 L470.1,988.3 L472.9,989.0 L475.6,989.6 L478.1,990.2 L480.4,990.8 L482.5,991.3 L484.4,991.7 L486.2,992.1 L488.0,992.5 L489.6,992.8 L491.1,993.2 L492.6,993.6 L494.0,994.0 L495.3,994.5 L496.7,995.1 L498.0,995.8 L499.3,996.5 L500.6,997.4 L501.8,998.2 L502.9,999.1 L504.0,1000.0 L505.0,1001.0 L505.9,1001.9 L506.7,1002.9 L507.5,1003.8 L508.2,1004.7 L508.8,1005.7 L509.3,1006.7 L509.8,1007.7 L510.2,1008.6 L510.5,1009.6 L510.7,1010.6 L510.8,1011.6 L510.9,1012.6 L510.8,1013.5 L510.7,1014.4 L510.4,1015.3 L510.1,1016.3 L509.7,1017.2 L509.2,1018.0 L508.6,1018.9 L507.9,1019.8 L507.2,1020.6 L506.3,1021.4 L505.4,1022.2 L504.4,1023.0 L503.2,1023.7 L501.9,1024.4 L500.5,1025.1 L499.0,1025.8 L497.5,1026.5 L496.0,1027.1 L494.4,1027.7 L492.8,1028.2 L491.3,1028.7 L489.8,1029.1 L488.2,1029.6 L486.6,1029.9 L484.9,1030.3 L483.3,1030.6 L481.6,1030.8 L480.0,1031.0 L478.3,1031.2 L476.6,1031.3 L475.0,1031.4 L473.4,1031.4 L471.7,1031.4 L470.0,1031.3 L468.4,1031.2 L466.7,1031.0 L465.0,1030.8 L463.4,1030.6 L461.8,1030.4 L460.3,1030.1 L458.8,1029.8 L457.4,1029.5 L456.0,1029.1 L454.7,1028.8 L453.4,1028.3 L452.2,1027.9 L450.9,1027.4 L449.7,1027.0 L448.4,1026.5 L447.1,1025.9 L445.8,1025.4 L444.5,1024.9 L443.2,1024.3 L441.9,1023.7 L440.6,1023.2 L439.3,1022.5 L437.9,1021.9 L436.5,1021.2 L435.0,1020.5 L433.4,1019.7 L431.7,1018.9 L429.9,1018.1 L428.2,1017.2 L426.5,1016.4 L424.7,1015.5 L422.8,1014.5 L420.8,1013.5 L418.5,1012.4 L416.0,1011.2 L413.2,1009.8 L410.0,1008.2 L406.4,1006.5 L402.5,1004.5 L398.3,1002.5 L393.8,1000.3 L389.1,998.0 L384.3,995.6 L379.3,993.2 L374.3,990.7 L369.2,988.2 L364.2,985.8 L359.1,983.3 L353.7,980.7 L348.2,978.0 L342.6,975.3 L336.9,972.6 L331.2,969.8 L325.7,967.2 L320.2,964.5 L315.0,962.0 L310.0,959.6 L305.2,957.3 L300.4,955.0 L295.6,952.7 L291.0,950.5 L286.5,948.3 L282.2,946.3 L278.1,944.3 L274.2,942.5 L270.6,940.8 L267.4,939.2 L264.5,937.8 L261.9,936.6 L259.7,935.5 L257.6,934.6 L255.8,933.7 L254.2,932.9 L252.6,932.2 L251.2,931.5 L249.9,930.8 L248.5,930.0 L247.2,929.2 L246.0,928.5 L244.9,927.9 L244.0,927.2 L243.1,926.6 L242.3,926.0 L241.7,925.4 L241.1,924.8 L240.6,924.2 Z" stroke="#8c8c8c" stroke-width="3.2" fill="none" stroke-dasharray="0.5 1.1" stroke-linecap="butt"/>
<line x1="210.5" y1="885.5" x2="230.5" y2="901.5" stroke="#2f2f2f" stroke-width="1.25"/>
<path d="M221.6,1090.3 L221.6,1091.8 A10.4,4.4 0 0 0 242.4,1091.8 L242.4,1090.3 Z" stroke="#2f2f2f" stroke-width="1.2" fill="#fff" />
<ellipse cx="232.0" cy="1090.3" rx="10.4" ry="4.4" stroke="#2f2f2f" stroke-width="1.2" fill="#fff" />
<path d="M224.6,1073.5 L224.6,1089.3 A7.4,2.6 0 0 0 239.4,1089.3 L239.4,1073.5 Z" stroke="#2f2f2f" stroke-width="1.2" fill="#fff" />
<ellipse cx="232.0" cy="1073.5" rx="7.4" ry="2.6" stroke="#2f2f2f" stroke-width="1.2" fill="#fff" />
<ellipse cx="232.0" cy="1074.0" rx="5.4" ry="1.8" stroke="#444" stroke-width="2.04" fill="none"/>
<path d="M226.9,1072.7 L226.9,1055.7 Q227.1,1052.9 232.0,1052.7 Q236.9,1052.9 237.1,1055.7 L237.1,1072.7" stroke="#2f2f2f" stroke-width="1.44" fill="#fff" />
<ellipse cx="232.0" cy="1055.1" rx="2.6" ry="1.2" stroke="#2f2f2f" stroke-width="0.96" fill="none"/>
<path d="M339.2,922.2 L339.2,923.7 A10.4,4.4 0 0 0 360.0,923.7 L360.0,922.2 Z" stroke="#2f2f2f" stroke-width="1.2" fill="#fff" />
<ellipse cx="349.6" cy="922.2" rx="10.4" ry="4.4" stroke="#2f2f2f" stroke-width="1.2" fill="#fff" />
<path d="M342.2,905.4 L342.2,921.2 A7.4,2.6 0 0 0 357.0,921.2 L357.0,905.4 Z" stroke="#2f2f2f" stroke-width="1.2" fill="#fff" />
<ellipse cx="349.6" cy="905.4" rx="7.4" ry="2.6" stroke="#2f2f2f" stroke-width="1.2" fill="#fff" />
<ellipse cx="349.6" cy="905.9" rx="5.4" ry="1.8" stroke="#444" stroke-width="2.04" fill="none"/>
<path d="M344.5,904.6 L344.5,887.6 Q344.7,884.8 349.6,884.6 Q354.5,884.8 354.7,887.6 L354.7,904.6" stroke="#2f2f2f" stroke-width="1.44" fill="#fff" />
<ellipse cx="349.6" cy="887.0" rx="2.6" ry="1.2" stroke="#2f2f2f" stroke-width="0.96" fill="none"/>
<line x1="189.4" y1="1073.3" x2="214.0" y2="1074.3" stroke="#2f2f2f" stroke-width="1.25"/>
<line x1="303.5" y1="886.0" x2="324.0" y2="897.0" stroke="#2f2f2f" stroke-width="1.25"/>
<path d="M477.7,1105.0 L478.7,1109.0 L482.7,1111.5 L487.7,1111.5 L491.7,1109.0 L492.7,1105.0" stroke="#2f2f2f" stroke-width="1.32" fill="#fff" />
<line x1="482.5" y1="1107.0" x2="482.5" y2="1111.5" stroke="#2f2f2f" stroke-width="0.96"/>
<line x1="487.5" y1="1107.0" x2="487.5" y2="1111.5" stroke="#2f2f2f" stroke-width="0.96"/>
<path d="M472.7,1102.0 L472.7,1103.5 A12.0,4.8 0 0 0 496.7,1103.5 L496.7,1102.0 Z" stroke="#2f2f2f" stroke-width="1.1" fill="#fff" />
<ellipse cx="484.7" cy="1102.0" rx="12.0" ry="4.8" stroke="#2f2f2f" stroke-width="1.1" fill="#fff" />
<ellipse cx="484.7" cy="1101.5" rx="6.6" ry="2.6" stroke="#2f2f2f" stroke-width="1.08" fill="none"/>
<path d="M480.1,1101.0 L480.1,1077.0 Q480.3,1074.0 484.7,1073.8 Q489.1,1074.0 489.3,1077.0 L489.3,1101.0 A4.6,1.8 0 0 1 480.1,1101.0" stroke="#2f2f2f" stroke-width="1.32" fill="#fff" />
<ellipse cx="484.7" cy="1076.4" rx="2.8" ry="1.2" stroke="#2f2f2f" stroke-width="0.96" fill="none"/>
<line x1="480.1" y1="1094.5" x2="489.3" y2="1094.5" stroke="#2f2f2f" stroke-width="0.84"/>
<line x1="504.1" y1="1086.5" x2="528.7" y2="1079.7" stroke="#2f2f2f" stroke-width="1.25"/>
<path d="M247.5,1000.9 L252.6,999.7 L258.4,1000.4 L327.1,1030.2 L390.8,1060.4 L401.6,1068.7 L401.6,1083.0 L380.7,1083.8 L355.6,1073.8 L355.6,1065.4 L338.0,1063.7 L335.5,1064.5 L273.5,1038.6 L263.5,1034.4 L258.4,1030.2 L247.5,1011.8 Z" stroke="#2f2f2f" stroke-width="1.56" fill="#fff" />
<path d="M250.4,1003.1 L258.1,1002.7 L325.8,1032.2 L389.4,1062.4 L398.3,1068.4" stroke="#2f2f2f" stroke-width="1.2" fill="none" />
<path d="M252.6,1005.4 L258.4,1023.5 L265.1,1026.0 L291.9,1032.7 L333.8,1052.8 L360.6,1063.7 L384.1,1072.9 L399.1,1072.9" stroke="#2f2f2f" stroke-width="1.44" fill="none" />
<path d="M253.4,1005.4 L258.8,1005.4 L325.4,1034.6 L388.7,1064.5 L396.6,1070.1" stroke="#2f2f2f" stroke-width="1.08" fill="none" />
<path d="M258.4,1030.2 L259.3,1024.3" stroke="#2f2f2f" stroke-width="1.2" fill="none" />
<path d="M263.5,1034.4 L263.5,1026.0" stroke="#2f2f2f" stroke-width="1.2" fill="none" />
<path d="M335.5,1064.5 L337.2,1055.7 L355.6,1064.5" stroke="#2f2f2f" stroke-width="1.32" fill="none" />
<path d="M355.6,1065.4 L355.9,1057.8" stroke="#2f2f2f" stroke-width="1.08" fill="none" />
<path d="M399.1,1072.9 L398.8,1083.0" stroke="#2f2f2f" stroke-width="1.08" fill="none" />
<path d="M401.6,1068.7 L399.1,1072.9" stroke="#2f2f2f" stroke-width="1.08" fill="none" />
<path d="M355.6,1073.8 L380.7,1077.9 L399.1,1077.9" stroke="#2f2f2f" stroke-width="0.0" fill="none" />
<line x1="260.1" y1="1015.1" x2="269.3" y2="1010.9" stroke="#2f2f2f" stroke-width="3.3"/>
<line x1="260.1" y1="1015.1" x2="269.3" y2="1010.9" stroke="#fff" stroke-width="1.2"/>
<line x1="271.8" y1="1024.3" x2="281.9" y2="1016.8" stroke="#2f2f2f" stroke-width="3.3"/>
<line x1="271.8" y1="1024.3" x2="281.9" y2="1016.8" stroke="#fff" stroke-width="1.2"/>
<line x1="288.6" y1="1030.2" x2="292.3" y2="1021.5" stroke="#2f2f2f" stroke-width="3.3"/>
<line x1="288.6" y1="1030.2" x2="292.3" y2="1021.5" stroke="#fff" stroke-width="1.2"/>
<line x1="302.0" y1="1036.9" x2="315.4" y2="1031.0" stroke="#2f2f2f" stroke-width="3.3"/>
<line x1="302.0" y1="1036.9" x2="315.4" y2="1031.0" stroke="#fff" stroke-width="1.2"/>
<line x1="322.1" y1="1043.3" x2="326.6" y2="1034.9" stroke="#2f2f2f" stroke-width="3.3"/>
<line x1="322.1" y1="1043.3" x2="326.6" y2="1034.9" stroke="#fff" stroke-width="1.2"/>
<line x1="333.8" y1="1050.3" x2="348.9" y2="1045.3" stroke="#2f2f2f" stroke-width="3.3"/>
<line x1="333.8" y1="1050.3" x2="348.9" y2="1045.3" stroke="#fff" stroke-width="1.2"/>
<line x1="355.6" y1="1057.3" x2="359.3" y2="1051.6" stroke="#2f2f2f" stroke-width="3.3"/>
<line x1="355.6" y1="1057.3" x2="359.3" y2="1051.6" stroke="#fff" stroke-width="1.2"/>
<line x1="367.3" y1="1064.9" x2="380.7" y2="1060.4" stroke="#2f2f2f" stroke-width="3.3"/>
<line x1="367.3" y1="1064.9" x2="380.7" y2="1060.4" stroke="#fff" stroke-width="1.2"/>
<line x1="382.4" y1="1070.7" x2="386.1" y2="1065.4" stroke="#2f2f2f" stroke-width="3.3"/>
<line x1="382.4" y1="1070.7" x2="386.1" y2="1065.4" stroke="#fff" stroke-width="1.2"/>
<line x1="253.4" y1="1007.6" x2="265.1" y2="1010.1" stroke="#2f2f2f" stroke-width="3.3"/>
<line x1="253.4" y1="1007.6" x2="265.1" y2="1010.1" stroke="#fff" stroke-width="1.2"/>
<ellipse cx="266.8" cy="1021.0" rx="3.6" ry="2.2" stroke="#2f2f2f" stroke-width="1.56" fill="none"/>
<ellipse cx="266.8" cy="1021.3" rx="1.7" ry="1.0" stroke="#2f2f2f" stroke-width="1.44" fill="none"/>
<ellipse cx="281.0" cy="1026.0" rx="3.6" ry="2.2" stroke="#2f2f2f" stroke-width="1.56" fill="none"/>
<ellipse cx="281.0" cy="1026.3" rx="1.7" ry="1.0" stroke="#2f2f2f" stroke-width="1.44" fill="none"/>
<ellipse cx="297.0" cy="1031.9" rx="3.6" ry="2.2" stroke="#2f2f2f" stroke-width="1.56" fill="none"/>
<ellipse cx="297.0" cy="1032.2" rx="1.7" ry="1.0" stroke="#2f2f2f" stroke-width="1.44" fill="none"/>
<ellipse cx="313.7" cy="1039.4" rx="3.6" ry="2.2" stroke="#2f2f2f" stroke-width="1.56" fill="none"/>
<ellipse cx="313.7" cy="1039.7" rx="1.7" ry="1.0" stroke="#2f2f2f" stroke-width="1.44" fill="none"/>
<ellipse cx="330.5" cy="1047.0" rx="3.6" ry="2.2" stroke="#2f2f2f" stroke-width="1.56" fill="none"/>
<ellipse cx="330.5" cy="1047.3" rx="1.7" ry="1.0" stroke="#2f2f2f" stroke-width="1.44" fill="none"/>
<ellipse cx="348.9" cy="1054.5" rx="3.6" ry="2.2" stroke="#2f2f2f" stroke-width="1.56" fill="none"/>
<ellipse cx="348.9" cy="1054.8" rx="1.7" ry="1.0" stroke="#2f2f2f" stroke-width="1.44" fill="none"/>
<ellipse cx="361.4" cy="1060.0" rx="3.6" ry="2.2" stroke="#2f2f2f" stroke-width="1.56" fill="none"/>
<ellipse cx="361.4" cy="1060.3" rx="1.7" ry="1.0" stroke="#2f2f2f" stroke-width="1.44" fill="none"/>
<ellipse cx="375.7" cy="1067.1" rx="3.6" ry="2.2" stroke="#2f2f2f" stroke-width="1.56" fill="none"/>
<ellipse cx="375.7" cy="1067.4" rx="1.7" ry="1.0" stroke="#2f2f2f" stroke-width="1.44" fill="none"/>
<line x1="198.5" y1="980.5" x2="229.5" y2="995.0" stroke="#2f2f2f" stroke-width="1.25"/>
<ellipse cx="495.8" cy="952.4000000000001" rx="40.3" ry="19.8" fill="#fff" stroke="#2f2f2f" stroke-width="1.0"/>
<ellipse cx="495.8" cy="950.9000000000001" rx="40.3" ry="20.2" fill="none" stroke="#2f2f2f" stroke-width="3.6" stroke-dasharray="2.1 1.7" stroke-linecap="butt"/>
<ellipse cx="495.8" cy="949.2" rx="39.6" ry="18.9" stroke="#2f2f2f" stroke-width="1.44" fill="#fff"/>
<ellipse cx="496.1" cy="948.6" rx="7.4" ry="4.1" stroke="#2f2f2f" stroke-width="1.32" fill="none"/>
<path d="M489.3,950.0 A7.4,3.4 0 0 1 503.0,949.8000000000001" stroke="#2f2f2f" stroke-width="1.08" fill="none" />
<ellipse cx="491.5" cy="937.1" rx="7.0" ry="3.8" stroke="#2f2f2f" stroke-width="1.32" fill="none"/>
<path d="M485.3,938.3 A7,3.2 0 0 1 498.1,938.1" stroke="#2f2f2f" stroke-width="1.08" fill="none" />
<ellipse cx="509.9" cy="939.1" rx="7.0" ry="3.8" stroke="#2f2f2f" stroke-width="1.32" fill="none"/>
<path d="M503.7,940.3 A7,3.2 0 0 1 516.5,940.1" stroke="#2f2f2f" stroke-width="1.08" fill="none" />
<ellipse cx="520.0" cy="947.1" rx="7.0" ry="3.8" stroke="#2f2f2f" stroke-width="1.32" fill="none"/>
<path d="M513.8,948.3 A7,3.2 0 0 1 526.6,948.1" stroke="#2f2f2f" stroke-width="1.08" fill="none" />
<ellipse cx="516.0" cy="956.3" rx="7.0" ry="3.8" stroke="#2f2f2f" stroke-width="1.32" fill="none"/>
<path d="M509.8,957.5 A7,3.2 0 0 1 522.6,957.3" stroke="#2f2f2f" stroke-width="1.08" fill="none" />
<ellipse cx="500.1" cy="961.3" rx="7.0" ry="3.8" stroke="#2f2f2f" stroke-width="1.32" fill="none"/>
<path d="M493.9,962.5 A7,3.2 0 0 1 506.7,962.3" stroke="#2f2f2f" stroke-width="1.08" fill="none" />
<ellipse cx="481.7" cy="959.3" rx="7.0" ry="3.8" stroke="#2f2f2f" stroke-width="1.32" fill="none"/>
<path d="M475.5,960.5 A7,3.2 0 0 1 488.3,960.3" stroke="#2f2f2f" stroke-width="1.08" fill="none" />
<ellipse cx="471.6" cy="951.3" rx="7.0" ry="3.8" stroke="#2f2f2f" stroke-width="1.32" fill="none"/>
<path d="M465.4,952.5 A7,3.2 0 0 1 478.2,952.3" stroke="#2f2f2f" stroke-width="1.08" fill="none" />
<ellipse cx="475.6" cy="942.1" rx="7.0" ry="3.8" stroke="#2f2f2f" stroke-width="1.32" fill="none"/>
<path d="M469.4,943.3 A7,3.2 0 0 1 482.2,943.1" stroke="#2f2f2f" stroke-width="1.08" fill="none" />
<ellipse cx="488.4" cy="953.4" rx="1.6" ry="1.1" stroke="#2f2f2f" stroke-width="1.2" fill="none"/>
<line x1="538.3" y1="970.9" x2="556.4" y2="985.4" stroke="#2f2f2f" stroke-width="1.25"/>
<g transform="translate(592.3 952.7) rotate(-30)" >
<path d="M0,-5.6 L24,-5.6 A3.4,5.6 0 0 1 24,5.6 L0,5.6" stroke="#2f2f2f" stroke-width="1.32" fill="#fff" />
<ellipse cx="0.0" cy="0.0" rx="3.6" ry="5.6" stroke="#2f2f2f" stroke-width="1.68" fill="#fff"/>
<ellipse cx="0.2" cy="0.0" rx="2.3" ry="3.9" stroke="#2f2f2f" stroke-width="1.08" fill="none"/>
</g>
<line x1="605.5" y1="961.4" x2="605.5" y2="990.3" stroke="#2f2f2f" stroke-width="1.25"/>
<ellipse cx="632.2" cy="925.5" rx="9.2" ry="11.6" stroke="#2f2f2f" stroke-width="1.44" fill="none" transform="rotate(-20 632.2 925.5)"/>
<ellipse cx="632.2" cy="925.5" rx="8.0" ry="10.4" stroke="#2f2f2f" stroke-width="0.96" fill="none" transform="rotate(-20 632.2 925.5)"/>
<line x1="637.9" y1="947.3" x2="643.5" y2="975.5" stroke="#2f2f2f" stroke-width="1.25"/>
<g transform="translate(665.4 909)" >
<path d="M8.3,-5.3 C8.8,-4.8 10.6,-4.0 11.2,-2.4 C11.8,-0.8 12.1,2.0 11.8,4.1 C11.5,6.2 10.6,8.5 9.5,10.1 C8.4,11.7 6.9,12.8 5.3,13.6 C3.7,14.4 0.9,14.6 0.0,14.8" stroke="#2f2f2f" stroke-width="1.56" fill="none" />
<path d="M-0.6,-13.6 C-0.1,-14.2 1.2,-16.4 2.4,-17.2 C3.6,-18.0 5.1,-18.4 6.5,-18.3 C7.9,-18.2 9.7,-17.7 10.7,-16.6 C11.7,-15.5 12.3,-13.4 12.4,-11.8 C12.5,-10.2 11.9,-8.2 11.2,-7.1 C10.5,-6.0 8.8,-5.6 8.3,-5.3" stroke="#2f2f2f" stroke-width="1.56" fill="#fff" />
<path d="M-11.2,8.9 C-11.1,9.7 -11.4,12.1 -10.9,13.6 C-10.4,15.1 -9.3,17.0 -8.3,17.8 C-7.3,18.6 -5.8,18.8 -4.7,18.6 C-3.6,18.4 -2.6,17.4 -1.8,16.6 C-1.0,15.8 -0.3,14.1 0.0,13.6" stroke="#2f2f2f" stroke-width="1.56" fill="#fff" />
<path d="M2.4,-17.2 C5.5,-15.5 8,-12 8.6,-7.5" stroke="#2f2f2f" stroke-width="1.2" fill="none" />
<path d="M-1.8,16.6 C0.5,16.8 3,15.8 5.3,13.6" stroke="#2f2f2f" stroke-width="1.2" fill="none" />
<ellipse cx="-2.3" cy="0.3" rx="8.8" ry="11.6" stroke="#2f2f2f" stroke-width="2.3" fill="#fff" transform="rotate(-20 -2.3 0.3)"/>
<ellipse cx="-2.1" cy="0.5" rx="6.6" ry="9.4" stroke="#2f2f2f" stroke-width="1.2" fill="none" transform="rotate(-20 -2.1 0.5)"/>
<ellipse cx="-1.4" cy="0.7" rx="8.8" ry="11.5" stroke="#2f2f2f" stroke-width="1.08" fill="none" transform="rotate(-20 -1.4 0.7)"/>
<path d="M-0.6,-5.3 L-5.3,4.7" stroke="#2f2f2f" stroke-width="2.28" fill="none" />
<path d="M2.0,-3.8 L-2.6,6.2" stroke="#2f2f2f" stroke-width="1.44" fill="none" />
<ellipse cx="3.6" cy="-10.7" rx="1.9" ry="2.8" stroke="#2f2f2f" stroke-width="1.56" fill="#fff" transform="rotate(15 3.6 -10.7)"/>
<ellipse cx="-6.5" cy="13.3" rx="1.9" ry="2.5" stroke="#2f2f2f" stroke-width="1.56" fill="#fff" transform="rotate(15 -6.5 13.3)"/>
</g>
<line x1="675.8" y1="934.5" x2="684.0" y2="964.7" stroke="#2f2f2f" stroke-width="1.25"/>
<g transform="translate(730.5 863.7) rotate(-27.8)" >
<ellipse cx="16.5" cy="0.0" rx="2.6" ry="4.6" stroke="#2f2f2f" stroke-width="1.92" fill="#fff"/>
<path d="M14.6,-4.9 L16.7,-4.5 M14.6,4.9 L16.7,4.5" stroke="#2f2f2f" stroke-width="1.44" fill="none" />
<ellipse cx="14.1" cy="0.0" rx="2.7" ry="5.2" stroke="#2f2f2f" stroke-width="2.1" fill="#fff"/>
<ellipse cx="14.3" cy="0.0" rx="1.5" ry="3.3" stroke="#2f2f2f" stroke-width="1.2" fill="none"/>
<path d="M13.6,-2.2 L0.8,-2.2 Q-1.6,0 0.8,2.2 L13.6,2.2" stroke="#2f2f2f" stroke-width="1.56" fill="#fff" />
<ellipse cx="0.9" cy="0.0" rx="1.1" ry="1.8" stroke="#2f2f2f" stroke-width="1.32" fill="none"/>
</g>
<g transform="translate(723.5 887.1) rotate(-28.0)" >
<ellipse cx="16.2" cy="0.0" rx="2.6" ry="4.6" stroke="#2f2f2f" stroke-width="1.92" fill="#fff"/>
<path d="M14.3,-4.9 L16.4,-4.5 M14.3,4.9 L16.4,4.5" stroke="#2f2f2f" stroke-width="1.44" fill="none" />
<ellipse cx="13.8" cy="0.0" rx="2.7" ry="5.2" stroke="#2f2f2f" stroke-width="2.1" fill="#fff"/>
<ellipse cx="14.0" cy="0.0" rx="1.5" ry="3.3" stroke="#2f2f2f" stroke-width="1.2" fill="none"/>
<path d="M13.3,-2.2 L0.8,-2.2 Q-1.6,0 0.8,2.2 L13.3,2.2" stroke="#2f2f2f" stroke-width="1.56" fill="#fff" />
<ellipse cx="0.9" cy="0.0" rx="1.1" ry="1.8" stroke="#2f2f2f" stroke-width="1.32" fill="none"/>
</g>
<line x1="760.3" y1="865.3" x2="774.9" y2="856.6" stroke="#2f2f2f" stroke-width="1.25"/>
<path d="M899.5,1139.3 L922.0,1140.7 L969.9,1168.5 L968.1,1170.8 L955.1,1179.1 L945.0,1177.9 L905.4,1154.3 Z" stroke="#2f2f2f" stroke-width="1.8" fill="#fff" />
<path d="M899.5,1139.3 L903.0,1142.0 L909.0,1148.5 L914.0,1151.5 L938.0,1166.5 L945.0,1177.9" stroke="#2f2f2f" stroke-width="1.08" fill="none" />
<path d="M938.0,1166.5 L958.0,1161.0 L969.9,1168.5" stroke="#2f2f2f" stroke-width="1.08" fill="none" />
<path d="M903.0,1142.0 L908.0,1141.0 L913.0,1143.5 L909.0,1148.5" stroke="#2f2f2f" stroke-width="1.08" fill="none" />
<path d="M913.0,1143.5 L924.0,1142.0 L958.0,1161.0" stroke="#2f2f2f" stroke-width="1.08" fill="none" />
<path d="M916.0,1150.0 L925.0,1147.0 L937.0,1150.0 L944.0,1154.0 L930.0,1158.5" stroke="#2f2f2f" stroke-width="1.32" fill="none" />
<path d="M920.0,1151.0 L923.0,1155.0 L929.0,1152.0 L933.0,1157.0 L927.0,1149.0 L935.0,1152.0 L938.0,1158.0 L943.0,1156.0" stroke="#2f2f2f" stroke-width="1.44" fill="none" />
<path d="M946.0,1167.5 L957.0,1164.5 L962.0,1168.0 L951.0,1171.5 Z" stroke="#2f2f2f" stroke-width="1.32" fill="none" />
<path d="M941.0,1168.5 L968.1,1170.8" stroke="#2f2f2f" stroke-width="0.96" fill="none" />
<path d="M913.0,1143.5 L916.0,1150.0" stroke="#2f2f2f" stroke-width="1.08" fill="none" />
<path d="M301.6,266.3 C303.3,265.4 306.9,265.3 308.5,265.8 C310.1,266.3 311.1,267.7 311.4,269.3 C311.8,270.9 311.4,273.6 310.5,275.2 C309.5,276.8 307.2,278.0 305.5,279.1 C303.9,280.3 302.1,281.6 300.6,282.1 C299.1,282.6 297.4,282.9 296.7,282.1 C295.9,281.3 295.9,279.0 296.2,277.2 C296.4,275.4 297.2,273.1 298.1,271.3 C299.1,269.5 299.9,267.2 301.6,266.3 Z" stroke="#2f2f2f" stroke-width="1.32" fill="none" />
<path d="M299.4,271.3 C299.3,270.6 300.7,268.3 302.1,267.5 C303.5,266.8 306.6,266.5 308.0,266.8 C309.4,267.1 310.7,268.7 310.7,269.3 C310.6,269.9 308.9,270.1 307.5,270.5 C306.2,270.8 303.9,271.1 302.6,271.3 C301.2,271.4 299.5,271.9 299.4,271.3 Z" stroke="#2f2f2f" stroke-width="0.96" fill="#333" />
<path d="M299.1,273.7 C300.0,273.6 302.7,273.6 304.6,273.2 C306.4,272.8 309.1,271.6 310.0,271.3" stroke="#2f2f2f" stroke-width="1.08" fill="none" />
<path d="M319.3,255.5 C319.8,253.6 321.3,254.0 323.3,255.0 C325.2,256.0 329.5,259.2 331.2,261.4 C332.8,263.6 333.1,266.0 333.1,268.3 C333.1,270.6 332.5,274.4 331.2,275.2 C329.8,276.0 327.0,274.7 325.2,273.2 C323.4,271.8 321.3,269.3 320.3,266.3 C319.3,263.4 318.8,257.4 319.3,255.5 Z" stroke="#2f2f2f" stroke-width="1.32" fill="none" />
<path d="M322.1,256.5 C322.5,256.8 323.4,257.2 324.8,258.5 C326.1,259.7 329.3,261.4 330.4,263.9 C331.4,266.3 331.0,271.7 331.2,273.2" stroke="#2f2f2f" stroke-width="0.96" fill="none" />
<path d="M304.6,282.1 L307.5,287.0 L312.4,281.6" stroke="#2f2f2f" stroke-width="1.08" fill="none" />
<ellipse cx="303.6" cy="300.8" rx="2.5" ry="3.9" stroke="#2f2f2f" stroke-width="1.44" fill="none" transform="rotate(25 303.6 300.8)"/>
<path d="M297.7,304.8 C296.8,303.0 298.0,300.0 299.6,296.9 C301.3,293.8 305.4,288.4 307.5,286.0 C309.6,283.7 311.2,282.3 312.4,282.6 C313.7,282.9 314.4,284.5 314.9,288.0 C315.4,291.5 315.8,300.4 315.4,303.8 C315.0,307.1 314.2,307.6 312.4,308.2 C310.6,308.8 307.0,307.8 304.6,307.2 C302.1,306.6 298.5,306.5 297.7,304.8 Z" stroke="#2f2f2f" stroke-width="1.2" fill="none" />
<path d="M297.7,303.8 C297.2,304.9 295.3,307.9 294.7,310.7 C294.1,313.5 294.0,318.9 293.9,320.5" stroke="#2f2f2f" stroke-width="1.08" fill="none" />
<ellipse cx="327.7" cy="284.1" rx="2.0" ry="2.8" stroke="#2f2f2f" stroke-width="1.32" fill="none" transform="rotate(-10 327.7 284.1)"/>
<ellipse cx="327.7" cy="292.1" rx="2.0" ry="2.8" stroke="#2f2f2f" stroke-width="1.32" fill="none" transform="rotate(-10 327.7 292.1)"/>
<path d="M334.3,281.1 C334.6,279.6 335.8,279.6 336.1,281.1 C336.4,282.6 336.6,288.5 336.3,290.0 C336.0,291.5 334.6,291.5 334.3,290.0 C334.0,288.5 334.0,282.6 334.3,281.1 Z" stroke="#2f2f2f" stroke-width="1.2" fill="none" />
<path d="M335.3,282.1 L335.4,289.0" stroke="#2f2f2f" stroke-width="0.84" fill="none" />
<path d="M332.6,291.5 C333.1,290.3 335.5,290.1 336.1,291.0 C336.7,291.9 336.6,295.7 336.1,296.9 C335.6,298.0 333.7,298.8 333.1,297.9 C332.5,297.0 332.1,292.6 332.6,291.5 Z" stroke="#2f2f2f" stroke-width="1.32" fill="none" />
<path d="M329.7,299.8 L337.1,297.4 L337.6,313.1 L329.7,299.8" stroke="#2f2f2f" stroke-width="1.32" fill="none" />
<path d="M332.1,300.8 L336.1,306.7" stroke="#2f2f2f" stroke-width="0.84" fill="none" />
<path d="M292.7,256.5 C292.6,258.1 291.7,262.9 291.7,266.3 C291.7,269.8 292.4,274.1 292.7,277.2 C293.1,280.3 293.1,280.6 293.9,285.1 C294.7,289.5 297.0,300.7 297.7,303.8" stroke="#2f2f2f" stroke-width="1.2" fill="none" />
<path d="M294.5,256.0 C294.3,257.7 293.5,262.8 293.5,266.3 C293.5,269.9 294.1,274.1 294.5,277.2 C294.9,280.3 295.0,281.1 295.7,285.1 C296.4,289.0 298.3,298.2 298.8,300.8" stroke="#2f2f2f" stroke-width="0.96" fill="none" />
<path d="M314.4,251.6 C314.9,252.0 317.0,252.5 317.4,254.5 C317.7,256.5 316.0,259.9 316.4,263.4 C316.7,266.8 318.4,272.2 319.3,275.2 C320.2,278.2 321.5,277.5 321.8,281.1 C322.1,284.7 322.0,293.4 321.3,296.9 C320.6,300.3 318.3,300.7 317.4,301.8 C316.4,303.0 315.7,303.4 315.4,303.8" stroke="#2f2f2f" stroke-width="1.08" fill="none" />
<path d="M277.5,259.4 L292.2,265.8" stroke="#2f2f2f" stroke-width="1.08" fill="none" />
<path d="M282.4,285.1 C282.9,284.0 284.8,283.5 285.8,283.9 C286.8,284.2 288.1,285.9 288.3,287.0 C288.5,288.1 287.7,290.0 286.8,290.5 C285.9,291.0 283.6,290.9 282.9,290.0 C282.1,289.1 281.9,286.1 282.4,285.1 Z" stroke="#2f2f2f" stroke-width="1.08" fill="#777" />
<path d="M303.5,319.3 C305.2,318.4 308.8,318.3 310.4,318.8 C312.0,319.3 313.0,320.7 313.3,322.3 C313.7,323.9 313.3,326.6 312.4,328.2 C311.4,329.8 309.1,331.0 307.4,332.1 C305.8,333.3 304.0,334.6 302.5,335.1 C301.0,335.6 299.3,335.9 298.6,335.1 C297.8,334.3 297.8,332.0 298.1,330.2 C298.3,328.4 299.1,326.1 300.0,324.3 C301.0,322.5 301.8,320.2 303.5,319.3 Z" stroke="#2f2f2f" stroke-width="1.32" fill="none" />
<path d="M301.3,324.3 C301.2,323.6 302.6,321.3 304.0,320.5 C305.4,319.8 308.5,319.5 309.9,319.8 C311.3,320.1 312.6,321.7 312.6,322.3 C312.5,322.9 310.8,323.1 309.4,323.5 C308.1,323.8 305.8,324.1 304.5,324.3 C303.1,324.4 301.4,324.9 301.3,324.3 Z" stroke="#2f2f2f" stroke-width="0.96" fill="#333" />
<path d="M301.0,326.7 C301.9,326.6 304.6,326.6 306.5,326.2 C308.3,325.8 311.0,324.6 311.9,324.3" stroke="#2f2f2f" stroke-width="1.08" fill="none" />
<path d="M321.2,308.5 C321.7,306.6 323.2,307.0 325.2,308.0 C327.1,309.0 331.4,312.2 333.1,314.4 C334.7,316.6 335.0,319.0 335.0,321.3 C335.0,323.6 334.4,327.4 333.1,328.2 C331.7,329.0 328.9,327.7 327.1,326.2 C325.3,324.8 323.2,322.3 322.2,319.3 C321.2,316.4 320.7,310.4 321.2,308.5 Z" stroke="#2f2f2f" stroke-width="1.32" fill="none" />
<path d="M324.0,309.5 C324.4,309.8 325.3,310.2 326.7,311.5 C328.0,312.7 331.2,314.4 332.3,316.9 C333.3,319.3 332.9,324.7 333.1,326.2" stroke="#2f2f2f" stroke-width="0.96" fill="none" />
<path d="M306.5,335.1 L309.4,340.0 L314.3,334.6" stroke="#2f2f2f" stroke-width="1.08" fill="none" />
<ellipse cx="305.5" cy="353.8" rx="2.5" ry="3.9" stroke="#2f2f2f" stroke-width="1.44" fill="none" transform="rotate(25 305.5 353.8)"/>
<path d="M299.6,357.8 C298.7,356.0 299.9,353.0 301.5,349.9 C303.2,346.8 307.3,341.4 309.4,339.0 C311.5,336.7 313.1,335.3 314.3,335.6 C315.6,335.9 316.3,337.5 316.8,341.0 C317.3,344.5 317.7,353.4 317.3,356.8 C316.9,360.1 316.1,360.6 314.3,361.2 C312.5,361.8 308.9,360.8 306.5,360.2 C304.0,359.6 300.4,359.5 299.6,357.8 Z" stroke="#2f2f2f" stroke-width="1.2" fill="none" />
<path d="M299.6,356.8 C299.1,357.9 297.2,360.9 296.6,363.7 C296.0,366.5 295.9,371.9 295.8,373.5" stroke="#2f2f2f" stroke-width="1.08" fill="none" />
<ellipse cx="329.6" cy="337.1" rx="2.0" ry="2.8" stroke="#2f2f2f" stroke-width="1.32" fill="none" transform="rotate(-10 329.6 337.1)"/>
<ellipse cx="329.6" cy="345.1" rx="2.0" ry="2.8" stroke="#2f2f2f" stroke-width="1.32" fill="none" transform="rotate(-10 329.6 345.1)"/>
<path d="M336.2,334.1 C336.5,332.6 337.7,332.6 338.0,334.1 C338.3,335.6 338.5,341.5 338.2,343.0 C337.9,344.5 336.5,344.5 336.2,343.0 C335.9,341.5 335.9,335.6 336.2,334.1 Z" stroke="#2f2f2f" stroke-width="1.2" fill="none" />
<path d="M337.2,335.1 L337.3,342.0" stroke="#2f2f2f" stroke-width="0.84" fill="none" />
<path d="M334.5,344.5 C335.0,343.3 337.4,343.1 338.0,344.0 C338.6,344.9 338.5,348.7 338.0,349.9 C337.5,351.0 335.6,351.8 335.0,350.9 C334.4,350.0 334.0,345.6 334.5,344.5 Z" stroke="#2f2f2f" stroke-width="1.32" fill="none" />
<path d="M331.6,352.8 L339.0,350.4 L339.5,366.1 L331.6,352.8" stroke="#2f2f2f" stroke-width="1.32" fill="none" />
<path d="M334.0,353.8 L338.0,359.7" stroke="#2f2f2f" stroke-width="0.84" fill="none" />
<path d="M294.6,309.5 C294.5,311.1 293.6,315.9 293.6,319.3 C293.6,322.8 294.3,327.1 294.6,330.2 C295.0,333.3 295.0,333.6 295.8,338.1 C296.6,342.5 298.9,353.7 299.6,356.8" stroke="#2f2f2f" stroke-width="1.2" fill="none" />
<path d="M296.4,309.0 C296.2,310.7 295.4,315.8 295.4,319.3 C295.4,322.9 296.0,327.1 296.4,330.2 C296.8,333.3 296.9,334.1 297.6,338.1 C298.3,342.0 300.2,351.2 300.7,353.8" stroke="#2f2f2f" stroke-width="0.96" fill="none" />
<path d="M316.3,304.6 C316.8,305.0 318.9,305.5 319.3,307.5 C319.6,309.5 317.9,312.9 318.3,316.4 C318.6,319.8 320.3,325.2 321.2,328.2 C322.1,331.2 323.4,330.5 323.7,334.1 C324.0,337.7 323.9,346.4 323.2,349.9 C322.5,353.3 320.2,353.7 319.3,354.8 C318.3,356.0 317.6,356.4 317.3,356.8" stroke="#2f2f2f" stroke-width="1.08" fill="none" />
<path d="M279.4,312.4 L294.1,318.8" stroke="#2f2f2f" stroke-width="1.08" fill="none" />
<path d="M284.3,338.1 C284.8,337.0 286.7,336.5 287.7,336.9 C288.7,337.2 290.0,338.9 290.2,340.0 C290.4,341.1 289.6,343.0 288.7,343.5 C287.8,344.0 285.5,343.9 284.8,343.0 C284.0,342.1 283.8,339.1 284.3,338.1 Z" stroke="#2f2f2f" stroke-width="1.08" fill="#777" />
<path d="M305.4,372.3 C307.1,371.4 310.7,371.3 312.3,371.8 C313.9,372.3 314.9,373.7 315.2,375.3 C315.6,376.9 315.2,379.6 314.3,381.2 C313.3,382.8 311.0,384.0 309.3,385.1 C307.7,386.3 305.9,387.6 304.4,388.1 C302.9,388.6 301.2,388.9 300.5,388.1 C299.7,387.3 299.7,385.0 300.0,383.2 C300.2,381.4 301.0,379.1 301.9,377.3 C302.9,375.5 303.7,373.2 305.4,372.3 Z" stroke="#2f2f2f" stroke-width="1.32" fill="none" />
<path d="M303.2,377.3 C303.1,376.6 304.5,374.3 305.9,373.5 C307.3,372.8 310.4,372.5 311.8,372.8 C313.2,373.1 314.5,374.7 314.5,375.3 C314.4,375.9 312.7,376.1 311.3,376.5 C310.0,376.8 307.7,377.1 306.4,377.3 C305.0,377.4 303.3,377.9 303.2,377.3 Z" stroke="#2f2f2f" stroke-width="0.96" fill="#333" />
<path d="M302.9,379.7 C303.8,379.6 306.5,379.6 308.4,379.2 C310.2,378.8 312.9,377.6 313.8,377.3" stroke="#2f2f2f" stroke-width="1.08" fill="none" />
<path d="M323.1,361.5 C323.6,359.6 325.1,360.0 327.1,361.0 C329.0,362.0 333.3,365.2 335.0,367.4 C336.6,369.6 336.9,372.0 336.9,374.3 C336.9,376.6 336.3,380.4 335.0,381.2 C333.6,382.0 330.8,380.7 329.0,379.2 C327.2,377.8 325.1,375.3 324.1,372.3 C323.1,369.4 322.6,363.4 323.1,361.5 Z" stroke="#2f2f2f" stroke-width="1.32" fill="none" />
<path d="M325.9,362.5 C326.3,362.8 327.2,363.2 328.6,364.5 C329.9,365.7 333.1,367.4 334.2,369.9 C335.2,372.3 334.8,377.7 335.0,379.2" stroke="#2f2f2f" stroke-width="0.96" fill="none" />
<path d="M308.4,388.1 L311.3,393.0 L316.2,387.6" stroke="#2f2f2f" stroke-width="1.08" fill="none" />
<ellipse cx="307.4" cy="406.8" rx="2.5" ry="3.9" stroke="#2f2f2f" stroke-width="1.44" fill="none" transform="rotate(25 307.4 406.8)"/>
<path d="M301.5,410.8 C300.6,409.0 301.8,406.0 303.4,402.9 C305.1,399.8 309.2,394.4 311.3,392.0 C313.4,389.7 315.0,388.3 316.2,388.6 C317.5,388.9 318.2,390.5 318.7,394.0 C319.2,397.5 319.6,406.4 319.2,409.8 C318.8,413.1 318.0,413.6 316.2,414.2 C314.4,414.8 310.8,413.8 308.4,413.2 C305.9,412.6 302.3,412.5 301.5,410.8 Z" stroke="#2f2f2f" stroke-width="1.2" fill="none" />
<path d="M301.5,409.8 C301.0,410.9 299.1,413.9 298.5,416.7 C297.9,419.5 297.8,424.9 297.7,426.5" stroke="#2f2f2f" stroke-width="1.08" fill="none" />
<ellipse cx="331.5" cy="390.1" rx="2.0" ry="2.8" stroke="#2f2f2f" stroke-width="1.32" fill="none" transform="rotate(-10 331.5 390.1)"/>
<ellipse cx="331.5" cy="398.1" rx="2.0" ry="2.8" stroke="#2f2f2f" stroke-width="1.32" fill="none" transform="rotate(-10 331.5 398.1)"/>
<path d="M338.1,387.1 C338.4,385.6 339.6,385.6 339.9,387.1 C340.2,388.6 340.4,394.5 340.1,396.0 C339.8,397.5 338.4,397.5 338.1,396.0 C337.8,394.5 337.8,388.6 338.1,387.1 Z" stroke="#2f2f2f" stroke-width="1.2" fill="none" />
<path d="M339.1,388.1 L339.2,395.0" stroke="#2f2f2f" stroke-width="0.84" fill="none" />
<path d="M336.4,397.5 C336.9,396.3 339.3,396.1 339.9,397.0 C340.5,397.9 340.4,401.7 339.9,402.9 C339.4,404.0 337.5,404.8 336.9,403.9 C336.3,403.0 335.9,398.6 336.4,397.5 Z" stroke="#2f2f2f" stroke-width="1.32" fill="none" />
<path d="M333.5,405.8 L340.9,403.4 L341.4,419.1 L333.5,405.8" stroke="#2f2f2f" stroke-width="1.32" fill="none" />
<path d="M335.9,406.8 L339.9,412.7" stroke="#2f2f2f" stroke-width="0.84" fill="none" />
<path d="M296.5,362.5 C296.4,364.1 295.5,368.9 295.5,372.3 C295.5,375.8 296.2,380.1 296.5,383.2 C296.9,386.3 296.9,386.6 297.7,391.1 C298.5,395.5 300.8,406.7 301.5,409.8" stroke="#2f2f2f" stroke-width="1.2" fill="none" />
<path d="M298.3,362.0 C298.1,363.7 297.3,368.8 297.3,372.3 C297.3,375.9 297.9,380.1 298.3,383.2 C298.7,386.3 298.8,387.1 299.5,391.1 C300.2,395.0 302.1,404.2 302.6,406.8" stroke="#2f2f2f" stroke-width="0.96" fill="none" />
<path d="M318.2,357.6 C318.7,358.0 320.8,358.5 321.2,360.5 C321.5,362.5 319.8,365.9 320.2,369.4 C320.5,372.8 322.2,378.2 323.1,381.2 C324.0,384.2 325.3,383.5 325.6,387.1 C325.9,390.7 325.8,399.4 325.1,402.9 C324.4,406.3 322.1,406.7 321.2,407.8 C320.2,409.0 319.5,409.4 319.2,409.8" stroke="#2f2f2f" stroke-width="1.08" fill="none" />
<path d="M281.3,365.4 L296.0,371.8" stroke="#2f2f2f" stroke-width="1.08" fill="none" />
<path d="M286.2,391.1 C286.7,390.0 288.6,389.5 289.6,389.9 C290.6,390.2 291.9,391.9 292.1,393.0 C292.3,394.1 291.5,396.0 290.6,396.5 C289.7,397.0 287.4,396.9 286.7,396.0 C285.9,395.1 285.7,392.1 286.2,391.1 Z" stroke="#2f2f2f" stroke-width="1.08" fill="#777" />
<path d="M307.3,425.3 C309.0,424.4 312.6,424.3 314.2,424.8 C315.8,425.3 316.8,426.7 317.1,428.3 C317.5,429.9 317.1,432.6 316.2,434.2 C315.2,435.8 312.9,437.0 311.2,438.1 C309.6,439.3 307.8,440.6 306.3,441.1 C304.8,441.6 303.1,441.9 302.4,441.1 C301.6,440.3 301.6,438.0 301.9,436.2 C302.1,434.4 302.9,432.1 303.8,430.3 C304.8,428.5 305.6,426.2 307.3,425.3 Z" stroke="#2f2f2f" stroke-width="1.32" fill="none" />
<path d="M305.1,430.3 C305.0,429.6 306.4,427.3 307.8,426.5 C309.2,425.8 312.3,425.5 313.7,425.8 C315.1,426.1 316.4,427.7 316.4,428.3 C316.3,428.9 314.6,429.1 313.2,429.5 C311.9,429.8 309.6,430.1 308.3,430.3 C306.9,430.4 305.2,430.9 305.1,430.3 Z" stroke="#2f2f2f" stroke-width="0.96" fill="#333" />
<path d="M304.8,432.7 C305.7,432.6 308.4,432.6 310.3,432.2 C312.1,431.8 314.8,430.6 315.7,430.3" stroke="#2f2f2f" stroke-width="1.08" fill="none" />
<path d="M325.0,414.5 C325.5,412.6 327.0,413.0 329.0,414.0 C330.9,415.0 335.2,418.2 336.9,420.4 C338.5,422.6 338.8,425.0 338.8,427.3 C338.8,429.6 338.2,433.4 336.9,434.2 C335.5,435.0 332.7,433.7 330.9,432.2 C329.1,430.8 327.0,428.3 326.0,425.3 C325.0,422.4 324.5,416.4 325.0,414.5 Z" stroke="#2f2f2f" stroke-width="1.32" fill="none" />
<path d="M327.8,415.5 C328.2,415.8 329.1,416.2 330.5,417.5 C331.8,418.7 335.0,420.4 336.1,422.9 C337.1,425.3 336.7,430.7 336.9,432.2" stroke="#2f2f2f" stroke-width="0.96" fill="none" />
<path d="M310.3,441.1 L313.2,446.0 L318.1,440.6" stroke="#2f2f2f" stroke-width="1.08" fill="none" />
<ellipse cx="333.4" cy="443.1" rx="2.0" ry="2.8" stroke="#2f2f2f" stroke-width="1.32" fill="none" transform="rotate(-10 333.4 443.1)"/>
<ellipse cx="333.4" cy="451.1" rx="2.0" ry="2.8" stroke="#2f2f2f" stroke-width="1.32" fill="none" transform="rotate(-10 333.4 451.1)"/>
<path d="M340.0,440.1 C340.3,438.6 341.5,438.6 341.8,440.1 C342.1,441.6 342.3,447.5 342.0,449.0 C341.7,450.5 340.3,450.5 340.0,449.0 C339.7,447.5 339.7,441.6 340.0,440.1 Z" stroke="#2f2f2f" stroke-width="1.2" fill="none" />
<path d="M341.0,441.1 L341.1,448.0" stroke="#2f2f2f" stroke-width="0.84" fill="none" />
<path d="M338.3,450.5 C338.8,449.3 341.2,449.1 341.8,450.0 C342.4,450.9 342.3,454.7 341.8,455.9 C341.3,457.0 339.4,457.8 338.8,456.9 C338.2,456.0 337.8,451.6 338.3,450.5 Z" stroke="#2f2f2f" stroke-width="1.32" fill="none" />
<path d="M335.4,458.8 L342.8,456.4 L343.3,472.1 L335.4,458.8" stroke="#2f2f2f" stroke-width="1.32" fill="none" />
<path d="M337.8,459.8 L341.8,465.7" stroke="#2f2f2f" stroke-width="0.84" fill="none" />
<path d="M298.4,415.5 C298.3,417.1 297.4,421.9 297.4,425.3 C297.4,428.8 298.1,433.1 298.4,436.2 C298.8,439.3 298.8,439.6 299.6,444.1 C300.4,448.5 302.7,459.7 303.4,462.8" stroke="#2f2f2f" stroke-width="1.2" fill="none" />
<path d="M300.2,415.0 C300.0,416.7 299.2,421.8 299.2,425.3 C299.2,428.9 299.8,433.1 300.2,436.2 C300.6,439.3 300.7,440.1 301.4,444.1 C302.1,448.0 304.0,457.2 304.5,459.8" stroke="#2f2f2f" stroke-width="0.96" fill="none" />
<path d="M320.1,410.6 C320.6,411.0 322.7,411.5 323.1,413.5 C323.4,415.5 321.7,418.9 322.1,422.4 C322.4,425.8 324.1,431.2 325.0,434.2 C325.9,437.2 327.2,436.5 327.5,440.1 C327.8,443.7 327.7,452.4 327.0,455.9 C326.3,459.3 324.0,459.7 323.1,460.8 C322.1,462.0 321.4,462.4 321.1,462.8" stroke="#2f2f2f" stroke-width="1.08" fill="none" />
<path d="M283.2,418.4 L297.9,424.8" stroke="#2f2f2f" stroke-width="1.08" fill="none" />
<path d="M288.1,444.1 C288.6,443.0 290.5,442.5 291.5,442.9 C292.5,443.2 293.8,444.9 294.0,446.0 C294.2,447.1 293.4,449.0 292.5,449.5 C291.6,450.0 289.3,449.9 288.6,449.0 C287.8,448.1 287.6,445.1 288.1,444.1 Z" stroke="#2f2f2f" stroke-width="1.08" fill="#777" />
<path d="M345.5,257.5 C347.5,258.1 355.3,260.3 357.8,261.4 C360.3,262.6 360.1,263.9 360.6,264.4" stroke="#2f2f2f" stroke-width="1.2" fill="none" />
<path d="M345.5,257.5 C345.2,258.5 343.7,261.4 343.8,263.4 C343.9,265.3 343.4,267.6 346.0,269.3 C348.6,270.9 357.1,272.6 359.3,273.2" stroke="#2f2f2f" stroke-width="1.2" fill="none" />
<ellipse cx="361.0" cy="268.3" rx="2.6" ry="6.3" stroke="#2f2f2f" stroke-width="2.0" fill="none" transform="rotate(10 361.0 268.3)"/>
<ellipse cx="361.4" cy="268.3" rx="1.4" ry="4.7" stroke="#2f2f2f" stroke-width="0.96" fill="none" transform="rotate(10 361.4 268.3)"/>
<path d="M341.1,245.6 C341.9,246.1 345.0,247.1 346.0,248.6 C347.0,250.1 347.3,252.7 347.0,254.5 C346.6,256.3 344.5,257.1 344.0,259.4 C343.5,261.7 343.8,265.3 343.8,268.3 C343.8,271.3 343.7,274.7 344.0,277.2 C344.4,279.6 346.0,281.4 346.0,283.1 C346.0,284.7 344.3,285.4 344.0,287.0 C343.7,288.7 344.0,291.0 344.2,292.9 C344.4,294.9 344.9,297.9 345.0,298.8" stroke="#2f2f2f" stroke-width="1.2" fill="none" />
<ellipse cx="342.0" cy="253.5" rx="1.0" ry="1.8" stroke="#2f2f2f" stroke-width="0.96" fill="#444" transform="rotate(15 342.0 253.5)"/>
<path d="M356.7,241.2 L364.6,244.3 L395.2,260.1 L411.4,269.9" stroke="#2f2f2f" stroke-width="1.32" fill="none" />
<path d="M362.9,244.3 L409.0,270.9" stroke="#2f2f2f" stroke-width="1.2" fill="none" />
<path d="M365.8,249.0 L401.3,268.7" stroke="#2f2f2f" stroke-width="1.92" fill="none" />
<path d="M364.6,253.0 L398.1,271.7" stroke="#2f2f2f" stroke-width="1.2" fill="none" />
<path d="M363.6,257.4 L396.2,274.2" stroke="#2f2f2f" stroke-width="1.2" fill="none" />
<path d="M397.2,265.3 L403.1,272.7" stroke="#2f2f2f" stroke-width="1.08" fill="none" />
<path d="M395.2,268.3 L397.2,265.3 L401.2,263.9 L407.1,268.3" stroke="#2f2f2f" stroke-width="1.08" fill="none" />
<path d="M404.1,267.8 L411.7,270.6 L411.9,276.1 L404.3,282.3 L402.7,279.5 L403.3,270.8 Z" stroke="#2f2f2f" stroke-width="1.44" fill="none" />
<ellipse cx="408.2" cy="275.5" rx="1.4" ry="2.4" stroke="#2f2f2f" stroke-width="1.2" fill="#444" transform="rotate(15 408.2 275.5)"/>
<path d="M403.3,272.7 C402.1,272.7 398.1,271.8 396.2,272.2 C394.4,272.7 392.9,273.9 392.1,275.2 C391.3,276.5 390.8,278.9 391.3,280.1 C391.8,281.3 393.2,282.1 395.2,282.3 C397.2,282.5 402.0,281.5 403.3,281.3" stroke="#2f2f2f" stroke-width="1.32" fill="none" />
<path d="M397.2,281.9 C397.0,281.3 395.9,279.2 396.2,278.2 C396.6,277.1 398.0,276.1 399.2,275.7 C400.4,275.3 402.9,275.7 403.6,275.7" stroke="#2f2f2f" stroke-width="0.96" fill="none" />
<ellipse cx="388.8" cy="288.0" rx="3.0" ry="4.1" stroke="#2f2f2f" stroke-width="1.2" fill="none" transform="rotate(25 388.8 288.0)"/>
<ellipse cx="388.8" cy="288.2" rx="1.9" ry="3.0" stroke="#2f2f2f" stroke-width="0.96" fill="#444" transform="rotate(25 388.8 288.2)"/>
<path d="M384.4,292.1 L362.7,283.6" stroke="#2f2f2f" stroke-width="1.2" fill="none" />
<path d="M391.3,281.1 L391.8,285.1" stroke="#2f2f2f" stroke-width="1.08" fill="none" />
<path d="M392.9,285.1 C392.9,287.0 392.6,294.0 393.3,296.9 C393.9,299.8 396.2,300.7 396.7,302.3 C397.2,303.9 396.3,306.0 396.2,306.7" stroke="#2f2f2f" stroke-width="1.08" fill="none" />
<path d="M389.8,292.1 L390.3,304.8" stroke="#2f2f2f" stroke-width="1.08" fill="none" />
<path d="M362.7,256.5 C363.4,255.3 363.9,256.8 366.7,258.3 C369.5,259.7 376.6,263.3 379.5,265.3 C382.4,267.4 383.6,268.6 384.2,270.3 C384.9,271.9 384.2,274.2 383.4,275.2 C382.6,276.2 382.4,277.1 379.5,276.2 C376.5,275.2 368.5,271.3 365.7,269.5 C362.9,267.7 363.2,267.5 362.7,265.3 C362.2,263.2 362.1,257.7 362.7,256.5 Z" stroke="#2f2f2f" stroke-width="1.32" fill="none" />
<path d="M364.2,258.0 C366.6,259.4 375.5,264.2 378.5,266.3 C381.4,268.5 381.4,269.4 381.9,270.8 C382.4,272.2 381.5,274.1 381.4,274.7" stroke="#2f2f2f" stroke-width="0.96" fill="none" />
<path d="M366.2,269.5 L374.1,265.3" stroke="#2f2f2f" stroke-width="0.96" fill="none" />
<path d="M361.7,250.6 L362.7,256.5" stroke="#2f2f2f" stroke-width="1.08" fill="none" />
<path d="M361.3,275.7 L361.7,282.1" stroke="#2f2f2f" stroke-width="1.08" fill="none" />
<path d="M347.4,310.5 C349.4,311.1 357.2,313.3 359.7,314.4 C362.2,315.6 362.0,316.9 362.5,317.4" stroke="#2f2f2f" stroke-width="1.2" fill="none" />
<path d="M347.4,310.5 C347.1,311.5 345.6,314.4 345.7,316.4 C345.8,318.3 345.3,320.6 347.9,322.3 C350.5,323.9 359.0,325.6 361.2,326.2" stroke="#2f2f2f" stroke-width="1.2" fill="none" />
<ellipse cx="362.9" cy="321.3" rx="2.6" ry="6.3" stroke="#2f2f2f" stroke-width="2.0" fill="none" transform="rotate(10 362.9 321.3)"/>
<ellipse cx="363.3" cy="321.3" rx="1.4" ry="4.7" stroke="#2f2f2f" stroke-width="0.96" fill="none" transform="rotate(10 363.3 321.3)"/>
<path d="M346.1,283.9 C348.2,284.1 356.2,284.4 358.7,285.0 C361.2,285.7 360.8,287.3 361.2,287.8" stroke="#2f2f2f" stroke-width="1.2" fill="none" />
<path d="M346.1,283.9 C345.8,284.9 344.3,287.8 344.4,289.8 C344.6,291.7 344.4,294.0 346.9,295.7 C349.4,297.3 357.6,299.0 359.7,299.6" stroke="#2f2f2f" stroke-width="1.2" fill="none" />
<ellipse cx="361.4" cy="293.7" rx="2.6" ry="6.1" stroke="#2f2f2f" stroke-width="2.0" fill="none" transform="rotate(10 361.4 293.7)"/>
<ellipse cx="361.8" cy="293.7" rx="1.3" ry="4.5" stroke="#2f2f2f" stroke-width="0.96" fill="none" transform="rotate(10 361.8 293.7)"/>
<path d="M343.0,298.6 C343.8,299.1 346.9,300.1 347.9,301.6 C348.9,303.1 349.2,305.7 348.9,307.5 C348.5,309.3 346.4,310.1 345.9,312.4 C345.4,314.7 345.7,318.3 345.7,321.3 C345.7,324.3 345.6,327.7 345.9,330.2 C346.3,332.6 347.9,334.4 347.9,336.1 C347.9,337.7 346.2,338.4 345.9,340.0 C345.6,341.7 345.9,344.0 346.1,345.9 C346.3,347.9 346.8,350.9 346.9,351.8" stroke="#2f2f2f" stroke-width="1.2" fill="none" />
<ellipse cx="343.9" cy="306.5" rx="1.0" ry="1.8" stroke="#2f2f2f" stroke-width="0.96" fill="#444" transform="rotate(15 343.9 306.5)"/>
<path d="M361.2,284.4 L413.4,322.3" stroke="#2f2f2f" stroke-width="1.32" fill="none" />
<path d="M364.6,287.8 L409.0,321.3" stroke="#2f2f2f" stroke-width="1.2" fill="none" />
<path d="M364.6,289.8 L403.1,316.9" stroke="#2f2f2f" stroke-width="1.92" fill="none" />
<path d="M365.1,294.7 L399.1,318.3" stroke="#2f2f2f" stroke-width="1.2" fill="none" />
<path d="M365.1,299.6 L397.1,321.3" stroke="#2f2f2f" stroke-width="1.2" fill="none" />
<path d="M364.6,297.2 L398.1,317.2" stroke="#2f2f2f" stroke-width="1.08" fill="none" />
<path d="M363.6,285.8 L408.0,318.3" stroke="#2f2f2f" stroke-width="1.08" fill="none" />
<path d="M369.6,291.7 C370.4,291.9 373.2,291.7 374.5,292.7 C375.8,293.7 376.6,295.9 377.4,297.7 C378.3,299.5 379.1,302.6 379.4,303.6" stroke="#2f2f2f" stroke-width="1.08" fill="none" />
<path d="M371.5,289.8 C372.4,290.1 375.6,290.5 376.9,291.7 C378.3,293.0 379.2,295.4 379.9,297.2 C380.6,299.0 381.1,301.7 381.4,302.6" stroke="#2f2f2f" stroke-width="1.08" fill="none" />
<path d="M399.1,318.3 L405.0,325.7" stroke="#2f2f2f" stroke-width="1.08" fill="none" />
<path d="M397.1,321.3 L399.1,318.3 L403.1,316.9 L409.0,321.3" stroke="#2f2f2f" stroke-width="1.08" fill="none" />
<path d="M406.0,320.8 L413.6,323.6 L413.8,329.1 L406.2,335.3 L404.6,332.5 L405.2,323.8 Z" stroke="#2f2f2f" stroke-width="1.44" fill="none" />
<ellipse cx="410.1" cy="328.5" rx="1.4" ry="2.4" stroke="#2f2f2f" stroke-width="1.2" fill="#444" transform="rotate(15 410.1 328.5)"/>
<path d="M405.2,325.7 C404.0,325.7 400.0,324.8 398.1,325.2 C396.3,325.7 394.8,326.9 394.0,328.2 C393.2,329.5 392.7,331.9 393.2,333.1 C393.7,334.3 395.1,335.1 397.1,335.3 C399.1,335.5 403.9,334.5 405.2,334.3" stroke="#2f2f2f" stroke-width="1.32" fill="none" />
<path d="M399.1,334.9 C398.9,334.3 397.8,332.2 398.1,331.2 C398.5,330.1 399.9,329.1 401.1,328.7 C402.3,328.3 404.8,328.7 405.5,328.7" stroke="#2f2f2f" stroke-width="0.96" fill="none" />
<ellipse cx="390.7" cy="341.0" rx="3.0" ry="4.1" stroke="#2f2f2f" stroke-width="1.2" fill="none" transform="rotate(25 390.7 341.0)"/>
<ellipse cx="390.7" cy="341.2" rx="1.9" ry="3.0" stroke="#2f2f2f" stroke-width="0.96" fill="#444" transform="rotate(25 390.7 341.2)"/>
<path d="M386.3,345.1 L364.6,336.6" stroke="#2f2f2f" stroke-width="1.2" fill="none" />
<path d="M393.2,334.1 L393.7,338.1" stroke="#2f2f2f" stroke-width="1.08" fill="none" />
<path d="M394.8,338.1 C394.8,340.0 394.5,347.0 395.2,349.9 C395.8,352.8 398.1,353.7 398.6,355.3 C399.1,356.9 398.2,359.0 398.1,359.7" stroke="#2f2f2f" stroke-width="1.08" fill="none" />
<path d="M391.7,345.1 L392.2,357.8" stroke="#2f2f2f" stroke-width="1.08" fill="none" />
<path d="M364.6,309.5 C365.3,308.3 365.8,309.8 368.6,311.3 C371.4,312.7 378.5,316.3 381.4,318.3 C384.3,320.4 385.5,321.6 386.1,323.3 C386.8,324.9 386.1,327.2 385.3,328.2 C384.5,329.2 384.3,330.1 381.4,329.2 C378.4,328.2 370.4,324.3 367.6,322.5 C364.8,320.7 365.1,320.5 364.6,318.3 C364.1,316.2 364.0,310.7 364.6,309.5 Z" stroke="#2f2f2f" stroke-width="1.32" fill="none" />
<path d="M366.1,311.0 C368.5,312.4 377.4,317.2 380.4,319.3 C383.3,321.5 383.3,322.4 383.8,323.8 C384.3,325.2 383.4,327.1 383.3,327.7" stroke="#2f2f2f" stroke-width="0.96" fill="none" />
<path d="M368.1,322.5 L376.0,318.3" stroke="#2f2f2f" stroke-width="0.96" fill="none" />
<path d="M363.6,303.6 L364.6,309.5" stroke="#2f2f2f" stroke-width="1.08" fill="none" />
<path d="M363.2,328.7 L363.6,335.1" stroke="#2f2f2f" stroke-width="1.08" fill="none" />
<path d="M349.3,363.5 C351.3,364.1 359.1,366.3 361.6,367.4 C364.1,368.6 363.9,369.9 364.4,370.4" stroke="#2f2f2f" stroke-width="1.2" fill="none" />
<path d="M349.3,363.5 C349.0,364.5 347.5,367.4 347.6,369.4 C347.7,371.3 347.2,373.6 349.8,375.3 C352.4,376.9 360.9,378.6 363.1,379.2" stroke="#2f2f2f" stroke-width="1.2" fill="none" />
<ellipse cx="364.8" cy="374.3" rx="2.6" ry="6.3" stroke="#2f2f2f" stroke-width="2.0" fill="none" transform="rotate(10 364.8 374.3)"/>
<ellipse cx="365.2" cy="374.3" rx="1.4" ry="4.7" stroke="#2f2f2f" stroke-width="0.96" fill="none" transform="rotate(10 365.2 374.3)"/>
<path d="M348.0,336.9 C350.1,337.1 358.1,337.4 360.6,338.0 C363.1,338.7 362.7,340.3 363.1,340.8" stroke="#2f2f2f" stroke-width="1.2" fill="none" />
<path d="M348.0,336.9 C347.7,337.9 346.2,340.8 346.3,342.8 C346.5,344.7 346.3,347.0 348.8,348.7 C351.3,350.3 359.5,352.0 361.6,352.6" stroke="#2f2f2f" stroke-width="1.2" fill="none" />
<ellipse cx="363.3" cy="346.7" rx="2.6" ry="6.1" stroke="#2f2f2f" stroke-width="2.0" fill="none" transform="rotate(10 363.3 346.7)"/>
<ellipse cx="363.7" cy="346.7" rx="1.3" ry="4.5" stroke="#2f2f2f" stroke-width="0.96" fill="none" transform="rotate(10 363.7 346.7)"/>
<path d="M344.9,351.6 C345.7,352.1 348.8,353.1 349.8,354.6 C350.8,356.1 351.1,358.7 350.8,360.5 C350.4,362.3 348.3,363.1 347.8,365.4 C347.3,367.7 347.6,371.3 347.6,374.3 C347.6,377.3 347.5,380.7 347.8,383.2 C348.2,385.6 349.8,387.4 349.8,389.1 C349.8,390.7 348.1,391.4 347.8,393.0 C347.5,394.7 347.8,397.0 348.0,398.9 C348.2,400.9 348.7,403.9 348.8,404.8" stroke="#2f2f2f" stroke-width="1.2" fill="none" />
<ellipse cx="345.8" cy="359.5" rx="1.0" ry="1.8" stroke="#2f2f2f" stroke-width="0.96" fill="#444" transform="rotate(15 345.8 359.5)"/>
<path d="M363.1,337.4 L415.3,375.3" stroke="#2f2f2f" stroke-width="1.32" fill="none" />
<path d="M366.5,340.8 L410.9,374.3" stroke="#2f2f2f" stroke-width="1.2" fill="none" />
<path d="M366.5,342.8 L405.0,369.9" stroke="#2f2f2f" stroke-width="1.92" fill="none" />
<path d="M367.0,347.7 L401.0,371.3" stroke="#2f2f2f" stroke-width="1.2" fill="none" />
<path d="M367.0,352.6 L399.0,374.3" stroke="#2f2f2f" stroke-width="1.2" fill="none" />
<path d="M366.5,350.2 L400.0,370.2" stroke="#2f2f2f" stroke-width="1.08" fill="none" />
<path d="M365.5,338.8 L409.9,371.3" stroke="#2f2f2f" stroke-width="1.08" fill="none" />
<path d="M371.5,344.7 C372.3,344.9 375.1,344.7 376.4,345.7 C377.7,346.7 378.5,348.9 379.3,350.7 C380.2,352.5 381.0,355.6 381.3,356.6" stroke="#2f2f2f" stroke-width="1.08" fill="none" />
<path d="M373.4,342.8 C374.3,343.1 377.5,343.5 378.8,344.7 C380.2,346.0 381.1,348.4 381.8,350.2 C382.5,352.0 383.0,354.7 383.3,355.6" stroke="#2f2f2f" stroke-width="1.08" fill="none" />
<path d="M401.0,371.3 L406.9,378.7" stroke="#2f2f2f" stroke-width="1.08" fill="none" />
<path d="M399.0,374.3 L401.0,371.3 L405.0,369.9 L410.9,374.3" stroke="#2f2f2f" stroke-width="1.08" fill="none" />
<path d="M407.9,373.8 L415.5,376.6 L415.7,382.1 L408.1,388.3 L406.5,385.5 L407.1,376.8 Z" stroke="#2f2f2f" stroke-width="1.44" fill="none" />
<ellipse cx="412.0" cy="381.5" rx="1.4" ry="2.4" stroke="#2f2f2f" stroke-width="1.2" fill="#444" transform="rotate(15 412.0 381.5)"/>
<path d="M407.1,378.7 C405.9,378.7 401.9,377.8 400.0,378.2 C398.2,378.7 396.7,379.9 395.9,381.2 C395.1,382.5 394.6,384.9 395.1,386.1 C395.6,387.3 397.0,388.1 399.0,388.3 C401.0,388.5 405.8,387.5 407.1,387.3" stroke="#2f2f2f" stroke-width="1.32" fill="none" />
<path d="M401.0,387.9 C400.8,387.3 399.7,385.2 400.0,384.2 C400.4,383.1 401.8,382.1 403.0,381.7 C404.2,381.3 406.7,381.7 407.4,381.7" stroke="#2f2f2f" stroke-width="0.96" fill="none" />
<ellipse cx="392.6" cy="394.0" rx="3.0" ry="4.1" stroke="#2f2f2f" stroke-width="1.2" fill="none" transform="rotate(25 392.6 394.0)"/>
<ellipse cx="392.6" cy="394.2" rx="1.9" ry="3.0" stroke="#2f2f2f" stroke-width="0.96" fill="#444" transform="rotate(25 392.6 394.2)"/>
<path d="M388.2,398.1 L366.5,389.6" stroke="#2f2f2f" stroke-width="1.2" fill="none" />
<path d="M395.1,387.1 L395.6,391.1" stroke="#2f2f2f" stroke-width="1.08" fill="none" />
<path d="M396.7,391.1 C396.7,393.0 396.4,400.0 397.1,402.9 C397.7,405.8 400.0,406.7 400.5,408.3 C401.0,409.9 400.1,412.0 400.0,412.7" stroke="#2f2f2f" stroke-width="1.08" fill="none" />
<path d="M393.6,398.1 L394.1,410.8" stroke="#2f2f2f" stroke-width="1.08" fill="none" />
<path d="M366.5,362.5 C367.2,361.3 367.7,362.8 370.5,364.3 C373.3,365.7 380.4,369.3 383.3,371.3 C386.2,373.4 387.4,374.6 388.0,376.3 C388.7,377.9 388.0,380.2 387.2,381.2 C386.4,382.2 386.2,383.1 383.3,382.2 C380.3,381.2 372.3,377.3 369.5,375.5 C366.7,373.7 367.0,373.5 366.5,371.3 C366.0,369.2 365.9,363.7 366.5,362.5 Z" stroke="#2f2f2f" stroke-width="1.32" fill="none" />
<path d="M368.0,364.0 C370.4,365.4 379.3,370.2 382.3,372.3 C385.2,374.5 385.2,375.4 385.7,376.8 C386.2,378.2 385.3,380.1 385.2,380.7" stroke="#2f2f2f" stroke-width="0.96" fill="none" />
<path d="M370.0,375.5 L377.9,371.3" stroke="#2f2f2f" stroke-width="0.96" fill="none" />
<path d="M365.5,356.6 L366.5,362.5" stroke="#2f2f2f" stroke-width="1.08" fill="none" />
<path d="M365.1,381.7 L365.5,388.1" stroke="#2f2f2f" stroke-width="1.08" fill="none" />
<path d="M351.2,416.5 C353.2,417.1 361.0,419.3 363.5,420.4 C366.0,421.6 365.8,422.9 366.3,423.4" stroke="#2f2f2f" stroke-width="1.2" fill="none" />
<path d="M351.2,416.5 C350.9,417.5 349.4,420.4 349.5,422.4 C349.6,424.3 349.1,426.6 351.7,428.3 C354.3,429.9 362.8,431.6 365.0,432.2" stroke="#2f2f2f" stroke-width="1.2" fill="none" />
<ellipse cx="366.7" cy="427.3" rx="2.6" ry="6.3" stroke="#2f2f2f" stroke-width="2.0" fill="none" transform="rotate(10 366.7 427.3)"/>
<ellipse cx="367.1" cy="427.3" rx="1.4" ry="4.7" stroke="#2f2f2f" stroke-width="0.96" fill="none" transform="rotate(10 367.1 427.3)"/>
<path d="M349.9,389.9 C352.0,390.1 360.0,390.4 362.5,391.0 C365.0,391.7 364.6,393.3 365.0,393.8" stroke="#2f2f2f" stroke-width="1.2" fill="none" />
<path d="M349.9,389.9 C349.6,390.9 348.1,393.8 348.2,395.8 C348.4,397.7 348.2,400.0 350.7,401.7 C353.2,403.3 361.4,405.0 363.5,405.6" stroke="#2f2f2f" stroke-width="1.2" fill="none" />
<ellipse cx="365.2" cy="399.7" rx="2.6" ry="6.1" stroke="#2f2f2f" stroke-width="2.0" fill="none" transform="rotate(10 365.2 399.7)"/>
<ellipse cx="365.6" cy="399.7" rx="1.3" ry="4.5" stroke="#2f2f2f" stroke-width="0.96" fill="none" transform="rotate(10 365.6 399.7)"/>
<path d="M346.8,404.6 C347.6,405.1 350.7,406.1 351.7,407.6 C352.7,409.1 353.0,411.7 352.7,413.5 C352.3,415.3 350.2,416.1 349.7,418.4 C349.2,420.7 349.5,424.3 349.5,427.3 C349.5,430.3 349.4,433.7 349.7,436.2 C350.1,438.6 351.7,440.4 351.7,442.1 C351.7,443.7 350.0,444.4 349.7,446.0 C349.4,447.7 349.7,450.0 349.9,451.9 C350.1,453.9 350.6,456.9 350.7,457.8" stroke="#2f2f2f" stroke-width="1.2" fill="none" />
<ellipse cx="347.7" cy="412.5" rx="1.0" ry="1.8" stroke="#2f2f2f" stroke-width="0.96" fill="#444" transform="rotate(15 347.7 412.5)"/>
<path d="M365.0,390.4 L417.2,428.3" stroke="#2f2f2f" stroke-width="1.32" fill="none" />
<path d="M368.4,393.8 L412.8,427.3" stroke="#2f2f2f" stroke-width="1.2" fill="none" />
<path d="M368.4,395.8 L406.9,422.9" stroke="#2f2f2f" stroke-width="1.92" fill="none" />
<path d="M368.9,400.7 L402.9,424.3" stroke="#2f2f2f" stroke-width="1.2" fill="none" />
<path d="M368.9,405.6 L400.9,427.3" stroke="#2f2f2f" stroke-width="1.2" fill="none" />
<path d="M368.4,403.2 L401.9,423.2" stroke="#2f2f2f" stroke-width="1.08" fill="none" />
<path d="M367.4,391.8 L411.8,424.3" stroke="#2f2f2f" stroke-width="1.08" fill="none" />
<path d="M373.4,397.7 C374.2,397.9 377.0,397.7 378.3,398.7 C379.6,399.7 380.4,401.9 381.2,403.7 C382.1,405.5 382.9,408.6 383.2,409.6" stroke="#2f2f2f" stroke-width="1.08" fill="none" />
<path d="M375.3,395.8 C376.2,396.1 379.4,396.5 380.7,397.7 C382.1,399.0 383.0,401.4 383.7,403.2 C384.4,405.0 384.9,407.7 385.2,408.6" stroke="#2f2f2f" stroke-width="1.08" fill="none" />
<path d="M402.9,424.3 L408.8,431.7" stroke="#2f2f2f" stroke-width="1.08" fill="none" />
<path d="M400.9,427.3 L402.9,424.3 L406.9,422.9 L412.8,427.3" stroke="#2f2f2f" stroke-width="1.08" fill="none" />
<path d="M409.8,426.8 L417.4,429.6 L417.6,435.1 L410.0,441.3 L408.4,438.5 L409.0,429.8 Z" stroke="#2f2f2f" stroke-width="1.44" fill="none" />
<ellipse cx="413.9" cy="434.5" rx="1.4" ry="2.4" stroke="#2f2f2f" stroke-width="1.2" fill="#444" transform="rotate(15 413.9 434.5)"/>
<path d="M409.0,431.7 C407.8,431.7 403.8,430.8 401.9,431.2 C400.1,431.7 398.6,432.9 397.8,434.2 C397.0,435.5 396.5,437.9 397.0,439.1 C397.5,440.3 398.9,441.1 400.9,441.3 C402.9,441.5 407.7,440.5 409.0,440.3" stroke="#2f2f2f" stroke-width="1.32" fill="none" />
<path d="M402.9,440.9 C402.7,440.3 401.6,438.2 401.9,437.2 C402.3,436.1 403.7,435.1 404.9,434.7 C406.1,434.3 408.6,434.7 409.3,434.7" stroke="#2f2f2f" stroke-width="0.96" fill="none" />
<ellipse cx="394.5" cy="447.0" rx="3.0" ry="4.1" stroke="#2f2f2f" stroke-width="1.2" fill="none" transform="rotate(25 394.5 447.0)"/>
<ellipse cx="394.5" cy="447.2" rx="1.9" ry="3.0" stroke="#2f2f2f" stroke-width="0.96" fill="#444" transform="rotate(25 394.5 447.2)"/>
<path d="M390.1,451.1 L368.4,442.6" stroke="#2f2f2f" stroke-width="1.2" fill="none" />
<path d="M397.0,440.1 L397.5,444.1" stroke="#2f2f2f" stroke-width="1.08" fill="none" />
<path d="M398.6,444.1 C398.6,446.0 398.3,453.0 399.0,455.9 C399.6,458.8 401.9,459.7 402.4,461.3 C402.9,462.9 402.0,465.0 401.9,465.7" stroke="#2f2f2f" stroke-width="1.08" fill="none" />
<path d="M395.5,451.1 L396.0,463.8" stroke="#2f2f2f" stroke-width="1.08" fill="none" />
<path d="M368.4,415.5 C369.1,414.3 369.6,415.8 372.4,417.3 C375.2,418.7 382.3,422.3 385.2,424.3 C388.1,426.4 389.3,427.6 389.9,429.3 C390.6,430.9 389.9,433.2 389.1,434.2 C388.3,435.2 388.1,436.1 385.2,435.2 C382.2,434.2 374.2,430.3 371.4,428.5 C368.6,426.7 368.9,426.5 368.4,424.3 C367.9,422.2 367.8,416.7 368.4,415.5 Z" stroke="#2f2f2f" stroke-width="1.32" fill="none" />
<path d="M369.9,417.0 C372.3,418.4 381.2,423.2 384.2,425.3 C387.1,427.5 387.1,428.4 387.6,429.8 C388.1,431.2 387.2,433.1 387.1,433.7" stroke="#2f2f2f" stroke-width="0.96" fill="none" />
<path d="M371.9,428.5 L379.8,424.3" stroke="#2f2f2f" stroke-width="0.96" fill="none" />
<path d="M367.4,409.6 L368.4,415.5" stroke="#2f2f2f" stroke-width="1.08" fill="none" />
<path d="M367.0,434.7 L367.4,441.1" stroke="#2f2f2f" stroke-width="1.08" fill="none" />
<path d="M338.0,240.2 L339.0,284.5" stroke="#2f2f2f" stroke-width="1.32" fill="none" />
<path d="M339.3,284.9 L342.9,375.0" stroke="#2f2f2f" stroke-width="1.32" fill="none" />
<path d="M343.1,380.6 L347.0,420.0 L348.8,464.3" stroke="#2f2f2f" stroke-width="1.32" fill="none" />
<path d="M341.1,243.1 L342.1,284.5" stroke="#2f2f2f" stroke-width="1.32" fill="none" />
<path d="M342.3,284.9 L345.9,375.0" stroke="#2f2f2f" stroke-width="1.32" fill="none" />
<path d="M346.1,380.6 L349.8,420.0 L350.6,459.4" stroke="#2f2f2f" stroke-width="1.32" fill="none" />
<path d="M277.7,284.5 C277.5,278.1 276.5,253.1 276.4,246.1 C276.3,239.0 276.4,243.6 276.9,242.1 C277.4,240.7 278.3,238.7 279.4,237.2 C280.4,235.7 282.6,233.8 283.3,233.1" stroke="#2f2f2f" stroke-width="1.44" fill="none" />
<path d="M283.3,233.1 L298.6,221.5 L321.2,203.7 L325.2,199.8" stroke="#2f2f2f" stroke-width="1.44" fill="none" />
<path d="M278.3,275.0 L279.4,312.4 L280.8,334.1 L282.0,352.8 L278.7,360.5" stroke="#2f2f2f" stroke-width="1.32" fill="none" />
<path d="M276.9,244.6 C277.6,244.5 279.8,243.8 280.8,244.1 C281.9,244.4 282.8,244.6 283.3,246.6 C283.8,248.5 284.8,254.5 283.8,255.9 C282.8,257.4 278.2,255.5 277.1,255.4" stroke="#2f2f2f" stroke-width="1.2" fill="none" />
<path d="M279.4,246.3 L279.9,255.4" stroke="#2f2f2f" stroke-width="0.96" fill="none" />
<path d="M281.0,246.6 L281.5,255.5" stroke="#2f2f2f" stroke-width="0.96" fill="none" />
<path d="M283.8,248.1 C284.8,248.4 288.1,248.9 289.7,250.2 C291.3,251.6 293.0,255.1 293.6,256.1" stroke="#2f2f2f" stroke-width="1.2" fill="none" />
<path d="M293.6,256.1 L292.9,283.5" stroke="#2f2f2f" stroke-width="1.2" fill="none" />
<path d="M292.2,257.4 L291.3,283.5" stroke="#2f2f2f" stroke-width="0.96" fill="none" />
<path d="M291.2,275.0 L292.7,294.7 L296.6,304.6 L294.6,309.5" stroke="#2f2f2f" stroke-width="1.2" fill="none" />
<path d="M292.9,275.0 L294.2,293.7 L298.1,303.6 L296.4,309.0" stroke="#2f2f2f" stroke-width="0.96" fill="none" />
<path d="M277.1,259.9 L292.2,266.8" stroke="#2f2f2f" stroke-width="1.08" fill="none" />
<path d="M279.4,280.4 L291.7,286.8" stroke="#2f2f2f" stroke-width="1.08" fill="none" />
<path d="M282.3,284.9 C282.8,283.8 284.8,283.3 285.8,283.7 C286.7,284.0 288.1,285.7 288.2,286.8 C288.4,287.9 287.7,289.8 286.7,290.3 C285.8,290.8 283.5,290.7 282.8,289.8 C282.1,288.9 281.8,285.9 282.3,284.9 Z" stroke="#2f2f2f" stroke-width="1.08" fill="#777" />
<path d="M278.4,360.7 C279.1,358.5 280.7,358.1 282.8,358.3 C284.9,358.4 289.5,360.6 291.2,361.7 C292.9,362.8 293.0,362.8 293.2,364.7 C293.3,366.5 293.6,371.1 292.2,372.5 C290.7,374.0 286.6,373.7 284.3,373.5 C282.0,373.4 279.4,373.7 278.4,371.6 C277.4,369.4 277.6,362.9 278.4,360.7 Z" stroke="#2f2f2f" stroke-width="1.32" fill="#fff" />
<path d="M282.8,361.7 C284.0,362.0 288.5,361.9 289.7,363.7 C290.9,365.4 290.1,370.6 290.2,372.0" stroke="#2f2f2f" stroke-width="1.08" fill="none" />
<path d="M282.8,361.7 L283.3,373.0" stroke="#2f2f2f" stroke-width="1.08" fill="none" />
<ellipse cx="301.0" cy="248.5" rx="2.5" ry="3.7" stroke="#2f2f2f" stroke-width="1.44" fill="none" transform="rotate(22 301.0 248.5)"/>
<path d="M295.1,256.1 C295.3,254.5 295.2,249.2 296.4,246.6 C297.6,243.9 300.3,241.7 302.5,240.4 C304.7,239.1 307.7,237.7 309.4,238.7 C311.1,239.6 311.9,243.2 312.6,246.1 C313.3,249.0 313.4,254.5 313.5,256.1" stroke="#2f2f2f" stroke-width="1.2" fill="none" />
<path d="M295.1,256.1 L313.5,256.1" stroke="#2f2f2f" stroke-width="1.08" fill="none" />
<path d="M320.3,214 C319.5,205 327,196.5 338,193.5 C350,191 362,195.5 367.5,203.5 C370.5,208.5 369.8,215 366,220.5" stroke="#2f2f2f" stroke-width="1.44" fill="none" />
<path d="M323.2,215.5 C322.5,207.5 329,199.8 339,197.2 C350,195 360.5,199 365,206 C367.5,210.5 366.8,216 363.5,220.5" stroke="#2f2f2f" stroke-width="1.2" fill="none" />
<path d="M326,213.5 C329,206 337,202.3 346,202.6 C355,203 362,207 364.2,212.5" stroke="#2f2f2f" stroke-width="2.4" fill="none" />
<path d="M329,215.5 C332,209 339,206 346.5,206.3 C354,206.8 359.5,210 361.5,214.5" stroke="#2f2f2f" stroke-width="1.2" fill="none" />
<path d="M361.5,214.5 C362,219 359,223 355,225.5" stroke="#2f2f2f" stroke-width="1.2" fill="none" />
<path d="M331.1,208.6 L353.7,219.7" stroke="#2f2f2f" stroke-width="1.2" fill="none" />
<path d="M334.0,213.6 L352.3,222.6" stroke="#2f2f2f" stroke-width="1.2" fill="none" />
<path d="M331.1,208.6 L330.1,212.6 L334.0,213.6" stroke="#2f2f2f" stroke-width="1.08" fill="none" />
<ellipse cx="348.8" cy="222.6" rx="3.2" ry="2.2" stroke="#2f2f2f" stroke-width="1.2" fill="none"/>
<ellipse cx="348.8" cy="222.6" rx="1.4" ry="1.0" stroke="#2f2f2f" stroke-width="0.96" fill="#555"/>
<path d="M345.7,223.4 L345.9,228.3" stroke="#2f2f2f" stroke-width="1.08" fill="none" />
<path d="M352.0,223.4 L352.3,228.3 L355.7,226.4" stroke="#2f2f2f" stroke-width="1.08" fill="none" />
<path d="M329.1,194.9 C329.8,194.8 331.9,195.0 333.1,194.4 C334.2,193.7 334.7,191.8 336.0,190.9 C337.3,190.0 339.3,189.2 340.9,189.1 C342.6,189.1 342.9,189.3 345.9,190.4 C348.8,191.5 356.5,194.9 358.7,195.8" stroke="#2f2f2f" stroke-width="1.32" fill="none" />
<ellipse cx="341.1" cy="192.9" rx="1.8" ry="1.2" stroke="#2f2f2f" stroke-width="1.2" fill="#777"/>
<path d="M321.2,216.5 C321.0,215.5 319.6,212.6 319.8,210.6 C319.9,208.6 320.7,207.3 322.2,204.7 C323.8,202.1 328.0,196.5 329.1,194.9" stroke="#2f2f2f" stroke-width="1.2" fill="none" />
<ellipse cx="303.0" cy="221.0" rx="4.9" ry="3.0" stroke="#2f2f2f" stroke-width="1.32" fill="none"/>
<path d="M298.2,221.7 C298.4,222.1 298.8,223.8 299.6,224.4 C300.4,225.0 301.8,225.2 303.0,225.2 C304.2,225.2 305.8,224.8 306.7,224.2 C307.5,223.6 307.7,222.1 307.9,221.7" stroke="#2f2f2f" stroke-width="1.08" fill="none" />
<ellipse cx="329.1" cy="220.0" rx="6.5" ry="3.9" stroke="#2f2f2f" stroke-width="1.56" fill="none"/>
<ellipse cx="329.1" cy="220.2" rx="4.7" ry="2.7" stroke="#2f2f2f" stroke-width="1.2" fill="none"/>
<path d="M322.8,221.3 C323.2,222.1 323.8,225.1 325.2,226.4 C326.6,227.6 329.1,228.8 331.1,228.8 C333.1,228.9 335.8,227.7 337.0,226.9 C338.2,226.1 338.0,225.0 338.2,223.9 C338.3,222.8 338.0,221.0 338.0,220.5" stroke="#2f2f2f" stroke-width="1.2" fill="none" />
<path d="M329.1,229.5 C329.8,230.3 331.4,234.0 333.1,234.3 C334.7,234.6 337.7,232.6 339.0,231.3 C340.3,230.0 340.6,227.2 340.9,226.4" stroke="#2f2f2f" stroke-width="1.08" fill="none" />
<path d="M312.4,219.0 C313.0,218.7 314.8,217.3 316.3,217.0 C317.8,216.8 320.4,217.4 321.2,217.5" stroke="#2f2f2f" stroke-width="1.92" fill="none" />
<ellipse cx="321.2" cy="234.3" rx="6.1" ry="9.1" stroke="#2f2f2f" stroke-width="1.44" fill="none" transform="rotate(-25 321.2 234.3)"/>
<path d="M318.3,238.2 L322.2,231.3 L325.2,236.2 L321.2,234.3 L326.2,232.3" stroke="#2f2f2f" stroke-width="1.56" fill="none" />
<path d="M312.4,224.9 C313.2,224.5 315.2,222.4 317.3,222.6 C319.4,222.9 322.5,224.1 325.2,226.4 C327.8,228.6 331.6,233.3 333.1,236.2 C334.5,239.2 333.9,242.8 334.0,244.1" stroke="#2f2f2f" stroke-width="1.2" fill="none" />
<path d="M308.9,236.2 C309.7,237.4 311.6,241.2 313.3,243.1 C315.1,245.1 317.3,247.1 319.3,248.1 C321.2,249.0 324.2,248.9 325.2,249.0" stroke="#2f2f2f" stroke-width="1.2" fill="none" />
<path d="M316.3,247.1 C317.0,246.4 319.8,244.9 321.2,245.1 C322.7,245.3 324.8,247.2 325.2,248.1 C325.5,248.9 324.5,249.9 323.2,250.0 C321.9,250.2 318.4,249.5 317.3,249.0 C316.1,248.5 315.6,247.7 316.3,247.1 Z" stroke="#2f2f2f" stroke-width="1.2" fill="#444" />
<ellipse cx="308.9" cy="230.3" rx="2.2" ry="2.2" stroke="#2f2f2f" stroke-width="1.2" fill="none"/>
<path d="M303.0,234.8 C303.4,234.3 304.9,233.8 305.5,234.1 C306.1,234.3 306.8,235.6 306.7,236.2 C306.5,236.8 305.3,237.6 304.7,237.7 C304.1,237.8 303.3,237.2 303.0,236.7 C302.7,236.2 302.6,235.2 303.0,234.8 Z" stroke="#2f2f2f" stroke-width="0.96" fill="#333" />
<ellipse cx="334.0" cy="239.2" rx="2.2" ry="2.6" stroke="#2f2f2f" stroke-width="1.2" fill="none"/>
<ellipse cx="332.6" cy="245.3" rx="1.6" ry="1.8" stroke="#2f2f2f" stroke-width="1.2" fill="none"/>
<ellipse cx="329.6" cy="250.0" rx="1.3" ry="1.6" stroke="#2f2f2f" stroke-width="1.2" fill="none"/>
<path d="M334.5,248.1 C334.9,246.2 336.0,246.2 336.2,248.1 C336.4,249.9 336.2,257.1 335.8,258.9 C335.4,260.7 334.1,260.7 333.8,258.9 C333.6,257.1 334.1,249.9 334.5,248.1 Z" stroke="#2f2f2f" stroke-width="1.68" fill="none" />
<ellipse cx="342.9" cy="244.1" rx="1.4" ry="2.4" stroke="#2f2f2f" stroke-width="1.2" fill="none" transform="rotate(15 342.9 244.1)"/>
<ellipse cx="345.9" cy="251.2" rx="2.0" ry="3.5" stroke="#2f2f2f" stroke-width="1.2" fill="none" transform="rotate(15 345.9 251.2)"/>
<path d="M309.4,238.7 L314.8,244.1 L316.3,254.0" stroke="#2f2f2f" stroke-width="1.08" fill="none" />
<path d="M306.0,228.7 C306.5,227.8 307.6,225.0 308.9,223.3 C310.3,221.7 312.5,219.8 314.3,218.9 C316.0,218.0 318.0,217.5 319.6,217.7 C321.2,218.0 322.2,219.1 323.7,220.4 C325.2,221.7 327.0,223.5 328.5,225.7 C329.9,227.9 331.2,231.0 332.6,233.4 C334.0,235.8 335.7,237.7 336.7,239.9 C337.8,242.1 338.6,244.3 339.1,246.4 C339.6,248.5 339.6,251.4 339.7,252.3" stroke="#2f2f2f" stroke-width="1.56" fill="none" />
<path d="M309.5,224.5 C310.4,223.9 313.2,221.6 314.9,221.0 C316.5,220.3 317.8,219.8 319.6,220.5 C321.4,221.2 323.7,223.1 325.5,225.1 C327.3,227.2 328.9,230.6 330.2,232.8 C331.6,235.0 333.2,237.2 333.8,238.1" stroke="#2f2f2f" stroke-width="1.08" fill="none" />
<path d="M310.1,236.4 C310.3,235.8 313.3,238.1 314.9,239.3 C316.4,240.5 317.8,242.1 319.6,243.5 C321.4,244.8 324.6,246.1 325.5,247.3 C326.4,248.5 326.2,250.4 324.9,250.6 C323.6,250.7 319.7,249.5 317.8,248.2 C315.9,246.9 315.0,244.8 313.7,242.9 C312.4,240.9 309.9,237.0 310.1,236.4 Z" stroke="#2f2f2f" stroke-width="1.08" fill="#4a4a4a" />
<path d="M319.0,235.8 C319.2,234.8 321.3,233.2 322.0,233.4 C322.6,233.6 322.3,236.5 323.1,237.0 C323.9,237.4 326.3,235.9 326.7,236.4 C327.1,236.9 326.5,239.4 325.5,239.9 C324.5,240.4 321.9,240.0 320.8,239.3 C319.7,238.6 318.8,236.8 319.0,235.8 Z" stroke="#2f2f2f" stroke-width="0.96" fill="#3a3a3a" />
<path d="M308.3,235.8 C309.0,236.6 311.1,239.1 312.5,240.5 C313.9,241.9 315.9,243.5 316.6,244.1" stroke="#2f2f2f" stroke-width="1.2" fill="none" />
<path d="M323.4,221.0 C323.7,221.6 323.8,223.6 324.9,224.5 C326.0,225.4 328.3,226.4 330.2,226.4 C332.2,226.4 335.3,225.7 336.7,224.6 C338.1,223.6 338.3,220.8 338.6,220.1" stroke="#2f2f2f" stroke-width="1.32" fill="none" />
<path d="M331.4,227.0 C331.9,227.7 332.8,230.7 334.1,231.0 C335.4,231.3 338.1,229.8 339.1,228.8 C340.2,227.8 340.2,225.5 340.4,224.8" stroke="#2f2f2f" stroke-width="1.2" fill="none" />
<path d="M312.5,217.7 C313.0,217.5 314.3,216.4 315.4,216.2 C316.6,216.0 318.5,216.2 319.6,216.5 C320.7,216.9 321.6,218.0 322.0,218.3" stroke="#2f2f2f" stroke-width="2.2" fill="none" />
<path d="M295.9,252.3 C296.2,251.2 296.4,247.3 297.7,245.2 C299.0,243.2 301.6,241.0 303.6,239.9 C305.6,238.8 308.5,238.9 309.5,238.7" stroke="#2f2f2f" stroke-width="1.32" fill="none" />
<path d="M338.5,246.4 C339.0,245.4 340.1,241.9 341.5,240.5 C342.9,239.1 345.4,238.4 346.8,238.1 C348.2,237.9 349.5,238.9 350.1,239.0" stroke="#2f2f2f" stroke-width="1.32" fill="none" />
<path d="M343.6,247.6 C344.0,247.4 345.0,249.5 345.0,250.6 C345.0,251.6 344.0,253.9 343.6,254.1 C343.1,254.3 342.1,252.8 342.1,251.7 C342.1,250.7 343.1,247.8 343.6,247.6 Z" stroke="#2f2f2f" stroke-width="1.2" fill="none" />
<ellipse cx="343.3" cy="244.1" rx="1.5" ry="2.2" stroke="#2f2f2f" stroke-width="1.32" fill="none" transform="rotate(20 343.3 244.1)"/>
<path d="M342.0,242.1 L385.3,210.8" stroke="#2f2f2f" stroke-width="1.32" fill="none" />
<path d="M345.9,245.3 L387.8,215.3" stroke="#2f2f2f" stroke-width="1.32" fill="none" />
<path d="M354.8,231.3 L383.3,213.1" stroke="#2f2f2f" stroke-width="1.2" fill="none" />
<path d="M369.6,217.0 C370.0,216.1 371.8,213.2 372.5,211.6 C373.3,210.0 373.3,208.2 374.0,207.2 C374.6,206.1 375.6,205.4 376.5,205.2 C377.4,205.0 378.9,205.6 379.4,205.7" stroke="#2f2f2f" stroke-width="1.32" fill="none" />
<path d="M379.4,205.7 L391.2,210.1 L391.9,214.6 L391.4,224.4 L391.9,240.2" stroke="#2f2f2f" stroke-width="1.32" fill="none" />
<path d="M391.9,240.2 C392.3,241.5 394.1,245.9 394.4,248.1 C394.7,250.2 394.2,251.8 393.7,253.0 C393.2,254.2 391.6,254.8 391.2,255.1" stroke="#2f2f2f" stroke-width="1.2" fill="none" />
<path d="M374.0,207.2 L384.8,211.6" stroke="#2f2f2f" stroke-width="1.08" fill="none" />
<path d="M372.5,211.6 L374.5,212.6" stroke="#2f2f2f" stroke-width="1.08" fill="none" />
<path d="M381.4,222.6 C381.8,222.5 383.0,221.4 383.8,221.7 C384.7,221.9 385.8,223.0 386.3,224.4 C386.8,225.9 386.7,225.6 387.1,230.3 C387.5,235.0 388.7,248.8 389.0,252.5" stroke="#2f2f2f" stroke-width="1.2" fill="none" />
<path d="M381.4,222.6 L364.1,234.3" stroke="#2f2f2f" stroke-width="1.2" fill="none" />
<ellipse cx="388.0" cy="214.4" rx="1.5" ry="1.9" stroke="#2f2f2f" stroke-width="1.2" fill="none"/>
<ellipse cx="388.0" cy="214.4" rx="0.8" ry="1.1" stroke="#2f2f2f" stroke-width="0.96" fill="#555"/>
<path d="M389.0,252.5 L391.2,255.1" stroke="#2f2f2f" stroke-width="1.08" fill="none" />
<path d="M359.7,228.3 C360.9,227.5 365.0,225.3 366.6,223.4 C368.2,221.5 369.1,218.1 369.6,217.0" stroke="#2f2f2f" stroke-width="1.2" fill="none" />
<path d="M362.2,234.8 C363.4,235.0 367.5,235.2 369.6,236.2 C371.6,237.3 373.3,239.7 374.5,241.2 C375.7,242.6 376.5,244.4 376.9,245.1" stroke="#2f2f2f" stroke-width="1.2" fill="none" />
<path d="M360.7,236.7 C362.0,237.1 366.4,237.5 368.6,238.7 C370.7,239.9 372.7,243.2 373.5,244.1" stroke="#2f2f2f" stroke-width="1.2" fill="none" />
<path d="M359.7,238.7 L386.3,253.0" stroke="#2f2f2f" stroke-width="1.92" fill="none" />
<ellipse cx="356.3" cy="255.4" rx="4.1" ry="2.3" stroke="#2f2f2f" stroke-width="1.32" fill="none"/>
<ellipse cx="356.3" cy="255.4" rx="2.2" ry="1.2" stroke="#2f2f2f" stroke-width="1.2" fill="none"/>
<path d="M352.0,256.1 C352.1,256.5 351.6,257.8 352.3,258.4 C353.0,259.0 354.9,259.7 356.3,259.7 C357.6,259.7 359.8,259.0 360.5,258.4 C361.2,257.8 360.5,256.5 360.5,256.1" stroke="#2f2f2f" stroke-width="1.08" fill="none" />
<ellipse cx="345.4" cy="251.0" rx="2.0" ry="3.5" stroke="#2f2f2f" stroke-width="1.2" fill="none" transform="rotate(15 345.4 251.0)"/>
<ellipse cx="342.5" cy="243.8" rx="1.3" ry="2.2" stroke="#2f2f2f" stroke-width="1.2" fill="none" transform="rotate(15 342.5 243.8)"/>
<path d="M351.3,244.1 L352.8,248.1 L349.9,246.6 L351.3,244.1" stroke="#2f2f2f" stroke-width="1.08" fill="none" />
<path d="M356.3,242.6 L357.2,246.1 L359.2,244.1" stroke="#2f2f2f" stroke-width="1.08" fill="none" />
<path d="M343.9,258.4 C343.8,259.3 343.0,259.6 343.0,263.8 C343.0,268.0 343.8,280.2 343.9,283.5" stroke="#2f2f2f" stroke-width="1.2" fill="none" />
<path d="M342.0,258.4 C342.6,258.2 344.3,256.7 345.9,256.9 C347.6,257.2 350.8,259.4 351.8,259.9" stroke="#2f2f2f" stroke-width="1.2" fill="none" />
<path d="M282.8,420.0 C283.1,422.8 285.2,433.0 284.8,436.7 C284.4,440.5 281.0,441.0 280.3,442.7 C279.7,444.3 279.9,445.5 280.8,446.6 C281.8,447.8 285.4,449.1 286.3,449.6" stroke="#2f2f2f" stroke-width="1.32" fill="none" />
<path d="M286.3,449.6 L286.7,458.4 L290.7,462.4 L285.8,466.3 L284.8,473.2 L286.3,485.0 L291.7,489.0 L303.5,496.8 L307.4,495.9 L319.3,498.8" stroke="#2f2f2f" stroke-width="1.32" fill="none" />
<path d="M280.3,442.7 C282.2,443.1 289.1,445.0 291.2,445.1 C293.2,445.3 291.4,443.7 292.7,443.6 C293.9,443.6 297.6,444.5 298.6,444.6" stroke="#2f2f2f" stroke-width="1.2" fill="none" />
<path d="M298.6,444.6 L299.6,458.4 L291.7,459.4" stroke="#2f2f2f" stroke-width="1.2" fill="none" />
<path d="M286.7,449.6 L291.2,451.5 L291.2,459.4" stroke="#2f2f2f" stroke-width="1.08" fill="none" />
<path d="M285.8,469.3 C286.2,467.8 287.7,467.9 288.7,468.3 C289.7,468.6 291.3,469.6 291.7,471.2 C292.1,472.9 292.1,477.1 291.2,478.1 C290.3,479.1 287.2,478.6 286.3,477.1 C285.4,475.7 285.4,470.7 285.8,469.3 Z" stroke="#2f2f2f" stroke-width="1.2" fill="none" />
<path d="M287.7,469.8 L288.2,477.6" stroke="#2f2f2f" stroke-width="0.96" fill="none" />
<path d="M319.3,498.8 L320.2,503.7 L329.1,509.7 L333.1,511.1 L339.0,509.7 L370.0,490.9" stroke="#2f2f2f" stroke-width="1.32" fill="none" />
<path d="M340.0,509.2 L366.6,493.4" stroke="#2f2f2f" stroke-width="1.32" fill="none" />
<path d="M291.7,489.0 L321.2,497.8" stroke="#2f2f2f" stroke-width="1.08" fill="none" />
<path d="M292.9,487.0 L323.2,494.9" stroke="#2f2f2f" stroke-width="1.08" fill="none" />
<path d="M293.6,471.2 L333.1,489.0" stroke="#2f2f2f" stroke-width="1.2" fill="none" />
<path d="M294.1,475.2 L332.1,493.1" stroke="#2f2f2f" stroke-width="1.2" fill="none" />
<path d="M300.5,465.3 L302.5,469.3 L307.4,472.2" stroke="#2f2f2f" stroke-width="1.08" fill="none" />
<path d="M319.3,464.3 L320.2,468.3 L339.0,478.1" stroke="#2f2f2f" stroke-width="1.08" fill="none" />
<path d="M312.4,469.3 L338.0,482.1" stroke="#2f2f2f" stroke-width="1.08" fill="none" />
<path d="M295.1,488.0 L299.6,492.9 L304.5,494.9 L307.4,492.9" stroke="#2f2f2f" stroke-width="1.08" fill="none" />
<ellipse cx="305.5" cy="494.4" rx="1.4" ry="1.8" stroke="#2f2f2f" stroke-width="1.08" fill="none"/>
<path d="M323.2,494.9 C324.7,494.5 327.8,496.2 329.1,496.8 C330.4,497.5 331.1,497.2 331.1,498.8 C331.1,500.5 329.8,505.2 329.1,506.7 C328.5,508.2 328.5,508.2 327.1,507.7 C325.8,507.2 322.4,505.2 321.2,503.7 C320.1,502.3 319.9,500.3 320.2,498.8 C320.6,497.3 321.7,495.2 323.2,494.9 Z" stroke="#2f2f2f" stroke-width="1.2" fill="none" />
<path d="M329.1,496.8 L327.6,505.7" stroke="#2f2f2f" stroke-width="0.96" fill="none" />
<ellipse cx="333.5" cy="506.2" rx="1.5" ry="1.8" stroke="#2f2f2f" stroke-width="1.2" fill="none"/>
<ellipse cx="333.5" cy="506.2" rx="0.7" ry="0.9" stroke="#2f2f2f" stroke-width="0.96" fill="none"/>
<path d="M348.8,464.3 C348.7,465.8 348.5,470.7 347.8,473.2 C347.2,475.7 346.4,477.3 344.9,479.1 C343.4,480.9 340.8,482.5 339.0,484.0 C337.2,485.6 335.0,486.4 334.0,488.2 C333.1,490.0 333.5,492.3 333.1,494.9 C332.6,497.5 331.8,502.3 331.6,503.7" stroke="#2f2f2f" stroke-width="1.32" fill="none" />
<path d="M350.3,459.4 C350.2,461.8 350.6,470.2 350.0,473.7 C349.4,477.2 348.4,478.6 346.8,480.6 C345.3,482.6 342.7,484.3 340.9,485.8 C339.2,487.3 337.2,487.6 336.2,489.5 C335.2,491.3 335.4,494.3 335.0,496.8 C334.7,499.4 334.2,503.4 334.0,504.7" stroke="#2f2f2f" stroke-width="1.2" fill="none" />
<path d="M339.5,489.0 L354.7,479.1" stroke="#2f2f2f" stroke-width="1.2" fill="none" />
<path d="M339.5,489.0 L340.4,503.7 L367.0,488.0" stroke="#2f2f2f" stroke-width="1.2" fill="none" />
<path d="M340.0,504.2 L364.6,489.2 L374.5,484.2" stroke="#2f2f2f" stroke-width="1.2" fill="none" />
<path d="M340.0,489.0 L354.8,480.3" stroke="#2f2f2f" stroke-width="1.2" fill="none" />
<path d="M366.6,493.4 C367.1,494.0 368.4,496.4 369.6,497.0 C370.7,497.7 372.3,498.2 373.5,497.5 C374.6,496.9 375.8,494.8 376.5,493.1 C377.1,491.4 376.9,488.7 377.4,487.2 C377.9,485.7 379.1,484.6 379.4,484.0" stroke="#2f2f2f" stroke-width="1.32" fill="none" />
<ellipse cx="373.0" cy="492.4" rx="1.6" ry="2.2" stroke="#2f2f2f" stroke-width="1.2" fill="none" transform="rotate(20 373.0 492.4)"/>
<ellipse cx="373.0" cy="492.4" rx="0.8" ry="1.2" stroke="#2f2f2f" stroke-width="0.96" fill="none" transform="rotate(20 373.0 492.4)"/>
<ellipse cx="309.4" cy="459.4" rx="2.4" ry="3.7" stroke="#2f2f2f" stroke-width="1.44" fill="none" transform="rotate(22 309.4 459.4)"/>
<path d="M304.5,463.3 C303.8,461.5 304.3,458.4 305.5,456.5 C306.6,454.5 309.2,452.5 311.4,451.5 C313.5,450.5 316.5,450.0 318.3,450.5 C320.1,451.0 321.7,453.0 322.2,454.5 C322.7,456.0 322.7,457.3 321.2,459.4 C319.8,461.5 315.3,466.0 313.3,467.3 C311.4,468.6 310.9,467.9 309.4,467.3 C307.9,466.6 305.1,465.2 304.5,463.3 Z" stroke="#2f2f2f" stroke-width="1.2" fill="none" />
<path d="M312.4,440.7 L318.3,439.7 L309.4,452.5" stroke="#2f2f2f" stroke-width="1.2" fill="none" />
<path d="M314.3,446.6 L321.2,443.6" stroke="#2f2f2f" stroke-width="1.2" fill="none" />
<ellipse cx="334.0" cy="442.7" rx="2.4" ry="2.8" stroke="#2f2f2f" stroke-width="1.32" fill="none"/>
<path d="M333.1,441.2 L335.2,444.1" stroke="#2f2f2f" stroke-width="0.96" fill="none" />
<ellipse cx="333.5" cy="450.0" rx="2.4" ry="2.6" stroke="#2f2f2f" stroke-width="1.32" fill="none"/>
<ellipse cx="333.5" cy="450.2" rx="1.1" ry="1.3" stroke="#2f2f2f" stroke-width="0.96" fill="none"/>
<ellipse cx="341.9" cy="447.1" rx="1.0" ry="1.6" stroke="#2f2f2f" stroke-width="1.08" fill="none"/>
<path d="M339.0,452.5 C339.5,451.8 342.2,451.0 342.9,451.5 C343.6,452.0 344.0,454.7 343.4,455.5 C342.8,456.2 340.2,456.5 339.5,456.0 C338.7,455.5 338.4,453.3 339.0,452.5 Z" stroke="#2f2f2f" stroke-width="1.44" fill="none" />
<path d="M329.1,432.8 C329.3,435.3 329.3,443.8 330.1,447.6 C330.9,451.4 332.6,454.0 334.0,455.5 C335.5,457.0 337.5,456.9 339.0,456.7 C340.4,456.4 341.9,453.5 342.9,453.7 C343.9,453.9 344.5,454.1 344.9,457.6 C345.2,461.2 345.9,470.9 344.9,475.2 C343.9,479.4 340.0,481.7 339.0,483.1" stroke="#2f2f2f" stroke-width="1.2" fill="none" />
<ellipse cx="350.3" cy="463.3" rx="1.4" ry="2.2" stroke="#2f2f2f" stroke-width="1.2" fill="none" transform="rotate(15 350.3 463.3)"/>
<ellipse cx="352.3" cy="475.7" rx="1.6" ry="3.0" stroke="#2f2f2f" stroke-width="1.2" fill="none" transform="rotate(15 352.3 475.7)"/>
<path d="M352.8,441.7 C353.3,441.4 353.6,439.9 355.8,440.2 C357.9,440.5 363.3,442.4 365.6,443.6 C367.9,444.9 368.9,446.9 369.6,447.6" stroke="#2f2f2f" stroke-width="1.2" fill="none" />
<path d="M352.8,441.7 C352.5,442.8 351.0,446.4 350.8,448.6 C350.7,450.7 349.4,452.8 351.8,454.5 C354.3,456.1 363.3,457.8 365.6,458.4" stroke="#2f2f2f" stroke-width="1.2" fill="none" />
<ellipse cx="367.8" cy="450.7" rx="2.5" ry="5.9" stroke="#2f2f2f" stroke-width="2.0" fill="none" transform="rotate(10 367.8 450.7)"/>
<ellipse cx="368.2" cy="450.7" rx="1.3" ry="4.3" stroke="#2f2f2f" stroke-width="0.96" fill="none" transform="rotate(10 368.2 450.7)"/>
<path d="M354.8,458.6 C354.6,460.1 353.5,465.0 353.8,467.3 C354.1,469.6 354.3,470.9 356.7,472.2 C359.2,473.5 366.4,473.7 368.6,475.2 C370.7,476.7 369.4,480.1 369.6,481.1" stroke="#2f2f2f" stroke-width="1.2" fill="none" />
<path d="M354.8,476.2 C355.4,476.8 356.6,479.1 358.7,480.1 C360.9,481.1 366.1,481.9 367.6,482.3" stroke="#2f2f2f" stroke-width="1.2" fill="none" />
<path d="M369.6,475.2 L368.6,458.4" stroke="#2f2f2f" stroke-width="1.08" fill="none" />
<path d="M372.5,443.6 L409.0,460.4" stroke="#2f2f2f" stroke-width="1.2" fill="none" />
<path d="M409.0,460.4 L417.8,464.3" stroke="#2f2f2f" stroke-width="1.32" fill="none" />
<path d="M417.8,464.3 C418.2,465.0 419.6,466.8 419.8,468.3 C420.0,469.8 419.5,471.7 418.8,473.2 C418.2,474.7 417.2,476.3 415.9,477.1 C414.5,478.0 411.8,478.1 410.9,478.3" stroke="#2f2f2f" stroke-width="1.32" fill="none" />
<ellipse cx="416.4" cy="469.8" rx="1.7" ry="2.9" stroke="#2f2f2f" stroke-width="1.2" fill="#444" transform="rotate(15 416.4 469.8)"/>
<path d="M413.1,464.8 C411.6,464.4 406.9,462.6 404.0,462.4 C401.2,462.1 398.1,462.4 396.2,463.3 C394.2,464.3 392.5,466.5 392.2,468.3 C391.9,470.1 393.0,472.8 394.2,474.2 C395.3,475.5 398.3,476.0 399.1,476.4" stroke="#2f2f2f" stroke-width="1.32" fill="none" />
<path d="M400.3,475.4 C400.1,474.5 398.7,471.8 399.1,470.4 C399.6,469.1 401.4,468.0 403.1,467.5 C404.7,467.0 408.1,467.5 409.2,467.5" stroke="#2f2f2f" stroke-width="1.2" fill="none" />
<path d="M409.2,467.5 L410.9,478.3" stroke="#2f2f2f" stroke-width="1.08" fill="none" />
<path d="M370.5,468.3 C371.0,466.5 370.4,464.7 374.5,466.3 C378.6,467.9 391.1,476.3 395.2,478.1 C399.3,479.9 398.0,477.0 399.1,477.1 C400.2,477.3 401.1,478.0 401.6,479.1 C402.1,480.3 402.5,482.6 402.1,484.0 C401.7,485.5 400.4,487.2 399.1,488.0 C397.8,488.8 398.8,490.8 394.2,489.0 C389.6,487.2 375.5,480.6 371.5,477.1 C367.6,473.7 370.0,470.1 370.5,468.3 Z" stroke="#2f2f2f" stroke-width="1.32" fill="none" />
<ellipse cx="396.9" cy="483.1" rx="1.9" ry="2.8" stroke="#2f2f2f" stroke-width="1.2" fill="#555" transform="rotate(15 396.9 483.1)"/>
<path d="M373.5,468.5 L395.2,479.3" stroke="#2f2f2f" stroke-width="1.08" fill="none" />
<path d="M374.0,470.4 L394.4,481.3" stroke="#2f2f2f" stroke-width="1.08" fill="none" />
<path d="M376.0,466.5 L397.6,477.3" stroke="#2f2f2f" stroke-width="1.08" fill="none" />
<path d="M373.0,472.7 L393.2,483.5" stroke="#2f2f2f" stroke-width="1.08" fill="none" />
<path d="M409.0,451.5 C409.6,451.4 411.9,450.0 412.9,450.5 C413.9,451.0 414.9,453.0 415.1,454.5 C415.2,456.0 414.7,458.4 413.9,459.4 C413.0,460.4 410.6,460.2 410.0,460.4" stroke="#2f2f2f" stroke-width="1.2" fill="none" />
<ellipse cx="411.4" cy="456.3" rx="1.4" ry="1.9" stroke="#2f2f2f" stroke-width="1.2" fill="#555"/>
<path d="M401.1,449.6 L409.0,459.4" stroke="#2f2f2f" stroke-width="1.08" fill="none" />
<path d="M403.1,445.8 L407.0,444.6 L409.0,451.5" stroke="#2f2f2f" stroke-width="1.08" fill="none" />
<g opacity="0.995">
<text x="0" y="0" transform="translate(124.3 59.8) scale(0.78 1)" text-anchor="middle" font-size="21.3">11</text>
<text x="0" y="0" transform="translate(55.0 135.6) scale(0.78 1)" text-anchor="middle" font-size="21.3">12</text>
<text x="0" y="0" transform="translate(269.0 80.6) scale(0.78 1)" text-anchor="middle" font-size="21.3">2</text>
<text x="0" y="0" transform="translate(337.0 111.1) scale(0.78 1)" text-anchor="middle" font-size="21.3">19</text>
<text x="0" y="0" transform="translate(430.0 148.6) scale(0.78 1)" text-anchor="middle" font-size="21.3">1</text>
<text x="0" y="0" transform="translate(190.0 449.6) scale(0.78 1)" text-anchor="middle" font-size="21.3">3</text>
<text x="0" y="0" transform="translate(211.0 483.6) scale(0.78 1)" text-anchor="middle" font-size="21.3">19</text>
<text x="0" y="0" transform="translate(446.0 266.6) scale(0.78 1)" text-anchor="middle" font-size="21.3">4</text>
<text x="0" y="0" transform="translate(499.3 278.9) scale(0.78 1)" text-anchor="middle" font-size="21.3">16</text>
<text x="0" y="0" transform="translate(545.5 286.2) scale(0.78 1)" text-anchor="middle" font-size="21.3">17</text>
<text x="0" y="0" transform="translate(591.8 306.6) scale(0.78 1)" text-anchor="middle" font-size="21.3">14</text>
<text x="0" y="0" transform="translate(629.3 308.0) scale(0.78 1)" text-anchor="middle" font-size="21.3">15</text>
<text x="0" y="0" transform="translate(671.0 308.6) scale(0.78 1)" text-anchor="middle" font-size="21.3">31</text>
<text x="0" y="0" transform="translate(710.0 315.6) scale(0.78 1)" text-anchor="middle" font-size="21.3">13</text>
<text x="0" y="0" transform="translate(754.0 312.6) scale(0.78 1)" text-anchor="middle" font-size="21.3">10</text>
<text x="0" y="0" transform="translate(800.0 329.6) scale(0.78 1)" text-anchor="middle" font-size="21.3">18</text>
<text x="0" y="0" transform="translate(757.0 645.1) scale(0.78 1)" text-anchor="middle" font-size="21.3">20</text>
<text x="0" y="0" transform="translate(862.0 336.6) scale(0.78 1)" text-anchor="middle" font-size="21.3">8</text>
<text x="0" y="0" transform="translate(921.0 350.6) scale(0.78 1)" text-anchor="middle" font-size="21.3">9</text>
<text x="0" y="0" transform="translate(301.6 555.6) scale(0.78 1)" text-anchor="middle" font-size="21.3">6</text>
<text x="0" y="0" transform="translate(300.7 615.1) scale(0.78 1)" text-anchor="middle" font-size="21.3">5</text>
<text x="0" y="0" transform="translate(414.7 766.9) scale(0.78 1)" text-anchor="middle" font-size="21.3">7</text>
<text x="0" y="0" transform="translate(497.0 810.8) scale(0.78 1)" text-anchor="middle" font-size="21.3">21</text>
<text x="0" y="0" transform="translate(197.0 880.6) scale(0.78 1)" text-anchor="middle" font-size="21.3">25</text>
<text x="0" y="0" transform="translate(169.0 1085.6) scale(0.78 1)" text-anchor="middle" font-size="21.3">24</text>
<text x="0" y="0" transform="translate(286.0 879.6) scale(0.78 1)" text-anchor="middle" font-size="21.3">24</text>
<text x="0" y="0" transform="translate(544.1 1086.2) scale(0.78 1)" text-anchor="middle" font-size="21.3">26</text>
<text x="0" y="0" transform="translate(180.0 979.6) scale(0.78 1)" text-anchor="middle" font-size="21.3">22</text>
<text x="0" y="0" transform="translate(558.6 1008.1) scale(0.78 1)" text-anchor="middle" font-size="21.3">23</text>
<text x="0" y="0" transform="translate(611.0 1012.0) scale(0.78 1)" text-anchor="middle" font-size="21.3">27</text>
<text x="0" y="0" transform="translate(649.4 1001.8) scale(0.78 1)" text-anchor="middle" font-size="21.3">28</text>
<text x="0" y="0" transform="translate(692.4 984.4) scale(0.78 1)" text-anchor="middle" font-size="21.3">29</text>
<text x="0" y="0" transform="translate(801.8 849.4) scale(0.78 1)" text-anchor="middle" font-size="21.3">30</text>
<text x="0" y="0" transform="translate(942.0 1211.2) scale(0.78 1)" text-anchor="middle" font-size="21.3">55131</text>
</g>
</svg>
</body></html>
